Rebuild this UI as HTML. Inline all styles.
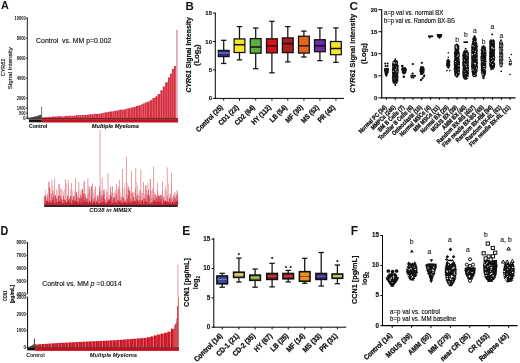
<!DOCTYPE html>
<html><head><meta charset="utf-8"><style>
html,body{margin:0;padding:0;background:#fff;overflow:hidden;}
svg{display:block;font-family:"Liberation Sans", sans-serif;will-change:transform;}
</style></head><body>
<svg width="520" height="363" viewBox="0 0 520 363">
<rect width="520" height="363" fill="#fff"/>
<text x="1" y="9.3" font-size="10.8" font-weight="bold" fill="#111" >A</text>
<text x="185.6" y="9.6" font-size="11.5" font-weight="bold" fill="#111" >B</text>
<text x="349.6" y="9.8" font-size="11.8" font-weight="bold" fill="#111" >C</text>
<text x="0.45" y="235" font-size="12" font-weight="bold" fill="#111"  textLength="7.8" lengthAdjust="spacingAndGlyphs">D</text>
<text x="182.37" y="235" font-size="12" font-weight="bold" fill="#111" >E</text>
<text x="350.77" y="235" font-size="12" font-weight="bold" fill="#111" >F</text>
<line x1="27.3" y1="17.5" x2="27.3" y2="118.7" stroke="#000" stroke-width="0.9" />
<line x1="25.8" y1="18.2" x2="27.3" y2="18.2" stroke="#000" stroke-width="0.7" />
<text x="25.6" y="19.8" font-size="4.6" font-weight="bold" text-anchor="end" fill="#111"  textLength="11.1" lengthAdjust="spacingAndGlyphs">10000</text>
<line x1="25.8" y1="38.2" x2="27.3" y2="38.2" stroke="#000" stroke-width="0.7" />
<text x="25.6" y="39.8" font-size="4.6" font-weight="bold" text-anchor="end" fill="#111"  textLength="8.88" lengthAdjust="spacingAndGlyphs">8000</text>
<line x1="25.8" y1="58.2" x2="27.3" y2="58.2" stroke="#000" stroke-width="0.7" />
<text x="25.6" y="59.8" font-size="4.6" font-weight="bold" text-anchor="end" fill="#111"  textLength="8.88" lengthAdjust="spacingAndGlyphs">6000</text>
<line x1="25.8" y1="78.2" x2="27.3" y2="78.2" stroke="#000" stroke-width="0.7" />
<text x="25.6" y="79.8" font-size="4.6" font-weight="bold" text-anchor="end" fill="#111"  textLength="8.88" lengthAdjust="spacingAndGlyphs">4000</text>
<line x1="25.8" y1="98.2" x2="27.3" y2="98.2" stroke="#000" stroke-width="0.7" />
<text x="25.6" y="99.8" font-size="4.6" font-weight="bold" text-anchor="end" fill="#111"  textLength="8.88" lengthAdjust="spacingAndGlyphs">2000</text>
<line x1="25.8" y1="108.2" x2="27.3" y2="108.2" stroke="#000" stroke-width="0.7" />
<text x="25.6" y="109.8" font-size="4.6" font-weight="bold" text-anchor="end" fill="#111"  textLength="8.88" lengthAdjust="spacingAndGlyphs">1000</text>
<line x1="25.8" y1="113.2" x2="27.3" y2="113.2" stroke="#000" stroke-width="0.7" />
<text x="25.6" y="114.8" font-size="4.6" font-weight="bold" text-anchor="end" fill="#111"  textLength="6.66" lengthAdjust="spacingAndGlyphs">500</text>
<line x1="25.8" y1="118.2" x2="27.3" y2="118.2" stroke="#000" stroke-width="0.7" />
<text x="25.6" y="119.8" font-size="4.6" font-weight="bold" text-anchor="end" fill="#111" >0</text>
<text x="0" y="0" font-size="5.6" font-style="italic" text-anchor="middle" fill="#111" transform="translate(5,67.5) rotate(-90)"  stroke="#111" stroke-width="0.15" textLength="17.4" lengthAdjust="spacingAndGlyphs">CYR61</text>
<text x="0" y="0" font-size="5.2" text-anchor="middle" fill="#111" transform="translate(11.7,68.2) rotate(-90)"  stroke="#111" stroke-width="0.15" textLength="42" lengthAdjust="spacingAndGlyphs">Signal Intensity</text>
<text x="36.1" y="43" font-size="7.6" fill="#111"  stroke="#111" stroke-width="0.15" textLength="75.2" lengthAdjust="spacingAndGlyphs">Control&#160; vs. MM p=0.002</text>
<rect x="28" y="117.7" width="0.97" height="0.5" fill="#1a1a1a" />
<rect x="28.97" y="117.65" width="0.97" height="0.55" fill="#1a1a1a" />
<rect x="29.94" y="117.54" width="0.97" height="0.66" fill="#1a1a1a" />
<rect x="30.91" y="117.39" width="0.97" height="0.81" fill="#1a1a1a" />
<rect x="31.88" y="117.21" width="0.97" height="0.99" fill="#1a1a1a" />
<rect x="32.85" y="117.01" width="0.97" height="1.19" fill="#1a1a1a" />
<rect x="33.82" y="116.77" width="0.97" height="1.43" fill="#1a1a1a" />
<rect x="34.79" y="116.51" width="0.97" height="1.69" fill="#1a1a1a" />
<rect x="35.76" y="116.23" width="0.97" height="1.97" fill="#1a1a1a" />
<rect x="36.73" y="115.92" width="0.97" height="2.28" fill="#1a1a1a" />
<rect x="37.7" y="115.6" width="0.97" height="2.6" fill="#1a1a1a" />
<rect x="38.67" y="115.25" width="0.97" height="2.95" fill="#1a1a1a" />
<rect x="39.64" y="114.88" width="0.97" height="3.32" fill="#1a1a1a" />
<rect x="40.61" y="114.5" width="0.97" height="3.7" fill="#1a1a1a" />
<rect x="41.2" y="106.6" width="0.9" height="11.6" fill="#666" />
<rect x="42" y="117.42" width="2.4" height="0.78" fill="#d42e3e" />
<rect x="43.9" y="118.02" width="0.5" height="0.18" fill="#ea7c88" />
<rect x="44.4" y="117.14" width="2.8" height="1.06" fill="#d42e3e" />
<rect x="46.7" y="117.74" width="0.5" height="0.46" fill="#ea7c88" />
<rect x="47.2" y="117.15" width="1.6" height="1.05" fill="#d42e3e" />
<rect x="48.3" y="117.75" width="0.5" height="0.45" fill="#ea7c88" />
<rect x="48.8" y="116.82" width="1.6" height="1.38" fill="#d42e3e" />
<rect x="49.9" y="117.42" width="0.5" height="0.78" fill="#ea7c88" />
<rect x="50.4" y="117.08" width="1.6" height="1.12" fill="#d42e3e" />
<rect x="51.5" y="117.68" width="0.5" height="0.52" fill="#ea7c88" />
<rect x="52" y="116.48" width="2" height="1.72" fill="#d42e3e" />
<rect x="53.5" y="117.08" width="0.5" height="1.12" fill="#ea7c88" />
<rect x="54" y="116.61" width="2.8" height="1.59" fill="#d42e3e" />
<rect x="56.3" y="117.21" width="0.5" height="0.99" fill="#ea7c88" />
<rect x="56.8" y="116.32" width="2" height="1.88" fill="#d42e3e" />
<rect x="58.3" y="116.92" width="0.5" height="1.28" fill="#ea7c88" />
<rect x="58.8" y="116.21" width="2.8" height="1.99" fill="#d42e3e" />
<rect x="61.1" y="116.81" width="0.5" height="1.39" fill="#ea7c88" />
<rect x="61.6" y="116.65" width="1.6" height="1.55" fill="#d42e3e" />
<rect x="62.7" y="117.25" width="0.5" height="0.95" fill="#ea7c88" />
<rect x="63.2" y="116.37" width="1.6" height="1.83" fill="#d42e3e" />
<rect x="64.3" y="116.97" width="0.5" height="1.23" fill="#ea7c88" />
<rect x="64.8" y="115.92" width="2.8" height="2.28" fill="#d42e3e" />
<rect x="67.1" y="116.52" width="0.5" height="1.68" fill="#ea7c88" />
<rect x="67.6" y="115.75" width="2" height="2.45" fill="#d42e3e" />
<rect x="69.1" y="116.35" width="0.5" height="1.85" fill="#ea7c88" />
<rect x="69.6" y="115.76" width="2" height="2.44" fill="#d42e3e" />
<rect x="71.1" y="116.36" width="0.5" height="1.84" fill="#ea7c88" />
<rect x="71.6" y="115.78" width="2" height="2.42" fill="#d42e3e" />
<rect x="73.1" y="116.38" width="0.5" height="1.82" fill="#ea7c88" />
<rect x="73.6" y="115.64" width="2.4" height="2.56" fill="#d42e3e" />
<rect x="75.5" y="116.24" width="0.5" height="1.96" fill="#ea7c88" />
<rect x="76" y="115.22" width="2" height="2.98" fill="#d42e3e" />
<rect x="77.5" y="115.82" width="0.5" height="2.38" fill="#ea7c88" />
<rect x="78" y="115.24" width="2" height="2.96" fill="#d42e3e" />
<rect x="79.5" y="115.84" width="0.5" height="2.36" fill="#ea7c88" />
<rect x="80" y="115.24" width="1.6" height="2.96" fill="#d42e3e" />
<rect x="81.1" y="115.84" width="0.5" height="2.36" fill="#ea7c88" />
<rect x="81.6" y="115.06" width="2" height="3.14" fill="#d42e3e" />
<rect x="83.1" y="115.66" width="0.5" height="2.54" fill="#ea7c88" />
<rect x="83.6" y="115.03" width="2.8" height="3.17" fill="#d42e3e" />
<rect x="85.9" y="115.63" width="0.5" height="2.57" fill="#ea7c88" />
<rect x="86.4" y="114.7" width="2.8" height="3.5" fill="#d42e3e" />
<rect x="88.7" y="115.3" width="0.5" height="2.9" fill="#ea7c88" />
<rect x="89.2" y="114.34" width="2.8" height="3.86" fill="#d42e3e" />
<rect x="91.5" y="114.94" width="0.5" height="3.26" fill="#ea7c88" />
<rect x="92" y="114.41" width="2" height="3.79" fill="#d42e3e" />
<rect x="93.5" y="115.01" width="0.5" height="3.19" fill="#ea7c88" />
<rect x="94" y="113.82" width="2" height="4.38" fill="#d42e3e" />
<rect x="95.5" y="114.42" width="0.5" height="3.78" fill="#ea7c88" />
<rect x="96" y="113.92" width="2.4" height="4.28" fill="#d42e3e" />
<rect x="97.9" y="114.52" width="0.5" height="3.68" fill="#ea7c88" />
<rect x="98.4" y="113.69" width="2.4" height="4.51" fill="#d42e3e" />
<rect x="100.3" y="114.29" width="0.5" height="3.91" fill="#ea7c88" />
<rect x="100.8" y="113.26" width="2.4" height="4.94" fill="#d42e3e" />
<rect x="102.7" y="113.86" width="0.5" height="4.34" fill="#ea7c88" />
<rect x="103.2" y="112.68" width="1.6" height="5.52" fill="#d42e3e" />
<rect x="104.3" y="113.28" width="0.5" height="4.92" fill="#ea7c88" />
<rect x="104.8" y="112.34" width="2.8" height="5.86" fill="#d42e3e" />
<rect x="107.1" y="112.94" width="0.5" height="5.26" fill="#ea7c88" />
<rect x="107.6" y="111.82" width="2.4" height="6.38" fill="#d42e3e" />
<rect x="109.5" y="112.42" width="0.5" height="5.78" fill="#ea7c88" />
<rect x="110" y="111.47" width="2.8" height="6.73" fill="#d42e3e" />
<rect x="112.3" y="112.07" width="0.5" height="6.13" fill="#ea7c88" />
<rect x="112.8" y="111.24" width="1.6" height="6.96" fill="#d42e3e" />
<rect x="113.9" y="111.84" width="0.5" height="6.36" fill="#ea7c88" />
<rect x="114.4" y="110.66" width="2.4" height="7.54" fill="#d42e3e" />
<rect x="116.3" y="111.26" width="0.5" height="6.94" fill="#ea7c88" />
<rect x="116.8" y="110.42" width="2.4" height="7.78" fill="#d42e3e" />
<rect x="118.7" y="111.02" width="0.5" height="7.18" fill="#ea7c88" />
<rect x="119.2" y="109.68" width="2.8" height="8.52" fill="#d42e3e" />
<rect x="121.5" y="110.28" width="0.5" height="7.92" fill="#ea7c88" />
<rect x="122" y="109.85" width="1.6" height="8.35" fill="#d42e3e" />
<rect x="123.1" y="110.45" width="0.5" height="7.75" fill="#ea7c88" />
<rect x="123.6" y="109.26" width="2.8" height="8.94" fill="#d42e3e" />
<rect x="125.9" y="109.86" width="0.5" height="8.34" fill="#ea7c88" />
<rect x="126.4" y="108.42" width="1.6" height="9.78" fill="#d42e3e" />
<rect x="127.5" y="109.02" width="0.5" height="9.18" fill="#ea7c88" />
<rect x="128" y="108.36" width="2.4" height="9.84" fill="#d42e3e" />
<rect x="129.9" y="108.96" width="0.5" height="9.24" fill="#ea7c88" />
<rect x="130.4" y="107.48" width="2.8" height="10.72" fill="#d42e3e" />
<rect x="132.7" y="108.08" width="0.5" height="10.12" fill="#ea7c88" />
<rect x="133.2" y="107.09" width="2.8" height="11.11" fill="#d42e3e" />
<rect x="135.5" y="107.69" width="0.5" height="10.51" fill="#ea7c88" />
<rect x="136" y="105.87" width="2.4" height="12.33" fill="#d42e3e" />
<rect x="137.9" y="106.47" width="0.5" height="11.73" fill="#ea7c88" />
<rect x="138.4" y="105.37" width="2.8" height="12.83" fill="#d42e3e" />
<rect x="140.7" y="105.97" width="0.5" height="12.23" fill="#ea7c88" />
<rect x="141.2" y="104.28" width="1.6" height="13.92" fill="#d42e3e" />
<rect x="142.3" y="104.88" width="0.5" height="13.32" fill="#ea7c88" />
<rect x="142.8" y="103.43" width="2" height="14.77" fill="#d42e3e" />
<rect x="144.3" y="104.03" width="0.5" height="14.17" fill="#ea7c88" />
<rect x="144.8" y="102.54" width="2" height="15.66" fill="#d42e3e" />
<rect x="146.3" y="103.14" width="0.5" height="15.06" fill="#ea7c88" />
<rect x="146.8" y="101.7" width="2.8" height="16.5" fill="#d42e3e" />
<rect x="149.1" y="102.3" width="0.5" height="15.9" fill="#ea7c88" />
<rect x="149.6" y="100.25" width="2.8" height="17.95" fill="#d42e3e" />
<rect x="151.9" y="100.85" width="0.5" height="17.35" fill="#ea7c88" />
<rect x="152.4" y="98.1" width="2.8" height="20.1" fill="#d42e3e" />
<rect x="154.7" y="98.7" width="0.5" height="19.5" fill="#ea7c88" />
<rect x="155.2" y="96.4" width="2.4" height="21.8" fill="#d42e3e" />
<rect x="157.1" y="97" width="0.5" height="21.2" fill="#ea7c88" />
<rect x="157.6" y="94.03" width="2.8" height="24.17" fill="#d42e3e" />
<rect x="159.9" y="94.63" width="0.5" height="23.57" fill="#ea7c88" />
<rect x="160.4" y="90.35" width="2.4" height="27.85" fill="#d42e3e" />
<rect x="162.3" y="90.95" width="0.5" height="27.25" fill="#ea7c88" />
<rect x="162.8" y="86.5" width="2.4" height="31.7" fill="#d42e3e" />
<rect x="164.7" y="87.1" width="0.5" height="31.1" fill="#ea7c88" />
<rect x="165.2" y="82.29" width="2.8" height="35.91" fill="#d42e3e" />
<rect x="167.5" y="82.89" width="0.5" height="35.31" fill="#ea7c88" />
<rect x="168" y="77.46" width="2" height="40.74" fill="#d42e3e" />
<rect x="169.5" y="78.06" width="0.5" height="40.14" fill="#ea7c88" />
<rect x="170" y="73.59" width="2" height="44.61" fill="#d42e3e" />
<rect x="171.5" y="74.19" width="0.5" height="44.01" fill="#ea7c88" />
<rect x="172" y="68.98" width="2" height="49.22" fill="#d42e3e" />
<rect x="173.5" y="69.58" width="0.5" height="48.62" fill="#ea7c88" />
<rect x="174" y="66.06" width="2" height="52.14" fill="#d42e3e" />
<rect x="175.5" y="66.66" width="0.5" height="51.54" fill="#ea7c88" />
<rect x="176" y="29.8" width="1.8" height="88.4" fill="#e2abb0" />
<line x1="27" y1="118.7" x2="178" y2="118.7" stroke="#3a0a0a" stroke-width="1" />
<rect x="29" y="119.4" width="12.8" height="2.9" fill="#111" />
<rect x="42" y="119.1" width="136" height="3.4" fill="#c8101c" />
<text x="29" y="127.9" font-size="5.3" font-weight="bold" fill="#111"  stroke="#111" stroke-width="0.1" textLength="18.2" lengthAdjust="spacingAndGlyphs">Control</text>
<text x="91.8" y="127.9" font-size="5.8" font-weight="bold" font-style="italic" fill="#111"  stroke="#111" stroke-width="0.1" textLength="47" lengthAdjust="spacingAndGlyphs">Multiple Myeloma</text>
<rect x="44.2" y="195.17" width="0.6" height="10.43" fill="#e68890" />
<rect x="44.9" y="189.51" width="0.6" height="16.09" fill="#e68890" />
<rect x="45.6" y="194.51" width="0.6" height="11.09" fill="#e68890" />
<rect x="46.3" y="198.38" width="0.6" height="7.22" fill="#e68890" />
<rect x="47" y="193.04" width="0.6" height="12.56" fill="#e68890" />
<rect x="47.7" y="199.47" width="0.6" height="6.13" fill="#e68890" />
<rect x="48.4" y="199.51" width="0.6" height="6.09" fill="#e68890" />
<rect x="49.1" y="181.74" width="0.6" height="23.86" fill="#e68890" />
<rect x="49.8" y="189.02" width="0.6" height="16.58" fill="#e68890" />
<rect x="50.5" y="193.21" width="0.6" height="12.39" fill="#e68890" />
<rect x="51.2" y="200.42" width="0.6" height="5.18" fill="#e68890" />
<rect x="51.9" y="199.89" width="0.6" height="5.71" fill="#e68890" />
<rect x="52.6" y="185.89" width="0.6" height="19.71" fill="#e68890" />
<rect x="53.3" y="195.31" width="0.6" height="10.29" fill="#e68890" />
<rect x="54" y="194.37" width="0.6" height="11.23" fill="#e68890" />
<rect x="54.7" y="194.6" width="0.6" height="11" fill="#e68890" />
<rect x="55.4" y="195.11" width="0.6" height="10.49" fill="#e68890" />
<rect x="56.1" y="188.63" width="0.6" height="16.97" fill="#e68890" />
<rect x="56.8" y="190.52" width="0.6" height="15.08" fill="#e68890" />
<rect x="57.5" y="196.82" width="0.6" height="8.78" fill="#e68890" />
<rect x="58.2" y="183.47" width="0.6" height="22.13" fill="#e68890" />
<rect x="58.9" y="195.8" width="0.6" height="9.8" fill="#e68890" />
<rect x="59.6" y="195.96" width="0.6" height="9.64" fill="#e68890" />
<rect x="60.3" y="187.92" width="0.6" height="17.68" fill="#e68890" />
<rect x="61" y="189.68" width="0.6" height="15.92" fill="#e68890" />
<rect x="61.7" y="188.84" width="0.6" height="16.76" fill="#e68890" />
<rect x="62.4" y="199.72" width="0.6" height="5.88" fill="#e68890" />
<rect x="63.1" y="191.26" width="0.6" height="14.34" fill="#e68890" />
<rect x="63.8" y="199.55" width="0.6" height="6.05" fill="#e68890" />
<rect x="64.5" y="189.03" width="0.6" height="16.57" fill="#e68890" />
<rect x="65.2" y="199.18" width="0.6" height="6.42" fill="#e68890" />
<rect x="65.9" y="183.22" width="0.6" height="22.38" fill="#e68890" />
<rect x="66.6" y="198.47" width="0.6" height="7.13" fill="#e68890" />
<rect x="67.3" y="195.23" width="0.6" height="10.37" fill="#e68890" />
<rect x="68" y="184.45" width="0.6" height="21.15" fill="#e68890" />
<rect x="68.7" y="199.2" width="0.6" height="6.4" fill="#e68890" />
<rect x="69.4" y="198.05" width="0.6" height="7.55" fill="#e68890" />
<rect x="70.1" y="188.95" width="0.6" height="16.65" fill="#e68890" />
<rect x="70.8" y="196.95" width="0.6" height="8.65" fill="#e68890" />
<rect x="71.5" y="198.07" width="0.6" height="7.53" fill="#e68890" />
<rect x="72.2" y="190.35" width="0.6" height="15.25" fill="#e68890" />
<rect x="72.9" y="199.4" width="0.6" height="6.2" fill="#e68890" />
<rect x="73.6" y="198.04" width="0.6" height="7.56" fill="#e68890" />
<rect x="74.3" y="191.33" width="0.6" height="14.27" fill="#e68890" />
<rect x="75" y="188.88" width="0.6" height="16.72" fill="#e68890" />
<rect x="75.7" y="193.61" width="0.6" height="11.99" fill="#e68890" />
<rect x="76.4" y="193.38" width="0.6" height="12.22" fill="#e68890" />
<rect x="77.1" y="195.16" width="0.6" height="10.44" fill="#e68890" />
<rect x="77.8" y="194.8" width="0.6" height="10.8" fill="#e68890" />
<rect x="78.5" y="190.2" width="0.6" height="15.4" fill="#e68890" />
<rect x="79.2" y="198.75" width="0.6" height="6.85" fill="#e68890" />
<rect x="79.9" y="190.79" width="0.6" height="14.81" fill="#e68890" />
<rect x="80.6" y="198.32" width="0.6" height="7.28" fill="#e68890" />
<rect x="81.3" y="189.32" width="0.6" height="16.28" fill="#e68890" />
<rect x="82" y="189.2" width="0.6" height="16.4" fill="#e68890" />
<rect x="82.7" y="193.36" width="0.6" height="12.24" fill="#e68890" />
<rect x="83.4" y="181.9" width="0.6" height="23.7" fill="#e68890" />
<rect x="84.1" y="197.74" width="0.6" height="7.86" fill="#e68890" />
<rect x="84.8" y="197.52" width="0.6" height="8.08" fill="#e68890" />
<rect x="85.5" y="193.44" width="0.6" height="12.16" fill="#e68890" />
<rect x="86.2" y="198.49" width="0.6" height="7.11" fill="#e68890" />
<rect x="86.9" y="199.77" width="0.6" height="5.83" fill="#e68890" />
<rect x="87.6" y="193.89" width="0.6" height="11.71" fill="#e68890" />
<rect x="88.3" y="193.23" width="0.6" height="12.37" fill="#e68890" />
<rect x="89" y="189.59" width="0.6" height="16.01" fill="#e68890" />
<rect x="89.7" y="200.4" width="0.6" height="5.2" fill="#e68890" />
<rect x="90.4" y="188.19" width="0.6" height="17.41" fill="#e68890" />
<rect x="91.1" y="196.17" width="0.6" height="9.43" fill="#e68890" />
<rect x="91.8" y="199.02" width="0.6" height="6.58" fill="#e68890" />
<rect x="92.5" y="189.91" width="0.6" height="15.69" fill="#e68890" />
<rect x="93.2" y="192.72" width="0.6" height="12.88" fill="#e68890" />
<rect x="93.9" y="189.32" width="0.6" height="16.28" fill="#e68890" />
<rect x="94.6" y="200.39" width="0.6" height="5.21" fill="#e68890" />
<rect x="95.3" y="192.19" width="0.6" height="13.41" fill="#e68890" />
<rect x="96" y="200.34" width="0.6" height="5.26" fill="#e68890" />
<rect x="96.7" y="194.81" width="0.6" height="10.79" fill="#e68890" />
<rect x="97.4" y="196.77" width="0.6" height="8.83" fill="#e68890" />
<rect x="98.1" y="199.7" width="0.6" height="5.9" fill="#e68890" />
<rect x="98.8" y="191.76" width="0.6" height="13.84" fill="#e68890" />
<rect x="99.5" y="191.75" width="0.6" height="13.85" fill="#e68890" />
<rect x="100.2" y="191.08" width="0.6" height="14.52" fill="#e68890" />
<rect x="100.9" y="196.38" width="0.6" height="9.22" fill="#e68890" />
<rect x="101.6" y="189.79" width="0.6" height="15.81" fill="#e68890" />
<rect x="102.3" y="195.59" width="0.6" height="10.01" fill="#e68890" />
<rect x="103" y="190.24" width="0.6" height="15.36" fill="#e68890" />
<rect x="103.7" y="193.1" width="0.6" height="12.5" fill="#e68890" />
<rect x="104.4" y="193.61" width="0.6" height="11.99" fill="#e68890" />
<rect x="105.1" y="199.64" width="0.6" height="5.96" fill="#e68890" />
<rect x="105.8" y="188.68" width="0.6" height="16.92" fill="#e68890" />
<rect x="106.5" y="191.86" width="0.6" height="13.74" fill="#e68890" />
<rect x="107.2" y="191.78" width="0.6" height="13.82" fill="#e68890" />
<rect x="107.9" y="195.31" width="0.6" height="10.29" fill="#e68890" />
<rect x="108.6" y="199.59" width="0.6" height="6.01" fill="#e68890" />
<rect x="109.3" y="200.24" width="0.6" height="5.36" fill="#e68890" />
<rect x="110" y="194.83" width="0.6" height="10.77" fill="#e68890" />
<rect x="110.7" y="192.22" width="0.6" height="13.38" fill="#e68890" />
<rect x="111.4" y="193.23" width="0.6" height="12.37" fill="#e68890" />
<rect x="112.1" y="187.19" width="0.6" height="18.41" fill="#e68890" />
<rect x="112.8" y="192.46" width="0.6" height="13.14" fill="#e68890" />
<rect x="113.5" y="198.56" width="0.6" height="7.04" fill="#e68890" />
<rect x="114.2" y="192.68" width="0.6" height="12.92" fill="#e68890" />
<rect x="114.9" y="189.9" width="0.6" height="15.7" fill="#e68890" />
<rect x="115.6" y="192.61" width="0.6" height="12.99" fill="#e68890" />
<rect x="116.3" y="195.43" width="0.6" height="10.17" fill="#e68890" />
<rect x="117" y="189.63" width="0.6" height="15.97" fill="#e68890" />
<rect x="117.7" y="195.99" width="0.6" height="9.61" fill="#e68890" />
<rect x="118.4" y="185.63" width="0.6" height="19.97" fill="#e68890" />
<rect x="119.1" y="190.55" width="0.6" height="15.05" fill="#e68890" />
<rect x="119.8" y="192.07" width="0.6" height="13.53" fill="#e68890" />
<rect x="120.5" y="197.28" width="0.6" height="8.32" fill="#e68890" />
<rect x="121.2" y="195.19" width="0.6" height="10.41" fill="#e68890" />
<rect x="121.9" y="198.03" width="0.6" height="7.57" fill="#e68890" />
<rect x="122.6" y="193.09" width="0.6" height="12.51" fill="#e68890" />
<rect x="123.3" y="196.82" width="0.6" height="8.78" fill="#e68890" />
<rect x="124" y="188.82" width="0.6" height="16.78" fill="#e68890" />
<rect x="124.7" y="182.62" width="0.6" height="22.98" fill="#e68890" />
<rect x="125.4" y="200.1" width="0.6" height="5.5" fill="#e68890" />
<rect x="126.1" y="193.75" width="0.6" height="11.85" fill="#e68890" />
<rect x="126.8" y="188.51" width="0.6" height="17.09" fill="#e68890" />
<rect x="127.5" y="182.96" width="0.6" height="22.64" fill="#e68890" />
<rect x="128.2" y="189.22" width="0.6" height="16.38" fill="#e68890" />
<rect x="128.9" y="193.05" width="0.6" height="12.55" fill="#e68890" />
<rect x="129.6" y="193.04" width="0.6" height="12.56" fill="#e68890" />
<rect x="130.3" y="190.91" width="0.6" height="14.69" fill="#e68890" />
<rect x="131" y="192.39" width="0.6" height="13.21" fill="#e68890" />
<rect x="131.7" y="194.9" width="0.6" height="10.7" fill="#e68890" />
<rect x="132.4" y="200.47" width="0.6" height="5.13" fill="#e68890" />
<rect x="133.1" y="192.03" width="0.6" height="13.57" fill="#e68890" />
<rect x="133.8" y="197.33" width="0.6" height="8.27" fill="#e68890" />
<rect x="134.5" y="192.23" width="0.6" height="13.37" fill="#e68890" />
<rect x="135.2" y="193.23" width="0.6" height="12.37" fill="#e68890" />
<rect x="135.9" y="195.88" width="0.6" height="9.72" fill="#e68890" />
<rect x="136.6" y="182.14" width="0.6" height="23.46" fill="#e68890" />
<rect x="137.3" y="185.97" width="0.6" height="19.63" fill="#e68890" />
<rect x="138" y="193.09" width="0.6" height="12.51" fill="#e68890" />
<rect x="138.7" y="196.08" width="0.6" height="9.52" fill="#e68890" />
<rect x="139.4" y="190.05" width="0.6" height="15.55" fill="#e68890" />
<rect x="140.1" y="189.27" width="0.6" height="16.33" fill="#e68890" />
<rect x="140.8" y="192.78" width="0.6" height="12.82" fill="#e68890" />
<rect x="141.5" y="191.94" width="0.6" height="13.66" fill="#e68890" />
<rect x="142.2" y="192.9" width="0.6" height="12.7" fill="#e68890" />
<rect x="142.9" y="198.04" width="0.6" height="7.56" fill="#e68890" />
<rect x="143.6" y="188.83" width="0.6" height="16.77" fill="#e68890" />
<rect x="144.3" y="194.16" width="0.6" height="11.44" fill="#e68890" />
<rect x="145" y="196.76" width="0.6" height="8.84" fill="#e68890" />
<rect x="145.7" y="190.33" width="0.6" height="15.27" fill="#e68890" />
<rect x="146.4" y="199.61" width="0.6" height="5.99" fill="#e68890" />
<rect x="147.1" y="194" width="0.6" height="11.6" fill="#e68890" />
<rect x="147.8" y="183.13" width="0.6" height="22.47" fill="#e68890" />
<rect x="148.5" y="199.83" width="0.6" height="5.77" fill="#e68890" />
<rect x="149.2" y="198.53" width="0.6" height="7.07" fill="#e68890" />
<rect x="149.9" y="188.41" width="0.6" height="17.19" fill="#e68890" />
<rect x="150.6" y="194.4" width="0.6" height="11.2" fill="#e68890" />
<rect x="151.3" y="190.52" width="0.6" height="15.08" fill="#e68890" />
<rect x="152" y="189.25" width="0.6" height="16.35" fill="#e68890" />
<rect x="152.7" y="187.83" width="0.6" height="17.77" fill="#e68890" />
<rect x="153.4" y="194.28" width="0.6" height="11.32" fill="#e68890" />
<rect x="154.1" y="191.85" width="0.6" height="13.75" fill="#e68890" />
<rect x="154.8" y="194.33" width="0.6" height="11.27" fill="#e68890" />
<rect x="155.5" y="193.88" width="0.6" height="11.72" fill="#e68890" />
<rect x="156.2" y="196.03" width="0.6" height="9.57" fill="#e68890" />
<rect x="156.9" y="189.79" width="0.6" height="15.81" fill="#e68890" />
<rect x="157.6" y="190.39" width="0.6" height="15.21" fill="#e68890" />
<rect x="158.3" y="194.31" width="0.6" height="11.29" fill="#e68890" />
<rect x="159" y="198.19" width="0.6" height="7.41" fill="#e68890" />
<rect x="159.7" y="194.56" width="0.6" height="11.04" fill="#e68890" />
<rect x="160.4" y="200.27" width="0.6" height="5.33" fill="#e68890" />
<rect x="161.1" y="194.41" width="0.6" height="11.19" fill="#e68890" />
<rect x="161.8" y="190.99" width="0.6" height="14.61" fill="#e68890" />
<rect x="162.5" y="194.71" width="0.6" height="10.89" fill="#e68890" />
<rect x="163.2" y="199.81" width="0.6" height="5.79" fill="#e68890" />
<rect x="163.9" y="195.63" width="0.6" height="9.97" fill="#e68890" />
<rect x="164.6" y="189.52" width="0.6" height="16.08" fill="#e68890" />
<rect x="165.3" y="186.13" width="0.6" height="19.47" fill="#e68890" />
<rect x="166" y="190.81" width="0.6" height="14.79" fill="#e68890" />
<rect x="166.7" y="194.88" width="0.6" height="10.72" fill="#e68890" />
<rect x="167.4" y="198.3" width="0.6" height="7.3" fill="#e68890" />
<rect x="168.1" y="183.37" width="0.6" height="22.23" fill="#e68890" />
<rect x="168.8" y="200.33" width="0.6" height="5.27" fill="#e68890" />
<rect x="169.5" y="197.87" width="0.6" height="7.73" fill="#e68890" />
<rect x="170.2" y="196.74" width="0.6" height="8.86" fill="#e68890" />
<rect x="170.9" y="183.75" width="0.6" height="21.85" fill="#e68890" />
<rect x="171.6" y="199.13" width="0.6" height="6.47" fill="#e68890" />
<rect x="172.3" y="197.59" width="0.6" height="8.01" fill="#e68890" />
<rect x="173" y="194.24" width="0.6" height="11.36" fill="#e68890" />
<rect x="173.7" y="196.09" width="0.6" height="9.51" fill="#e68890" />
<rect x="174.4" y="194.25" width="0.6" height="11.35" fill="#e68890" />
<rect x="175.1" y="198.15" width="0.6" height="7.45" fill="#e68890" />
<rect x="175.8" y="192.94" width="0.6" height="12.66" fill="#e68890" />
<rect x="176.5" y="190.38" width="0.6" height="15.22" fill="#e68890" />
<rect x="177.2" y="190.32" width="0.6" height="15.28" fill="#e68890" />
<rect x="44.5" y="196.93" width="0.6" height="8.67" fill="#c81a2a" />
<rect x="45.25" y="195.48" width="0.6" height="10.12" fill="#c81a2a" />
<rect x="46" y="200.77" width="0.6" height="4.83" fill="#c81a2a" />
<rect x="46.75" y="201.64" width="0.6" height="3.96" fill="#c81a2a" />
<rect x="47.5" y="195.61" width="0.6" height="9.99" fill="#c81a2a" />
<rect x="48.25" y="201.45" width="0.6" height="4.15" fill="#c81a2a" />
<rect x="49" y="187.28" width="0.6" height="18.32" fill="#c81a2a" />
<rect x="49.75" y="199.81" width="0.6" height="5.79" fill="#c81a2a" />
<rect x="50.5" y="202.47" width="0.6" height="3.13" fill="#c81a2a" />
<rect x="51.25" y="193.59" width="0.6" height="12.01" fill="#c81a2a" />
<rect x="52" y="197.46" width="0.6" height="8.14" fill="#c81a2a" />
<rect x="52.75" y="190.54" width="0.6" height="15.06" fill="#c81a2a" />
<rect x="53.5" y="196.78" width="0.6" height="8.82" fill="#c81a2a" />
<rect x="54.25" y="197.43" width="0.6" height="8.17" fill="#c81a2a" />
<rect x="55" y="195.23" width="0.6" height="10.37" fill="#c81a2a" />
<rect x="55.75" y="198.63" width="0.6" height="6.97" fill="#c81a2a" />
<rect x="56.5" y="198.48" width="0.6" height="7.12" fill="#c81a2a" />
<rect x="57.25" y="201.94" width="0.6" height="3.66" fill="#c81a2a" />
<rect x="58" y="196.04" width="0.6" height="9.56" fill="#c81a2a" />
<rect x="58.75" y="194.98" width="0.6" height="10.62" fill="#c81a2a" />
<rect x="59.5" y="195.04" width="0.6" height="10.56" fill="#c81a2a" />
<rect x="60.25" y="196.72" width="0.6" height="8.88" fill="#c81a2a" />
<rect x="61" y="199.4" width="0.6" height="6.2" fill="#c81a2a" />
<rect x="61.75" y="199.73" width="0.6" height="5.87" fill="#c81a2a" />
<rect x="62.5" y="203.48" width="0.6" height="2.12" fill="#c81a2a" />
<rect x="63.25" y="196" width="0.6" height="9.6" fill="#c81a2a" />
<rect x="64" y="199.51" width="0.6" height="6.09" fill="#c81a2a" />
<rect x="64.75" y="199.95" width="0.6" height="5.65" fill="#c81a2a" />
<rect x="65.5" y="202.11" width="0.6" height="3.49" fill="#c81a2a" />
<rect x="66.25" y="203.46" width="0.6" height="2.14" fill="#c81a2a" />
<rect x="67" y="196.38" width="0.6" height="9.22" fill="#c81a2a" />
<rect x="67.75" y="195.85" width="0.6" height="9.75" fill="#c81a2a" />
<rect x="68.5" y="199.96" width="0.6" height="5.64" fill="#c81a2a" />
<rect x="69.25" y="199.06" width="0.6" height="6.54" fill="#c81a2a" />
<rect x="70" y="196.36" width="0.6" height="9.24" fill="#c81a2a" />
<rect x="70.75" y="195.4" width="0.6" height="10.2" fill="#c81a2a" />
<rect x="71.5" y="196.6" width="0.6" height="9" fill="#c81a2a" />
<rect x="72.25" y="199.95" width="0.6" height="5.65" fill="#c81a2a" />
<rect x="73" y="195.68" width="0.6" height="9.92" fill="#c81a2a" />
<rect x="73.75" y="196.69" width="0.6" height="8.91" fill="#c81a2a" />
<rect x="74.5" y="199.95" width="0.6" height="5.65" fill="#c81a2a" />
<rect x="75.25" y="202.97" width="0.6" height="2.63" fill="#c81a2a" />
<rect x="76" y="192.04" width="0.6" height="13.56" fill="#c81a2a" />
<rect x="76.75" y="197.85" width="0.6" height="7.75" fill="#c81a2a" />
<rect x="77.5" y="201.51" width="0.6" height="4.09" fill="#c81a2a" />
<rect x="78.25" y="197.61" width="0.6" height="7.99" fill="#c81a2a" />
<rect x="79" y="197.66" width="0.6" height="7.94" fill="#c81a2a" />
<rect x="79.75" y="198.8" width="0.6" height="6.8" fill="#c81a2a" />
<rect x="80.5" y="194.6" width="0.6" height="11" fill="#c81a2a" />
<rect x="81.25" y="197.29" width="0.6" height="8.31" fill="#c81a2a" />
<rect x="82" y="189.45" width="0.6" height="16.15" fill="#c81a2a" />
<rect x="82.75" y="196.95" width="0.6" height="8.65" fill="#c81a2a" />
<rect x="83.5" y="193.65" width="0.6" height="11.95" fill="#c81a2a" />
<rect x="84.25" y="193.09" width="0.6" height="12.51" fill="#c81a2a" />
<rect x="85" y="195.45" width="0.6" height="10.15" fill="#c81a2a" />
<rect x="85.75" y="199.03" width="0.6" height="6.57" fill="#c81a2a" />
<rect x="86.5" y="198.49" width="0.6" height="7.11" fill="#c81a2a" />
<rect x="87.25" y="197.86" width="0.6" height="7.74" fill="#c81a2a" />
<rect x="88" y="202.91" width="0.6" height="2.69" fill="#c81a2a" />
<rect x="88.75" y="186.3" width="0.6" height="19.3" fill="#c81a2a" />
<rect x="89.5" y="202.16" width="0.6" height="3.44" fill="#c81a2a" />
<rect x="90.25" y="202.08" width="0.6" height="3.52" fill="#c81a2a" />
<rect x="91" y="186.15" width="0.6" height="19.45" fill="#c81a2a" />
<rect x="91.75" y="199.81" width="0.6" height="5.79" fill="#c81a2a" />
<rect x="92.5" y="198.22" width="0.6" height="7.38" fill="#c81a2a" />
<rect x="93.25" y="201.03" width="0.6" height="4.57" fill="#c81a2a" />
<rect x="94" y="198.55" width="0.6" height="7.05" fill="#c81a2a" />
<rect x="94.75" y="197.15" width="0.6" height="8.45" fill="#c81a2a" />
<rect x="95.5" y="203.47" width="0.6" height="2.13" fill="#c81a2a" />
<rect x="96.25" y="203.22" width="0.6" height="2.38" fill="#c81a2a" />
<rect x="97" y="196.81" width="0.6" height="8.79" fill="#c81a2a" />
<rect x="97.75" y="195.52" width="0.6" height="10.08" fill="#c81a2a" />
<rect x="98.5" y="203.15" width="0.6" height="2.45" fill="#c81a2a" />
<rect x="99.25" y="186.54" width="0.6" height="19.06" fill="#c81a2a" />
<rect x="100" y="199.73" width="0.6" height="5.87" fill="#c81a2a" />
<rect x="100.75" y="194.84" width="0.6" height="10.76" fill="#c81a2a" />
<rect x="101.5" y="198.89" width="0.6" height="6.71" fill="#c81a2a" />
<rect x="102.25" y="197.1" width="0.6" height="8.5" fill="#c81a2a" />
<rect x="103" y="194.79" width="0.6" height="10.81" fill="#c81a2a" />
<rect x="103.75" y="189.36" width="0.6" height="16.24" fill="#c81a2a" />
<rect x="104.5" y="199.5" width="0.6" height="6.1" fill="#c81a2a" />
<rect x="105.25" y="203.13" width="0.6" height="2.47" fill="#c81a2a" />
<rect x="106" y="202.48" width="0.6" height="3.12" fill="#c81a2a" />
<rect x="106.75" y="197.59" width="0.6" height="8.01" fill="#c81a2a" />
<rect x="107.5" y="201.24" width="0.6" height="4.36" fill="#c81a2a" />
<rect x="108.25" y="199.82" width="0.6" height="5.78" fill="#c81a2a" />
<rect x="109" y="198.82" width="0.6" height="6.78" fill="#c81a2a" />
<rect x="109.75" y="195.03" width="0.6" height="10.57" fill="#c81a2a" />
<rect x="110.5" y="186.67" width="0.6" height="18.93" fill="#c81a2a" />
<rect x="111.25" y="196.54" width="0.6" height="9.06" fill="#c81a2a" />
<rect x="112" y="200.37" width="0.6" height="5.23" fill="#c81a2a" />
<rect x="112.75" y="197.43" width="0.6" height="8.17" fill="#c81a2a" />
<rect x="113.5" y="198.27" width="0.6" height="7.33" fill="#c81a2a" />
<rect x="114.25" y="196.82" width="0.6" height="8.78" fill="#c81a2a" />
<rect x="115" y="201.36" width="0.6" height="4.24" fill="#c81a2a" />
<rect x="115.75" y="195.36" width="0.6" height="10.24" fill="#c81a2a" />
<rect x="116.5" y="192.89" width="0.6" height="12.71" fill="#c81a2a" />
<rect x="117.25" y="199.77" width="0.6" height="5.83" fill="#c81a2a" />
<rect x="118" y="202.68" width="0.6" height="2.92" fill="#c81a2a" />
<rect x="118.75" y="188.84" width="0.6" height="16.76" fill="#c81a2a" />
<rect x="119.5" y="198.64" width="0.6" height="6.96" fill="#c81a2a" />
<rect x="120.25" y="200.24" width="0.6" height="5.36" fill="#c81a2a" />
<rect x="121" y="201.7" width="0.6" height="3.9" fill="#c81a2a" />
<rect x="121.75" y="196.9" width="0.6" height="8.7" fill="#c81a2a" />
<rect x="122.5" y="187.51" width="0.6" height="18.09" fill="#c81a2a" />
<rect x="123.25" y="197.99" width="0.6" height="7.61" fill="#c81a2a" />
<rect x="124" y="201.68" width="0.6" height="3.92" fill="#c81a2a" />
<rect x="124.75" y="201.28" width="0.6" height="4.32" fill="#c81a2a" />
<rect x="125.5" y="200.28" width="0.6" height="5.32" fill="#c81a2a" />
<rect x="126.25" y="194.7" width="0.6" height="10.9" fill="#c81a2a" />
<rect x="127" y="198.66" width="0.6" height="6.94" fill="#c81a2a" />
<rect x="127.75" y="195.31" width="0.6" height="10.29" fill="#c81a2a" />
<rect x="128.5" y="186.85" width="0.6" height="18.75" fill="#c81a2a" />
<rect x="129.25" y="189.96" width="0.6" height="15.64" fill="#c81a2a" />
<rect x="130" y="199.24" width="0.6" height="6.36" fill="#c81a2a" />
<rect x="130.75" y="200.91" width="0.6" height="4.69" fill="#c81a2a" />
<rect x="131.5" y="202.92" width="0.6" height="2.68" fill="#c81a2a" />
<rect x="132.25" y="192.56" width="0.6" height="13.04" fill="#c81a2a" />
<rect x="133" y="197.08" width="0.6" height="8.52" fill="#c81a2a" />
<rect x="133.75" y="201.05" width="0.6" height="4.55" fill="#c81a2a" />
<rect x="134.5" y="200.38" width="0.6" height="5.22" fill="#c81a2a" />
<rect x="135.25" y="188.51" width="0.6" height="17.09" fill="#c81a2a" />
<rect x="136" y="198.48" width="0.6" height="7.12" fill="#c81a2a" />
<rect x="136.75" y="195.14" width="0.6" height="10.46" fill="#c81a2a" />
<rect x="137.5" y="199.66" width="0.6" height="5.94" fill="#c81a2a" />
<rect x="138.25" y="200.86" width="0.6" height="4.74" fill="#c81a2a" />
<rect x="139" y="200" width="0.6" height="5.6" fill="#c81a2a" />
<rect x="139.75" y="195.55" width="0.6" height="10.05" fill="#c81a2a" />
<rect x="140.5" y="200.34" width="0.6" height="5.26" fill="#c81a2a" />
<rect x="141.25" y="200.33" width="0.6" height="5.27" fill="#c81a2a" />
<rect x="142" y="200.11" width="0.6" height="5.49" fill="#c81a2a" />
<rect x="142.75" y="198.53" width="0.6" height="7.07" fill="#c81a2a" />
<rect x="143.5" y="198.73" width="0.6" height="6.87" fill="#c81a2a" />
<rect x="144.25" y="198.53" width="0.6" height="7.07" fill="#c81a2a" />
<rect x="145" y="196.77" width="0.6" height="8.83" fill="#c81a2a" />
<rect x="145.75" y="190.44" width="0.6" height="15.16" fill="#c81a2a" />
<rect x="146.5" y="198.7" width="0.6" height="6.9" fill="#c81a2a" />
<rect x="147.25" y="194.9" width="0.6" height="10.7" fill="#c81a2a" />
<rect x="148" y="190.13" width="0.6" height="15.47" fill="#c81a2a" />
<rect x="148.75" y="194.78" width="0.6" height="10.82" fill="#c81a2a" />
<rect x="149.5" y="196.97" width="0.6" height="8.63" fill="#c81a2a" />
<rect x="150.25" y="202.84" width="0.6" height="2.76" fill="#c81a2a" />
<rect x="151" y="202.31" width="0.6" height="3.29" fill="#c81a2a" />
<rect x="151.75" y="197.76" width="0.6" height="7.84" fill="#c81a2a" />
<rect x="152.5" y="201.62" width="0.6" height="3.98" fill="#c81a2a" />
<rect x="153.25" y="198.91" width="0.6" height="6.69" fill="#c81a2a" />
<rect x="154" y="200.05" width="0.6" height="5.55" fill="#c81a2a" />
<rect x="154.75" y="194.89" width="0.6" height="10.71" fill="#c81a2a" />
<rect x="155.5" y="199.16" width="0.6" height="6.44" fill="#c81a2a" />
<rect x="156.25" y="197.11" width="0.6" height="8.49" fill="#c81a2a" />
<rect x="157" y="195.37" width="0.6" height="10.23" fill="#c81a2a" />
<rect x="157.75" y="196.16" width="0.6" height="9.44" fill="#c81a2a" />
<rect x="158.5" y="195.92" width="0.6" height="9.68" fill="#c81a2a" />
<rect x="159.25" y="196.1" width="0.6" height="9.5" fill="#c81a2a" />
<rect x="160" y="194.98" width="0.6" height="10.62" fill="#c81a2a" />
<rect x="160.75" y="198.89" width="0.6" height="6.71" fill="#c81a2a" />
<rect x="161.5" y="196.38" width="0.6" height="9.22" fill="#c81a2a" />
<rect x="162.25" y="199.82" width="0.6" height="5.78" fill="#c81a2a" />
<rect x="163" y="196.93" width="0.6" height="8.67" fill="#c81a2a" />
<rect x="163.75" y="200.22" width="0.6" height="5.38" fill="#c81a2a" />
<rect x="164.5" y="201.76" width="0.6" height="3.84" fill="#c81a2a" />
<rect x="165.25" y="200.97" width="0.6" height="4.63" fill="#c81a2a" />
<rect x="166" y="203.07" width="0.6" height="2.53" fill="#c81a2a" />
<rect x="166.75" y="202.57" width="0.6" height="3.03" fill="#c81a2a" />
<rect x="167.5" y="196.62" width="0.6" height="8.98" fill="#c81a2a" />
<rect x="168.25" y="203.04" width="0.6" height="2.56" fill="#c81a2a" />
<rect x="169" y="198.34" width="0.6" height="7.26" fill="#c81a2a" />
<rect x="169.75" y="193.75" width="0.6" height="11.85" fill="#c81a2a" />
<rect x="170.5" y="201.64" width="0.6" height="3.96" fill="#c81a2a" />
<rect x="171.25" y="197.14" width="0.6" height="8.46" fill="#c81a2a" />
<rect x="172" y="201.58" width="0.6" height="4.02" fill="#c81a2a" />
<rect x="172.75" y="201.07" width="0.6" height="4.53" fill="#c81a2a" />
<rect x="173.5" y="196.78" width="0.6" height="8.82" fill="#c81a2a" />
<rect x="174.25" y="198.67" width="0.6" height="6.93" fill="#c81a2a" />
<rect x="175" y="199.28" width="0.6" height="6.32" fill="#c81a2a" />
<rect x="175.75" y="195.61" width="0.6" height="9.99" fill="#c81a2a" />
<rect x="176.5" y="200.52" width="0.6" height="5.08" fill="#c81a2a" />
<rect x="177.25" y="194.99" width="0.6" height="10.61" fill="#c81a2a" />
<rect x="48" y="181.7" width="0.75" height="23.9" fill="#de7f89" />
<rect x="51.6" y="180" width="0.75" height="25.6" fill="#de7f89" />
<rect x="54.3" y="178.2" width="0.75" height="27.4" fill="#de7f89" />
<rect x="65" y="179" width="0.75" height="26.6" fill="#de7f89" />
<rect x="67.8" y="180" width="0.75" height="25.6" fill="#de7f89" />
<rect x="75" y="178" width="0.75" height="27.6" fill="#de7f89" />
<rect x="78.5" y="181.7" width="0.75" height="23.9" fill="#de7f89" />
<rect x="84" y="180.8" width="0.75" height="24.8" fill="#de7f89" />
<rect x="87.5" y="178.2" width="0.75" height="27.4" fill="#de7f89" />
<rect x="92" y="183.5" width="0.75" height="22.1" fill="#de7f89" />
<rect x="99.7" y="130" width="0.75" height="75.6" fill="#de7f89" />
<rect x="101.8" y="178" width="0.75" height="27.6" fill="#de7f89" />
<rect x="107.7" y="172.8" width="0.75" height="32.8" fill="#de7f89" />
<rect x="112" y="186" width="0.75" height="19.6" fill="#de7f89" />
<rect x="119.3" y="180" width="0.75" height="25.6" fill="#de7f89" />
<rect x="122" y="169" width="0.75" height="36.6" fill="#de7f89" />
<rect x="126.1" y="156.6" width="0.75" height="49" fill="#de7f89" />
<rect x="131" y="171" width="0.75" height="34.6" fill="#de7f89" />
<rect x="135.4" y="168.3" width="0.75" height="37.3" fill="#de7f89" />
<rect x="140.5" y="170" width="0.75" height="35.6" fill="#de7f89" />
<rect x="145.3" y="185.3" width="0.75" height="20.3" fill="#de7f89" />
<rect x="149.8" y="179" width="0.75" height="26.6" fill="#de7f89" />
<rect x="153.3" y="166.5" width="0.75" height="39.1" fill="#de7f89" />
<rect x="157" y="182.6" width="0.75" height="23" fill="#de7f89" />
<rect x="162" y="181.7" width="0.75" height="23.9" fill="#de7f89" />
<rect x="166.8" y="167.4" width="0.75" height="38.2" fill="#de7f89" />
<rect x="171" y="172.9" width="0.75" height="32.7" fill="#de7f89" />
<rect x="174.5" y="191.8" width="0.75" height="13.8" fill="#de7f89" />
<rect x="146.5" y="185" width="0.75" height="20.6" fill="#de7f89" />
<rect x="150.3" y="179" width="0.75" height="26.6" fill="#de7f89" />
<rect x="59" y="184" width="0.75" height="21.6" fill="#de7f89" />
<rect x="71" y="183" width="0.75" height="22.6" fill="#de7f89" />
<rect x="95" y="186" width="0.75" height="19.6" fill="#de7f89" />
<rect x="116" y="184" width="0.75" height="21.6" fill="#de7f89" />
<rect x="143" y="182" width="0.75" height="23.6" fill="#de7f89" />
<rect x="44.2" y="203.33" width="0.9" height="2.27" fill="#c41a2a" />
<rect x="45.2" y="203.93" width="0.9" height="1.67" fill="#c41a2a" />
<rect x="46.2" y="200.78" width="0.9" height="4.82" fill="#c41a2a" />
<rect x="47.2" y="201.3" width="0.9" height="4.3" fill="#c41a2a" />
<rect x="48.2" y="202.75" width="0.9" height="2.85" fill="#c41a2a" />
<rect x="49.2" y="202.25" width="0.9" height="3.35" fill="#c41a2a" />
<rect x="50.2" y="202.29" width="0.9" height="3.31" fill="#c41a2a" />
<rect x="51.2" y="203.14" width="0.9" height="2.46" fill="#c41a2a" />
<rect x="52.2" y="200.63" width="0.9" height="4.97" fill="#c41a2a" />
<rect x="53.2" y="201.8" width="0.9" height="3.8" fill="#c41a2a" />
<rect x="54.2" y="203.27" width="0.9" height="2.33" fill="#c41a2a" />
<rect x="55.2" y="204.06" width="0.9" height="1.54" fill="#c41a2a" />
<rect x="56.2" y="202.45" width="0.9" height="3.15" fill="#c41a2a" />
<rect x="57.2" y="202.8" width="0.9" height="2.8" fill="#c41a2a" />
<rect x="58.2" y="201.31" width="0.9" height="4.29" fill="#c41a2a" />
<rect x="59.2" y="201.6" width="0.9" height="4" fill="#c41a2a" />
<rect x="60.2" y="201.98" width="0.9" height="3.62" fill="#c41a2a" />
<rect x="61.2" y="203.55" width="0.9" height="2.05" fill="#c41a2a" />
<rect x="62.2" y="203.55" width="0.9" height="2.05" fill="#c41a2a" />
<rect x="63.2" y="202.97" width="0.9" height="2.63" fill="#c41a2a" />
<rect x="64.2" y="203.19" width="0.9" height="2.41" fill="#c41a2a" />
<rect x="65.2" y="201.06" width="0.9" height="4.54" fill="#c41a2a" />
<rect x="66.2" y="202.29" width="0.9" height="3.31" fill="#c41a2a" />
<rect x="67.2" y="201.87" width="0.9" height="3.73" fill="#c41a2a" />
<rect x="68.2" y="200.62" width="0.9" height="4.98" fill="#c41a2a" />
<rect x="69.2" y="203.17" width="0.9" height="2.43" fill="#c41a2a" />
<rect x="70.2" y="202.23" width="0.9" height="3.37" fill="#c41a2a" />
<rect x="71.2" y="203.57" width="0.9" height="2.03" fill="#c41a2a" />
<rect x="72.2" y="201.4" width="0.9" height="4.2" fill="#c41a2a" />
<rect x="73.2" y="204.1" width="0.9" height="1.5" fill="#c41a2a" />
<rect x="74.2" y="201.23" width="0.9" height="4.37" fill="#c41a2a" />
<rect x="75.2" y="201.14" width="0.9" height="4.46" fill="#c41a2a" />
<rect x="76.2" y="201.22" width="0.9" height="4.38" fill="#c41a2a" />
<rect x="77.2" y="203.81" width="0.9" height="1.79" fill="#c41a2a" />
<rect x="78.2" y="203.16" width="0.9" height="2.44" fill="#c41a2a" />
<rect x="79.2" y="201.59" width="0.9" height="4.01" fill="#c41a2a" />
<rect x="80.2" y="203.76" width="0.9" height="1.84" fill="#c41a2a" />
<rect x="81.2" y="202.42" width="0.9" height="3.18" fill="#c41a2a" />
<rect x="82.2" y="202.46" width="0.9" height="3.14" fill="#c41a2a" />
<rect x="83.2" y="200.76" width="0.9" height="4.84" fill="#c41a2a" />
<rect x="84.2" y="202.05" width="0.9" height="3.55" fill="#c41a2a" />
<rect x="85.2" y="201.1" width="0.9" height="4.5" fill="#c41a2a" />
<rect x="86.2" y="203.04" width="0.9" height="2.56" fill="#c41a2a" />
<rect x="87.2" y="201.34" width="0.9" height="4.26" fill="#c41a2a" />
<rect x="88.2" y="202.64" width="0.9" height="2.96" fill="#c41a2a" />
<rect x="89.2" y="200.89" width="0.9" height="4.71" fill="#c41a2a" />
<rect x="90.2" y="203.78" width="0.9" height="1.82" fill="#c41a2a" />
<rect x="91.2" y="201.21" width="0.9" height="4.39" fill="#c41a2a" />
<rect x="92.2" y="203.37" width="0.9" height="2.23" fill="#c41a2a" />
<rect x="93.2" y="202.2" width="0.9" height="3.4" fill="#c41a2a" />
<rect x="94.2" y="202.26" width="0.9" height="3.34" fill="#c41a2a" />
<rect x="95.2" y="203.55" width="0.9" height="2.05" fill="#c41a2a" />
<rect x="96.2" y="201.19" width="0.9" height="4.41" fill="#c41a2a" />
<rect x="97.2" y="203.01" width="0.9" height="2.59" fill="#c41a2a" />
<rect x="98.2" y="203.01" width="0.9" height="2.59" fill="#c41a2a" />
<rect x="99.2" y="203.83" width="0.9" height="1.77" fill="#c41a2a" />
<rect x="100.2" y="203.03" width="0.9" height="2.57" fill="#c41a2a" />
<rect x="101.2" y="202.46" width="0.9" height="3.14" fill="#c41a2a" />
<rect x="102.2" y="201.6" width="0.9" height="4" fill="#c41a2a" />
<rect x="103.2" y="202.84" width="0.9" height="2.76" fill="#c41a2a" />
<rect x="104.2" y="201.7" width="0.9" height="3.9" fill="#c41a2a" />
<rect x="105.2" y="203.73" width="0.9" height="1.87" fill="#c41a2a" />
<rect x="106.2" y="202.72" width="0.9" height="2.88" fill="#c41a2a" />
<rect x="107.2" y="202.48" width="0.9" height="3.12" fill="#c41a2a" />
<rect x="108.2" y="200.72" width="0.9" height="4.88" fill="#c41a2a" />
<rect x="109.2" y="201.2" width="0.9" height="4.4" fill="#c41a2a" />
<rect x="110.2" y="201.81" width="0.9" height="3.79" fill="#c41a2a" />
<rect x="111.2" y="204.06" width="0.9" height="1.54" fill="#c41a2a" />
<rect x="112.2" y="202.78" width="0.9" height="2.82" fill="#c41a2a" />
<rect x="113.2" y="201.61" width="0.9" height="3.99" fill="#c41a2a" />
<rect x="114.2" y="203.27" width="0.9" height="2.33" fill="#c41a2a" />
<rect x="115.2" y="202.13" width="0.9" height="3.47" fill="#c41a2a" />
<rect x="116.2" y="202.5" width="0.9" height="3.1" fill="#c41a2a" />
<rect x="117.2" y="204.06" width="0.9" height="1.54" fill="#c41a2a" />
<rect x="118.2" y="200.63" width="0.9" height="4.97" fill="#c41a2a" />
<rect x="119.2" y="201.3" width="0.9" height="4.3" fill="#c41a2a" />
<rect x="120.2" y="203.38" width="0.9" height="2.22" fill="#c41a2a" />
<rect x="121.2" y="201.94" width="0.9" height="3.66" fill="#c41a2a" />
<rect x="122.2" y="203.08" width="0.9" height="2.52" fill="#c41a2a" />
<rect x="123.2" y="202.78" width="0.9" height="2.82" fill="#c41a2a" />
<rect x="124.2" y="202.21" width="0.9" height="3.39" fill="#c41a2a" />
<rect x="125.2" y="203.06" width="0.9" height="2.54" fill="#c41a2a" />
<rect x="126.2" y="202.92" width="0.9" height="2.68" fill="#c41a2a" />
<rect x="127.2" y="202.73" width="0.9" height="2.87" fill="#c41a2a" />
<rect x="128.2" y="201.77" width="0.9" height="3.83" fill="#c41a2a" />
<rect x="129.2" y="203.2" width="0.9" height="2.4" fill="#c41a2a" />
<rect x="130.2" y="203.4" width="0.9" height="2.2" fill="#c41a2a" />
<rect x="131.2" y="201.54" width="0.9" height="4.06" fill="#c41a2a" />
<rect x="132.2" y="202.95" width="0.9" height="2.65" fill="#c41a2a" />
<rect x="133.2" y="200.79" width="0.9" height="4.81" fill="#c41a2a" />
<rect x="134.2" y="202.13" width="0.9" height="3.47" fill="#c41a2a" />
<rect x="135.2" y="201.57" width="0.9" height="4.03" fill="#c41a2a" />
<rect x="136.2" y="202.94" width="0.9" height="2.66" fill="#c41a2a" />
<rect x="137.2" y="201.21" width="0.9" height="4.39" fill="#c41a2a" />
<rect x="138.2" y="203.78" width="0.9" height="1.82" fill="#c41a2a" />
<rect x="139.2" y="203.61" width="0.9" height="1.99" fill="#c41a2a" />
<rect x="140.2" y="203.77" width="0.9" height="1.83" fill="#c41a2a" />
<rect x="141.2" y="201.73" width="0.9" height="3.87" fill="#c41a2a" />
<rect x="142.2" y="201.62" width="0.9" height="3.98" fill="#c41a2a" />
<rect x="143.2" y="203.47" width="0.9" height="2.13" fill="#c41a2a" />
<rect x="144.2" y="202.69" width="0.9" height="2.91" fill="#c41a2a" />
<rect x="145.2" y="201.17" width="0.9" height="4.43" fill="#c41a2a" />
<rect x="146.2" y="202.03" width="0.9" height="3.57" fill="#c41a2a" />
<rect x="147.2" y="203.78" width="0.9" height="1.82" fill="#c41a2a" />
<rect x="148.2" y="203.31" width="0.9" height="2.29" fill="#c41a2a" />
<rect x="149.2" y="203.55" width="0.9" height="2.05" fill="#c41a2a" />
<rect x="150.2" y="203.67" width="0.9" height="1.93" fill="#c41a2a" />
<rect x="151.2" y="202.68" width="0.9" height="2.92" fill="#c41a2a" />
<rect x="152.2" y="203.85" width="0.9" height="1.75" fill="#c41a2a" />
<rect x="153.2" y="200.88" width="0.9" height="4.72" fill="#c41a2a" />
<rect x="154.2" y="202.61" width="0.9" height="2.99" fill="#c41a2a" />
<rect x="155.2" y="202.31" width="0.9" height="3.29" fill="#c41a2a" />
<rect x="156.2" y="201.83" width="0.9" height="3.77" fill="#c41a2a" />
<rect x="157.2" y="201.42" width="0.9" height="4.18" fill="#c41a2a" />
<rect x="158.2" y="201.23" width="0.9" height="4.37" fill="#c41a2a" />
<rect x="159.2" y="202.75" width="0.9" height="2.85" fill="#c41a2a" />
<rect x="160.2" y="202.94" width="0.9" height="2.66" fill="#c41a2a" />
<rect x="161.2" y="202.66" width="0.9" height="2.94" fill="#c41a2a" />
<rect x="162.2" y="204.05" width="0.9" height="1.55" fill="#c41a2a" />
<rect x="163.2" y="202.7" width="0.9" height="2.9" fill="#c41a2a" />
<rect x="164.2" y="201.65" width="0.9" height="3.95" fill="#c41a2a" />
<rect x="165.2" y="200.66" width="0.9" height="4.94" fill="#c41a2a" />
<rect x="166.2" y="201.34" width="0.9" height="4.26" fill="#c41a2a" />
<rect x="167.2" y="201.79" width="0.9" height="3.81" fill="#c41a2a" />
<rect x="168.2" y="201.97" width="0.9" height="3.63" fill="#c41a2a" />
<rect x="169.2" y="204.04" width="0.9" height="1.56" fill="#c41a2a" />
<rect x="170.2" y="202.94" width="0.9" height="2.66" fill="#c41a2a" />
<rect x="171.2" y="202.9" width="0.9" height="2.7" fill="#c41a2a" />
<rect x="172.2" y="201.82" width="0.9" height="3.78" fill="#c41a2a" />
<rect x="173.2" y="203.73" width="0.9" height="1.87" fill="#c41a2a" />
<rect x="174.2" y="202.78" width="0.9" height="2.82" fill="#c41a2a" />
<rect x="175.2" y="202.32" width="0.9" height="3.28" fill="#c41a2a" />
<rect x="176.2" y="201.34" width="0.9" height="4.26" fill="#c41a2a" />
<rect x="177.2" y="201.21" width="0.9" height="4.39" fill="#c41a2a" />
<rect x="44.2" y="205.3" width="133.4" height="1.6" fill="#111" />
<text x="89.2" y="211.9" font-size="5.8" font-weight="bold" font-style="italic" fill="#111"  textLength="42.4" lengthAdjust="spacingAndGlyphs">CD38 in MMBX</text>
<line x1="215.3" y1="12.6" x2="215.3" y2="98.9" stroke="#000" stroke-width="1" />
<line x1="214.8" y1="98.4" x2="344" y2="98.4" stroke="#000" stroke-width="1" />
<line x1="213.1" y1="13.05" x2="215.3" y2="13.05" stroke="#000" stroke-width="1" />
<text x="212" y="15.05" font-size="6" font-weight="bold" text-anchor="end" fill="#111"  stroke="#111" stroke-width="0.15">15</text>
<line x1="213.1" y1="41.5" x2="215.3" y2="41.5" stroke="#000" stroke-width="1" />
<text x="212" y="43.5" font-size="6" font-weight="bold" text-anchor="end" fill="#111"  stroke="#111" stroke-width="0.15">10</text>
<line x1="213.1" y1="69.95" x2="215.3" y2="69.95" stroke="#000" stroke-width="1" />
<text x="212" y="71.95" font-size="6" font-weight="bold" text-anchor="end" fill="#111"  stroke="#111" stroke-width="0.15">5</text>
<line x1="213.1" y1="98.4" x2="215.3" y2="98.4" stroke="#000" stroke-width="1" />
<text x="212" y="100.4" font-size="6" font-weight="bold" text-anchor="end" fill="#111"  stroke="#111" stroke-width="0.15">0</text>
<line x1="223.7" y1="98.4" x2="223.7" y2="100.6" stroke="#000" stroke-width="1" />
<line x1="223.7" y1="40.3" x2="223.7" y2="50.4" stroke="#111" stroke-width="1.25" />
<line x1="223.7" y1="56.6" x2="223.7" y2="63.5" stroke="#111" stroke-width="1.25" />
<line x1="221" y1="40.3" x2="226.4" y2="40.3" stroke="#111" stroke-width="1.25" />
<line x1="221" y1="63.5" x2="226.4" y2="63.5" stroke="#111" stroke-width="1.25" />
<rect x="218.3" y="50.4" width="10.8" height="6.2" fill="#2a2a84" stroke="#111" stroke-width="1.25" />
<line x1="218.3" y1="53" x2="229.1" y2="53" stroke="#6e6ec0" stroke-width="1.5" />
<line x1="239.5" y1="98.4" x2="239.5" y2="100.6" stroke="#000" stroke-width="1" />
<line x1="239.5" y1="26.6" x2="239.5" y2="38.9" stroke="#111" stroke-width="1.25" />
<line x1="239.5" y1="52.5" x2="239.5" y2="59.9" stroke="#111" stroke-width="1.25" />
<line x1="236.8" y1="26.6" x2="242.2" y2="26.6" stroke="#111" stroke-width="1.25" />
<line x1="236.8" y1="59.9" x2="242.2" y2="59.9" stroke="#111" stroke-width="1.25" />
<rect x="234.1" y="38.9" width="10.8" height="13.6" fill="#f2e62e" stroke="#111" stroke-width="1.25" />
<line x1="234.1" y1="44.7" x2="244.9" y2="44.7" stroke="#111" stroke-width="1.5" />
<line x1="255.7" y1="98.4" x2="255.7" y2="100.6" stroke="#000" stroke-width="1" />
<line x1="255.7" y1="28" x2="255.7" y2="38.6" stroke="#111" stroke-width="1.25" />
<line x1="255.7" y1="53.2" x2="255.7" y2="68.7" stroke="#111" stroke-width="1.25" />
<line x1="253" y1="28" x2="258.4" y2="28" stroke="#111" stroke-width="1.25" />
<line x1="253" y1="68.7" x2="258.4" y2="68.7" stroke="#111" stroke-width="1.25" />
<rect x="250.3" y="38.6" width="10.8" height="14.6" fill="#5fae3e" stroke="#111" stroke-width="1.25" />
<line x1="250.3" y1="47" x2="261.1" y2="47" stroke="#111" stroke-width="1.5" />
<line x1="271.9" y1="98.4" x2="271.9" y2="100.6" stroke="#000" stroke-width="1" />
<line x1="271.9" y1="21.3" x2="271.9" y2="38.8" stroke="#111" stroke-width="1.25" />
<line x1="271.9" y1="52.9" x2="271.9" y2="72.8" stroke="#111" stroke-width="1.25" />
<line x1="269.2" y1="21.3" x2="274.6" y2="21.3" stroke="#111" stroke-width="1.25" />
<line x1="269.2" y1="72.8" x2="274.6" y2="72.8" stroke="#111" stroke-width="1.25" />
<rect x="266.5" y="38.8" width="10.8" height="14.1" fill="#d4121c" stroke="#111" stroke-width="1.25" />
<line x1="266.5" y1="45.8" x2="277.3" y2="45.8" stroke="#3a0a0a" stroke-width="1.5" />
<line x1="287.8" y1="98.4" x2="287.8" y2="100.6" stroke="#000" stroke-width="1" />
<line x1="287.8" y1="26.6" x2="287.8" y2="37.9" stroke="#111" stroke-width="1.25" />
<line x1="287.8" y1="52.6" x2="287.8" y2="61.9" stroke="#111" stroke-width="1.25" />
<line x1="285.1" y1="26.6" x2="290.5" y2="26.6" stroke="#111" stroke-width="1.25" />
<line x1="285.1" y1="61.9" x2="290.5" y2="61.9" stroke="#111" stroke-width="1.25" />
<rect x="282.4" y="37.9" width="10.8" height="14.7" fill="#a81e1e" stroke="#111" stroke-width="1.25" />
<line x1="282.4" y1="43.6" x2="293.2" y2="43.6" stroke="#3a0a0a" stroke-width="1.5" />
<line x1="303.9" y1="98.4" x2="303.9" y2="100.6" stroke="#000" stroke-width="1" />
<line x1="303.9" y1="31.1" x2="303.9" y2="36.2" stroke="#111" stroke-width="1.25" />
<line x1="303.9" y1="53.1" x2="303.9" y2="57" stroke="#111" stroke-width="1.25" />
<line x1="301.2" y1="31.1" x2="306.6" y2="31.1" stroke="#111" stroke-width="1.25" />
<line x1="301.2" y1="57" x2="306.6" y2="57" stroke="#111" stroke-width="1.25" />
<rect x="298.5" y="36.2" width="10.8" height="16.9" fill="#e2661e" stroke="#111" stroke-width="1.25" />
<line x1="298.5" y1="45.8" x2="309.3" y2="45.8" stroke="#3a1a0a" stroke-width="1.5" />
<line x1="319.9" y1="98.4" x2="319.9" y2="100.6" stroke="#000" stroke-width="1" />
<line x1="319.9" y1="27.9" x2="319.9" y2="39.7" stroke="#111" stroke-width="1.25" />
<line x1="319.9" y1="51.7" x2="319.9" y2="60.6" stroke="#111" stroke-width="1.25" />
<line x1="317.2" y1="27.9" x2="322.6" y2="27.9" stroke="#111" stroke-width="1.25" />
<line x1="317.2" y1="60.6" x2="322.6" y2="60.6" stroke="#111" stroke-width="1.25" />
<rect x="314.5" y="39.7" width="10.8" height="12" fill="#6a2c9c" stroke="#111" stroke-width="1.25" />
<line x1="314.5" y1="45.8" x2="325.3" y2="45.8" stroke="#1a0a2a" stroke-width="1.5" />
<line x1="335.9" y1="98.4" x2="335.9" y2="100.6" stroke="#000" stroke-width="1" />
<line x1="335.9" y1="27.9" x2="335.9" y2="41.5" stroke="#111" stroke-width="1.25" />
<line x1="335.9" y1="54.7" x2="335.9" y2="62.4" stroke="#111" stroke-width="1.25" />
<line x1="333.2" y1="27.9" x2="338.6" y2="27.9" stroke="#111" stroke-width="1.25" />
<line x1="333.2" y1="62.4" x2="338.6" y2="62.4" stroke="#111" stroke-width="1.25" />
<rect x="330.5" y="41.5" width="10.8" height="13.2" fill="#f2e62e" stroke="#111" stroke-width="1.25" />
<line x1="330.5" y1="48.5" x2="341.3" y2="48.5" stroke="#111" stroke-width="1.5" />
<text x="0" y="0" font-size="7.2" font-weight="bold" text-anchor="end" fill="#111" transform="translate(223.3,107.92) rotate(-45)"  stroke="#111" stroke-width="0.3" textLength="34.74" lengthAdjust="spacingAndGlyphs">Control (25)</text>
<text x="0" y="0" font-size="7.2" font-weight="bold" text-anchor="end" fill="#111" transform="translate(239.1,107.92) rotate(-45)"  stroke="#111" stroke-width="0.3" textLength="25.12" lengthAdjust="spacingAndGlyphs">CD1 (22)</text>
<text x="0" y="0" font-size="7.2" font-weight="bold" text-anchor="end" fill="#111" transform="translate(255.3,107.92) rotate(-45)"  stroke="#111" stroke-width="0.3" textLength="25.12" lengthAdjust="spacingAndGlyphs">CD2 (64)</text>
<text x="0" y="0" font-size="7.2" font-weight="bold" text-anchor="end" fill="#111" transform="translate(271.5,107.92) rotate(-45)"  stroke="#111" stroke-width="0.3" textLength="24.32" lengthAdjust="spacingAndGlyphs">HY (112)</text>
<text x="0" y="0" font-size="7.2" font-weight="bold" text-anchor="end" fill="#111" transform="translate(287.4,107.92) rotate(-45)"  stroke="#111" stroke-width="0.3" textLength="20.98" lengthAdjust="spacingAndGlyphs">LB (54)</text>
<text x="0" y="0" font-size="7.2" font-weight="bold" text-anchor="end" fill="#111" transform="translate(303.5,107.92) rotate(-45)"  stroke="#111" stroke-width="0.3" textLength="21.67" lengthAdjust="spacingAndGlyphs">MF (30)</text>
<text x="0" y="0" font-size="7.2" font-weight="bold" text-anchor="end" fill="#111" transform="translate(319.5,107.92) rotate(-45)"  stroke="#111" stroke-width="0.3" textLength="22.02" lengthAdjust="spacingAndGlyphs">MS (52)</text>
<text x="0" y="0" font-size="7.2" font-weight="bold" text-anchor="end" fill="#111" transform="translate(335.5,107.92) rotate(-45)"  stroke="#111" stroke-width="0.3" textLength="21.33" lengthAdjust="spacingAndGlyphs">PR (42)</text>
<text x="0" y="0" font-size="7.4" font-weight="bold" text-anchor="middle" fill="#111" transform="translate(190.5,54.85) rotate(-90)"  stroke="#111" stroke-width="0.2" textLength="75.3" lengthAdjust="spacingAndGlyphs"><tspan font-style="italic">CYR61</tspan> Signal Intensity</text>
<text x="0" y="0" font-size="7.4" font-weight="bold" text-anchor="middle" fill="#111" transform="translate(199.4,55.1) rotate(-90)"  stroke="#111" stroke-width="0.2">(Log<tspan font-size="4.8" dy="1.2">2</tspan><tspan dy="-1.2">)</tspan></text>
<line x1="381.7" y1="9.2" x2="381.7" y2="98.4" stroke="#000" stroke-width="1.1" />
<line x1="381.2" y1="97.8" x2="515.5" y2="97.8" stroke="#000" stroke-width="1.2" />
<line x1="378.4" y1="9.7" x2="381.7" y2="9.7" stroke="#000" stroke-width="1" />
<text x="377.4" y="11.9" font-size="6" font-weight="bold" text-anchor="end" fill="#111"  stroke="#111" stroke-width="0.15">20</text>
<line x1="378.4" y1="31.72" x2="381.7" y2="31.72" stroke="#000" stroke-width="1" />
<text x="377.4" y="33.92" font-size="6" font-weight="bold" text-anchor="end" fill="#111"  stroke="#111" stroke-width="0.15">15</text>
<line x1="378.4" y1="53.75" x2="381.7" y2="53.75" stroke="#000" stroke-width="1" />
<text x="377.4" y="55.95" font-size="6" font-weight="bold" text-anchor="end" fill="#111"  stroke="#111" stroke-width="0.15">10</text>
<line x1="378.4" y1="75.77" x2="381.7" y2="75.77" stroke="#000" stroke-width="1" />
<text x="377.4" y="77.97" font-size="6" font-weight="bold" text-anchor="end" fill="#111"  stroke="#111" stroke-width="0.15">5</text>
<line x1="378.4" y1="97.8" x2="381.7" y2="97.8" stroke="#000" stroke-width="1" />
<text x="377.4" y="100" font-size="6" font-weight="bold" text-anchor="end" fill="#111"  stroke="#111" stroke-width="0.15">0</text>
<text x="384" y="14.7" font-size="6.4" fill="#111"  stroke="#111" stroke-width="0.15" textLength="59.3" lengthAdjust="spacingAndGlyphs">a=p val vs. normal BX</text>
<text x="384" y="22.8" font-size="6.4" fill="#111"  stroke="#111" stroke-width="0.15" textLength="71" lengthAdjust="spacingAndGlyphs">b=p val vs. Random BX-BS</text>
<line x1="386.4" y1="97.8" x2="386.4" y2="99.8" stroke="#000" stroke-width="1" />
<line x1="395.24" y1="97.8" x2="395.24" y2="99.8" stroke="#000" stroke-width="1" />
<line x1="404.08" y1="97.8" x2="404.08" y2="99.8" stroke="#000" stroke-width="1" />
<line x1="412.92" y1="97.8" x2="412.92" y2="99.8" stroke="#000" stroke-width="1" />
<line x1="421.76" y1="97.8" x2="421.76" y2="99.8" stroke="#000" stroke-width="1" />
<line x1="430.6" y1="97.8" x2="430.6" y2="99.8" stroke="#000" stroke-width="1" />
<line x1="439.44" y1="97.8" x2="439.44" y2="99.8" stroke="#000" stroke-width="1" />
<line x1="448.28" y1="97.8" x2="448.28" y2="99.8" stroke="#000" stroke-width="1" />
<line x1="457.12" y1="97.8" x2="457.12" y2="99.8" stroke="#000" stroke-width="1" />
<line x1="465.96" y1="97.8" x2="465.96" y2="99.8" stroke="#000" stroke-width="1" />
<line x1="474.8" y1="97.8" x2="474.8" y2="99.8" stroke="#000" stroke-width="1" />
<line x1="483.64" y1="97.8" x2="483.64" y2="99.8" stroke="#000" stroke-width="1" />
<line x1="492.48" y1="97.8" x2="492.48" y2="99.8" stroke="#000" stroke-width="1" />
<line x1="501.32" y1="97.8" x2="501.32" y2="99.8" stroke="#000" stroke-width="1" />
<line x1="510.16" y1="97.8" x2="510.16" y2="99.8" stroke="#000" stroke-width="1" />
<text x="0" y="0" font-size="6.2" font-weight="bold" text-anchor="end" fill="#111" transform="translate(387,107.69) rotate(-45)"  stroke="#111" stroke-width="0.3" textLength="36.89" lengthAdjust="spacingAndGlyphs">Normal PC (34)</text>
<text x="0" y="0" font-size="6.2" font-weight="bold" text-anchor="end" fill="#111" transform="translate(395.84,107.69) rotate(-45)"  stroke="#111" stroke-width="0.3" textLength="32.03" lengthAdjust="spacingAndGlyphs">MMPCs (246)</text>
<text x="0" y="0" font-size="6.2" font-weight="bold" text-anchor="end" fill="#111" transform="translate(404.68,107.69) rotate(-45)"  stroke="#111" stroke-width="0.3" textLength="34.6" lengthAdjust="spacingAndGlyphs">BM B Cells (7)</text>
<text x="0" y="0" font-size="6.2" font-weight="bold" text-anchor="end" fill="#111" transform="translate(413.52,107.69) rotate(-45)"  stroke="#111" stroke-width="0.3" textLength="46.23" lengthAdjust="spacingAndGlyphs">Tonsilar B Cells (6)</text>
<text x="0" y="0" font-size="6.2" font-weight="bold" text-anchor="end" fill="#111" transform="translate(422.36,107.69) rotate(-45)"  stroke="#111" stroke-width="0.3" textLength="39.75" lengthAdjust="spacingAndGlyphs">Osteoclasts (15)</text>
<text x="0" y="0" font-size="6.2" font-weight="bold" text-anchor="end" fill="#111" transform="translate(431.2,107.69) rotate(-45)"  stroke="#111" stroke-width="0.3" textLength="41.17" lengthAdjust="spacingAndGlyphs">Normal MSCs (4)</text>
<text x="0" y="0" font-size="6.2" font-weight="bold" text-anchor="end" fill="#111" transform="translate(440.04,107.69) rotate(-45)"  stroke="#111" stroke-width="0.3" textLength="34.6" lengthAdjust="spacingAndGlyphs">MM MSCs (11)</text>
<text x="0" y="0" font-size="6.2" font-weight="bold" text-anchor="end" fill="#111" transform="translate(448.88,107.69) rotate(-45)"  stroke="#111" stroke-width="0.3" textLength="36.89" lengthAdjust="spacingAndGlyphs">Normal BX (25)</text>
<text x="0" y="0" font-size="6.2" font-weight="bold" text-anchor="end" fill="#111" transform="translate(457.72,107.69) rotate(-45)"  stroke="#111" stroke-width="0.3" textLength="34.6" lengthAdjust="spacingAndGlyphs">MGUS BX (39)</text>
<text x="0" y="0" font-size="6.2" font-weight="bold" text-anchor="end" fill="#111" transform="translate(466.56,107.69) rotate(-45)"  stroke="#111" stroke-width="0.3" textLength="31.45" lengthAdjust="spacingAndGlyphs">AMM BX (46)</text>
<text x="0" y="0" font-size="6.2" font-weight="bold" text-anchor="end" fill="#111" transform="translate(475.4,107.69) rotate(-45)"  stroke="#111" stroke-width="0.3" textLength="51.47" lengthAdjust="spacingAndGlyphs">Random BX-BS (407)</text>
<text x="0" y="0" font-size="6.2" font-weight="bold" text-anchor="end" fill="#111" transform="translate(484.24,107.69) rotate(-45)"  stroke="#111" stroke-width="0.3" textLength="56.33" lengthAdjust="spacingAndGlyphs">Fine needle BX-BS (65)</text>
<text x="0" y="0" font-size="6.2" font-weight="bold" text-anchor="end" fill="#111" transform="translate(493.08,107.69) rotate(-45)"  stroke="#111" stroke-width="0.3" textLength="49.46" lengthAdjust="spacingAndGlyphs">Random BX-RM (94)</text>
<text x="0" y="0" font-size="6.2" font-weight="bold" text-anchor="end" fill="#111" transform="translate(501.92,107.69) rotate(-45)"  stroke="#111" stroke-width="0.3" textLength="48.22" lengthAdjust="spacingAndGlyphs">Random BX-RL (61)</text>
<text x="0" y="0" font-size="6.2" font-weight="bold" text-anchor="end" fill="#111" transform="translate(510.76,107.69) rotate(-45)"  stroke="#111" stroke-width="0.3" textLength="55.66" lengthAdjust="spacingAndGlyphs">Fine needle BX-RL (11)</text>
<text x="0" y="0" font-size="7.4" font-weight="bold" text-anchor="middle" fill="#111" transform="translate(355.1,53.4) rotate(-90)"  stroke="#111" stroke-width="0.2" textLength="78.6" lengthAdjust="spacingAndGlyphs"><tspan font-style="italic">CYR61</tspan> Signal Intensity</text>
<text x="0" y="0" font-size="7.4" font-weight="bold" text-anchor="middle" fill="#111" transform="translate(365.6,53.5) rotate(-90)"  stroke="#111" stroke-width="0.2">(Log<tspan font-size="4.8" dy="1.2">2</tspan><tspan dy="-1.2">)</tspan></text>
<circle cx="385.3" cy="63.5" r="1" fill="#000"/>
<circle cx="387.7" cy="63.5" r="1" fill="#000"/>
<circle cx="385.5" cy="66" r="1" fill="#000"/>
<circle cx="387.5" cy="66" r="1" fill="#000"/>
<circle cx="384.82" cy="68.97" r="1.05" fill="#111"/>
<circle cx="386.53" cy="68.68" r="1.05" fill="#111"/>
<circle cx="387.8" cy="68.77" r="1.05" fill="#111"/>
<circle cx="385.02" cy="70.09" r="1.05" fill="#111"/>
<circle cx="386.2" cy="69.71" r="1.05" fill="#111"/>
<circle cx="388.02" cy="69.92" r="1.05" fill="#111"/>
<circle cx="385.06" cy="70.85" r="1.05" fill="#111"/>
<circle cx="386.37" cy="71.21" r="1.05" fill="#111"/>
<circle cx="387.73" cy="71.32" r="1.05" fill="#111"/>
<circle cx="385.48" cy="72.02" r="1.05" fill="#111"/>
<circle cx="386.16" cy="72.27" r="1.05" fill="#111"/>
<circle cx="387.74" cy="72.19" r="1.05" fill="#111"/>
<circle cx="385.48" cy="73.36" r="1.05" fill="#111"/>
<circle cx="386.94" cy="73.26" r="1.05" fill="#111"/>
<circle cx="385.94" cy="74.55" r="1.05" fill="#111"/>
<circle cx="386.7" cy="74.42" r="1.05" fill="#111"/>
<circle cx="386.26" cy="75.68" r="1.05" fill="#111"/>
<circle cx="394.27" cy="61.22" r="1.05" fill="#111"/>
<circle cx="395.02" cy="60.79" r="1.05" fill="#111"/>
<circle cx="396.61" cy="61.12" r="1.05" fill="#111"/>
<circle cx="393.43" cy="62.05" r="1.05" fill="#111"/>
<circle cx="394.66" cy="62.2" r="1.05" fill="#111"/>
<circle cx="395.91" cy="61.98" r="1.05" fill="#111"/>
<circle cx="397.1" cy="62.1" r="1.05" fill="#111"/>
<circle cx="393.23" cy="63.55" r="1.05" fill="#111"/>
<circle cx="394.76" cy="63.32" r="1.05" fill="#111"/>
<circle cx="395.92" cy="63.18" r="1.05" fill="#111"/>
<circle cx="397.12" cy="63.06" r="1.05" fill="#111"/>
<circle cx="393.08" cy="64.36" r="1.05" fill="#111"/>
<circle cx="394.47" cy="64.65" r="1.05" fill="#111"/>
<circle cx="395.97" cy="64.48" r="1.05" fill="#111"/>
<circle cx="397.25" cy="64.21" r="1.05" fill="#111"/>
<circle cx="392.99" cy="65.42" r="1.05" fill="#111"/>
<circle cx="394.52" cy="65.85" r="1.05" fill="#111"/>
<circle cx="396.05" cy="65.44" r="1.05" fill="#111"/>
<circle cx="397.6" cy="65.75" r="1.05" fill="#111"/>
<circle cx="393.17" cy="66.95" r="1.05" fill="#111"/>
<circle cx="394.64" cy="66.89" r="1.05" fill="#111"/>
<circle cx="395.9" cy="66.99" r="1.05" fill="#111"/>
<circle cx="397.66" cy="66.58" r="1.05" fill="#111"/>
<circle cx="393.15" cy="68.01" r="1.05" fill="#111"/>
<circle cx="394.48" cy="67.92" r="1.05" fill="#111"/>
<circle cx="395.97" cy="68.11" r="1.05" fill="#111"/>
<circle cx="397.45" cy="68.07" r="1.05" fill="#111"/>
<circle cx="392.93" cy="69.24" r="1.05" fill="#111"/>
<circle cx="394.69" cy="69.03" r="1.05" fill="#111"/>
<circle cx="396.02" cy="69.26" r="1.05" fill="#111"/>
<circle cx="397.59" cy="69.04" r="1.05" fill="#111"/>
<circle cx="392.84" cy="70.11" r="1.05" fill="#111"/>
<circle cx="394.59" cy="70.03" r="1.05" fill="#111"/>
<circle cx="396.2" cy="70.08" r="1.05" fill="#111"/>
<circle cx="397.71" cy="70.1" r="1.05" fill="#111"/>
<circle cx="393.18" cy="71.45" r="1.05" fill="#111"/>
<circle cx="394.48" cy="71.36" r="1.05" fill="#111"/>
<circle cx="396.08" cy="71.39" r="1.05" fill="#111"/>
<circle cx="397.43" cy="71.2" r="1.05" fill="#111"/>
<circle cx="392.96" cy="72.72" r="1.05" fill="#111"/>
<circle cx="394.54" cy="72.29" r="1.05" fill="#111"/>
<circle cx="396.16" cy="72.61" r="1.05" fill="#111"/>
<circle cx="397.73" cy="72.35" r="1.05" fill="#111"/>
<circle cx="393.1" cy="73.43" r="1.05" fill="#111"/>
<circle cx="394.56" cy="73.54" r="1.05" fill="#111"/>
<circle cx="395.86" cy="73.84" r="1.05" fill="#111"/>
<circle cx="397.31" cy="73.66" r="1.05" fill="#111"/>
<circle cx="393.18" cy="74.67" r="1.05" fill="#111"/>
<circle cx="394.35" cy="74.99" r="1.05" fill="#111"/>
<circle cx="395.95" cy="74.91" r="1.05" fill="#111"/>
<circle cx="397.24" cy="74.73" r="1.05" fill="#111"/>
<circle cx="392.86" cy="76.04" r="1.05" fill="#111"/>
<circle cx="394.29" cy="76.18" r="1.05" fill="#111"/>
<circle cx="395.74" cy="76.06" r="1.05" fill="#111"/>
<circle cx="397.21" cy="75.83" r="1.05" fill="#111"/>
<circle cx="393.21" cy="76.93" r="1.05" fill="#111"/>
<circle cx="394.35" cy="77.2" r="1.05" fill="#111"/>
<circle cx="395.91" cy="76.87" r="1.05" fill="#111"/>
<circle cx="397.67" cy="76.93" r="1.05" fill="#111"/>
<circle cx="392.85" cy="78.17" r="1.05" fill="#111"/>
<circle cx="394.58" cy="78.37" r="1.05" fill="#111"/>
<circle cx="395.77" cy="78.17" r="1.05" fill="#111"/>
<circle cx="397.17" cy="78.22" r="1.05" fill="#111"/>
<circle cx="393.24" cy="79.52" r="1.05" fill="#111"/>
<circle cx="394.73" cy="79.53" r="1.05" fill="#111"/>
<circle cx="396.13" cy="79.5" r="1.05" fill="#111"/>
<circle cx="397.36" cy="79.26" r="1.05" fill="#111"/>
<circle cx="393.21" cy="80.46" r="1.05" fill="#111"/>
<circle cx="394.34" cy="80.52" r="1.05" fill="#111"/>
<circle cx="396.13" cy="80.36" r="1.05" fill="#111"/>
<circle cx="397.39" cy="80.5" r="1.05" fill="#111"/>
<circle cx="393.43" cy="81.52" r="1.05" fill="#111"/>
<circle cx="394.87" cy="81.58" r="1.05" fill="#111"/>
<circle cx="395.9" cy="81.66" r="1.05" fill="#111"/>
<circle cx="396.81" cy="81.73" r="1.05" fill="#111"/>
<circle cx="393.72" cy="82.63" r="1.05" fill="#111"/>
<circle cx="395.01" cy="82.68" r="1.05" fill="#111"/>
<circle cx="396.38" cy="82.92" r="1.05" fill="#111"/>
<circle cx="395.24" cy="59.1" r="0.95" fill="#000"/>
<circle cx="395.24" cy="85" r="0.95" fill="#000"/>
<circle cx="402.3" cy="65.9" r="1.25" fill="#000"/>
<circle cx="402.87" cy="68.22" r="1.2" fill="#111"/>
<circle cx="404.93" cy="68.25" r="1.2" fill="#111"/>
<circle cx="402.36" cy="69.28" r="1.2" fill="#111"/>
<circle cx="403.76" cy="69.67" r="1.2" fill="#111"/>
<circle cx="405.58" cy="69.37" r="1.2" fill="#111"/>
<circle cx="402.74" cy="70.79" r="1.2" fill="#111"/>
<circle cx="404.17" cy="70.79" r="1.2" fill="#111"/>
<circle cx="405.57" cy="70.63" r="1.2" fill="#111"/>
<circle cx="403.06" cy="72.28" r="1.2" fill="#111"/>
<circle cx="405.02" cy="72.22" r="1.2" fill="#111"/>
<circle cx="404.09" cy="73.18" r="1.2" fill="#111"/>
<circle cx="403.8" cy="76.8" r="1.2" fill="#000"/>
<circle cx="412.8" cy="64.1" r="1.1" fill="#000"/>
<circle cx="412.6" cy="73.6" r="1.2" fill="#111"/>
<rect x="410.2" y="75" width="5.8" height="1.7" fill="#111" />
<circle cx="411.8" cy="77.5" r="1.1" fill="#111"/>
<circle cx="413.5" cy="77.6" r="1.1" fill="#111"/>
<circle cx="421.8" cy="62.8" r="1.1" fill="#000"/>
<circle cx="421.46" cy="67.32" r="1.2" fill="#111"/>
<circle cx="422.75" cy="67.42" r="1.2" fill="#111"/>
<circle cx="420.94" cy="68.71" r="1.2" fill="#111"/>
<circle cx="421.76" cy="68.48" r="1.2" fill="#111"/>
<circle cx="423.4" cy="68.57" r="1.2" fill="#111"/>
<circle cx="420.85" cy="69.61" r="1.2" fill="#111"/>
<circle cx="421.98" cy="69.67" r="1.2" fill="#111"/>
<circle cx="423.37" cy="69.84" r="1.2" fill="#111"/>
<circle cx="420.5" cy="70.96" r="1.2" fill="#111"/>
<circle cx="421.89" cy="71.31" r="1.2" fill="#111"/>
<circle cx="423.39" cy="70.93" r="1.2" fill="#111"/>
<circle cx="421.11" cy="72.22" r="1.2" fill="#111"/>
<circle cx="423.1" cy="72.21" r="1.2" fill="#111"/>
<circle cx="421.23" cy="73.89" r="1.2" fill="#111"/>
<circle cx="422.37" cy="73.56" r="1.2" fill="#111"/>
<circle cx="423.9" cy="76.4" r="1.1" fill="#111"/>
<circle cx="422.6" cy="78.3" r="1.1" fill="#111"/>
<circle cx="421" cy="80" r="1.15" fill="#111"/>
<circle cx="424.4" cy="75.2" r="0.9" fill="#111"/>
<rect x="428" y="35.4" width="5.2" height="1.8" fill="#111" />
<polygon points="428.8,36.8 431,36.8 429.9,38.9" fill="#111"/>
<polygon points="436.6,34.1 442.2,34.1 442,36.4 439.6,39 437,36.6" fill="#111"/>
<circle cx="448.28" cy="52.7" r="0.8" fill="#000"/>
<circle cx="448.28" cy="57.3" r="0.8" fill="#000"/>
<circle cx="448.14" cy="59.83" r="1.05" fill="#111"/>
<circle cx="447.41" cy="60.85" r="1.05" fill="#111"/>
<circle cx="448.76" cy="60.62" r="1.05" fill="#111"/>
<circle cx="447.46" cy="61.75" r="1.05" fill="#111"/>
<circle cx="448.35" cy="61.88" r="1.05" fill="#111"/>
<circle cx="449.32" cy="61.9" r="1.05" fill="#111"/>
<circle cx="447.03" cy="63.22" r="1.05" fill="#111"/>
<circle cx="448.07" cy="62.92" r="1.05" fill="#111"/>
<circle cx="449.14" cy="62.93" r="1.05" fill="#111"/>
<circle cx="447.13" cy="64.4" r="1.05" fill="#111"/>
<circle cx="448.22" cy="64.01" r="1.05" fill="#111"/>
<circle cx="449.26" cy="64.45" r="1.05" fill="#111"/>
<circle cx="447.07" cy="65.41" r="1.05" fill="#111"/>
<circle cx="449.21" cy="65.43" r="1.05" fill="#111"/>
<circle cx="447.58" cy="66.6" r="1.05" fill="#111"/>
<circle cx="448.9" cy="66.57" r="1.05" fill="#111"/>
<circle cx="448.48" cy="67.69" r="1.05" fill="#111"/>
<circle cx="447" cy="70.6" r="0.8" fill="#000"/>
<circle cx="449.8" cy="70.6" r="0.8" fill="#000"/>
<circle cx="456.4" cy="44.64" r="1.05" fill="#111"/>
<circle cx="457.24" cy="44.88" r="1.05" fill="#111"/>
<circle cx="455.38" cy="45.85" r="1.05" fill="#111"/>
<circle cx="457.12" cy="45.64" r="1.05" fill="#111"/>
<circle cx="458.24" cy="45.91" r="1.05" fill="#111"/>
<circle cx="455.29" cy="46.94" r="1.05" fill="#111"/>
<circle cx="457.02" cy="46.98" r="1.05" fill="#111"/>
<circle cx="458.43" cy="46.83" r="1.05" fill="#111"/>
<circle cx="455.39" cy="47.96" r="1.05" fill="#111"/>
<circle cx="456.92" cy="48.36" r="1.05" fill="#111"/>
<circle cx="458.37" cy="48.29" r="1.05" fill="#111"/>
<circle cx="455.46" cy="49.42" r="1.05" fill="#111"/>
<circle cx="456.72" cy="49.2" r="1.05" fill="#111"/>
<circle cx="458.41" cy="49.41" r="1.05" fill="#111"/>
<circle cx="455.71" cy="50.24" r="1.05" fill="#111"/>
<circle cx="456.8" cy="50.3" r="1.05" fill="#111"/>
<circle cx="457.99" cy="50.6" r="1.05" fill="#111"/>
<circle cx="455.33" cy="51.79" r="1.05" fill="#111"/>
<circle cx="457.11" cy="51.38" r="1.05" fill="#111"/>
<circle cx="458.3" cy="51.6" r="1.05" fill="#111"/>
<circle cx="454.88" cy="52.71" r="1.05" fill="#111"/>
<circle cx="456.52" cy="52.56" r="1.05" fill="#111"/>
<circle cx="457.57" cy="52.56" r="1.05" fill="#111"/>
<circle cx="458.76" cy="52.95" r="1.05" fill="#111"/>
<circle cx="454.97" cy="53.65" r="1.05" fill="#111"/>
<circle cx="456.11" cy="53.92" r="1.05" fill="#111"/>
<circle cx="457.28" cy="53.69" r="1.05" fill="#111"/>
<circle cx="458.72" cy="54.11" r="1.05" fill="#111"/>
<circle cx="455.08" cy="55" r="1.05" fill="#111"/>
<circle cx="456.39" cy="54.85" r="1.05" fill="#111"/>
<circle cx="457.56" cy="54.89" r="1.05" fill="#111"/>
<circle cx="458.77" cy="55.28" r="1.05" fill="#111"/>
<circle cx="454.9" cy="56.23" r="1.05" fill="#111"/>
<circle cx="456.37" cy="56.02" r="1.05" fill="#111"/>
<circle cx="457.4" cy="56.45" r="1.05" fill="#111"/>
<circle cx="458.97" cy="56.01" r="1.05" fill="#111"/>
<circle cx="455.4" cy="57.58" r="1.05" fill="#111"/>
<circle cx="456.79" cy="57.41" r="1.05" fill="#111"/>
<circle cx="458.32" cy="57.28" r="1.05" fill="#111"/>
<circle cx="455.53" cy="58.55" r="1.05" fill="#111"/>
<circle cx="457.06" cy="58.29" r="1.05" fill="#111"/>
<circle cx="458.32" cy="58.68" r="1.05" fill="#111"/>
<circle cx="455.08" cy="59.63" r="1.05" fill="#111"/>
<circle cx="456.25" cy="59.89" r="1.05" fill="#111"/>
<circle cx="457.58" cy="59.41" r="1.05" fill="#111"/>
<circle cx="458.95" cy="59.56" r="1.05" fill="#111"/>
<circle cx="454.89" cy="60.66" r="1.05" fill="#111"/>
<circle cx="456.23" cy="60.71" r="1.05" fill="#111"/>
<circle cx="457.38" cy="60.86" r="1.05" fill="#111"/>
<circle cx="458.72" cy="60.94" r="1.05" fill="#111"/>
<circle cx="454.68" cy="62.09" r="1.05" fill="#111"/>
<circle cx="456.41" cy="61.95" r="1.05" fill="#111"/>
<circle cx="457.69" cy="61.82" r="1.05" fill="#111"/>
<circle cx="459.04" cy="61.91" r="1.05" fill="#111"/>
<circle cx="454.79" cy="63.33" r="1.05" fill="#111"/>
<circle cx="456.2" cy="63.04" r="1.05" fill="#111"/>
<circle cx="457.77" cy="63.03" r="1.05" fill="#111"/>
<circle cx="459" cy="62.94" r="1.05" fill="#111"/>
<circle cx="455.09" cy="64.13" r="1.05" fill="#111"/>
<circle cx="456.03" cy="64.49" r="1.05" fill="#111"/>
<circle cx="457.42" cy="64.47" r="1.05" fill="#111"/>
<circle cx="459.16" cy="64.3" r="1.05" fill="#111"/>
<circle cx="454.68" cy="65.18" r="1.05" fill="#111"/>
<circle cx="456.11" cy="65.34" r="1.05" fill="#111"/>
<circle cx="457.64" cy="65.63" r="1.05" fill="#111"/>
<circle cx="458.85" cy="65.22" r="1.05" fill="#111"/>
<circle cx="454.95" cy="66.37" r="1.05" fill="#111"/>
<circle cx="456.05" cy="66.58" r="1.05" fill="#111"/>
<circle cx="457.68" cy="66.33" r="1.05" fill="#111"/>
<circle cx="458.9" cy="66.65" r="1.05" fill="#111"/>
<circle cx="455.05" cy="67.64" r="1.05" fill="#111"/>
<circle cx="456.45" cy="67.53" r="1.05" fill="#111"/>
<circle cx="457.69" cy="67.84" r="1.05" fill="#111"/>
<circle cx="459.11" cy="67.7" r="1.05" fill="#111"/>
<circle cx="454.72" cy="68.62" r="1.05" fill="#111"/>
<circle cx="456.27" cy="68.69" r="1.05" fill="#111"/>
<circle cx="457.65" cy="68.64" r="1.05" fill="#111"/>
<circle cx="459.06" cy="68.71" r="1.05" fill="#111"/>
<circle cx="454.68" cy="69.84" r="1.05" fill="#111"/>
<circle cx="456.23" cy="70.03" r="1.05" fill="#111"/>
<circle cx="457.53" cy="69.84" r="1.05" fill="#111"/>
<circle cx="458.91" cy="70.22" r="1.05" fill="#111"/>
<circle cx="454.94" cy="71.37" r="1.05" fill="#111"/>
<circle cx="456.02" cy="71.4" r="1.05" fill="#111"/>
<circle cx="457.78" cy="71.17" r="1.05" fill="#111"/>
<circle cx="458.93" cy="71.17" r="1.05" fill="#111"/>
<circle cx="455.17" cy="72.08" r="1.05" fill="#111"/>
<circle cx="456.34" cy="72.32" r="1.05" fill="#111"/>
<circle cx="457.47" cy="72.41" r="1.05" fill="#111"/>
<circle cx="458.98" cy="72.1" r="1.05" fill="#111"/>
<circle cx="455.26" cy="73.43" r="1.05" fill="#111"/>
<circle cx="456.33" cy="73.52" r="1.05" fill="#111"/>
<circle cx="457.28" cy="73.5" r="1.05" fill="#111"/>
<circle cx="458.61" cy="73.64" r="1.05" fill="#111"/>
<circle cx="455.22" cy="74.76" r="1.05" fill="#111"/>
<circle cx="457.03" cy="74.66" r="1.05" fill="#111"/>
<circle cx="458.67" cy="74.37" r="1.05" fill="#111"/>
<circle cx="455.93" cy="75.81" r="1.05" fill="#111"/>
<circle cx="457.01" cy="75.7" r="1.05" fill="#111"/>
<circle cx="457.74" cy="75.59" r="1.05" fill="#111"/>
<circle cx="456.97" cy="76.74" r="1.05" fill="#111"/>
<rect x="463.4" y="41.3" width="4.6" height="1.7" fill="#111" />
<circle cx="465.6" cy="48.8" r="0.95" fill="#000"/>
<circle cx="464.7" cy="50.96" r="1.05" fill="#111"/>
<circle cx="466.7" cy="50.85" r="1.05" fill="#111"/>
<circle cx="463.9" cy="52.31" r="1.05" fill="#111"/>
<circle cx="465.1" cy="51.98" r="1.05" fill="#111"/>
<circle cx="466.31" cy="52.06" r="1.05" fill="#111"/>
<circle cx="467.45" cy="52.38" r="1.05" fill="#111"/>
<circle cx="463.71" cy="53.07" r="1.05" fill="#111"/>
<circle cx="465.11" cy="53.35" r="1.05" fill="#111"/>
<circle cx="466.33" cy="53.19" r="1.05" fill="#111"/>
<circle cx="467.95" cy="53.28" r="1.05" fill="#111"/>
<circle cx="463.55" cy="54.53" r="1.05" fill="#111"/>
<circle cx="464.74" cy="54.58" r="1.05" fill="#111"/>
<circle cx="466.63" cy="54.68" r="1.05" fill="#111"/>
<circle cx="467.92" cy="54.22" r="1.05" fill="#111"/>
<circle cx="463.21" cy="55.42" r="1.05" fill="#111"/>
<circle cx="465.15" cy="55.5" r="1.05" fill="#111"/>
<circle cx="466.33" cy="55.8" r="1.05" fill="#111"/>
<circle cx="467.77" cy="55.62" r="1.05" fill="#111"/>
<circle cx="463.43" cy="56.53" r="1.05" fill="#111"/>
<circle cx="464.97" cy="56.92" r="1.05" fill="#111"/>
<circle cx="466.22" cy="56.61" r="1.05" fill="#111"/>
<circle cx="467.82" cy="56.52" r="1.05" fill="#111"/>
<circle cx="463.46" cy="58.06" r="1.05" fill="#111"/>
<circle cx="465.01" cy="57.92" r="1.05" fill="#111"/>
<circle cx="466.57" cy="57.72" r="1.05" fill="#111"/>
<circle cx="467.89" cy="57.84" r="1.05" fill="#111"/>
<circle cx="463.51" cy="58.86" r="1.05" fill="#111"/>
<circle cx="465.06" cy="58.85" r="1.05" fill="#111"/>
<circle cx="466.23" cy="59.2" r="1.05" fill="#111"/>
<circle cx="468.08" cy="59.02" r="1.05" fill="#111"/>
<circle cx="463.42" cy="60.07" r="1.05" fill="#111"/>
<circle cx="464.81" cy="60.26" r="1.05" fill="#111"/>
<circle cx="466.23" cy="60.01" r="1.05" fill="#111"/>
<circle cx="467.84" cy="60.03" r="1.05" fill="#111"/>
<circle cx="463.53" cy="61.51" r="1.05" fill="#111"/>
<circle cx="465.07" cy="61.34" r="1.05" fill="#111"/>
<circle cx="466.32" cy="61.32" r="1.05" fill="#111"/>
<circle cx="467.61" cy="61.46" r="1.05" fill="#111"/>
<circle cx="463.38" cy="62.41" r="1.05" fill="#111"/>
<circle cx="464.72" cy="62.47" r="1.05" fill="#111"/>
<circle cx="466.43" cy="62.45" r="1.05" fill="#111"/>
<circle cx="468.04" cy="62.59" r="1.05" fill="#111"/>
<circle cx="463.33" cy="63.66" r="1.05" fill="#111"/>
<circle cx="465.13" cy="63.66" r="1.05" fill="#111"/>
<circle cx="466.44" cy="63.43" r="1.05" fill="#111"/>
<circle cx="467.85" cy="63.63" r="1.05" fill="#111"/>
<circle cx="463.41" cy="64.76" r="1.05" fill="#111"/>
<circle cx="464.97" cy="64.82" r="1.05" fill="#111"/>
<circle cx="466.39" cy="64.63" r="1.05" fill="#111"/>
<circle cx="467.83" cy="65.03" r="1.05" fill="#111"/>
<circle cx="463.42" cy="65.72" r="1.05" fill="#111"/>
<circle cx="464.68" cy="65.97" r="1.05" fill="#111"/>
<circle cx="466.17" cy="65.75" r="1.05" fill="#111"/>
<circle cx="467.66" cy="65.93" r="1.05" fill="#111"/>
<circle cx="463.71" cy="67.09" r="1.05" fill="#111"/>
<circle cx="464.91" cy="67.07" r="1.05" fill="#111"/>
<circle cx="466.39" cy="67.07" r="1.05" fill="#111"/>
<circle cx="467.97" cy="67.3" r="1.05" fill="#111"/>
<circle cx="463.56" cy="68.21" r="1.05" fill="#111"/>
<circle cx="465" cy="68.45" r="1.05" fill="#111"/>
<circle cx="466.22" cy="68.12" r="1.05" fill="#111"/>
<circle cx="467.92" cy="68.34" r="1.05" fill="#111"/>
<circle cx="463.53" cy="69.44" r="1.05" fill="#111"/>
<circle cx="465.09" cy="69.39" r="1.05" fill="#111"/>
<circle cx="466.55" cy="69.63" r="1.05" fill="#111"/>
<circle cx="467.83" cy="69.58" r="1.05" fill="#111"/>
<circle cx="463.57" cy="70.74" r="1.05" fill="#111"/>
<circle cx="464.7" cy="70.76" r="1.05" fill="#111"/>
<circle cx="466.53" cy="70.78" r="1.05" fill="#111"/>
<circle cx="468.1" cy="70.44" r="1.05" fill="#111"/>
<circle cx="463.55" cy="71.52" r="1.05" fill="#111"/>
<circle cx="464.97" cy="71.91" r="1.05" fill="#111"/>
<circle cx="466.24" cy="71.62" r="1.05" fill="#111"/>
<circle cx="467.65" cy="71.55" r="1.05" fill="#111"/>
<circle cx="463.31" cy="72.65" r="1.05" fill="#111"/>
<circle cx="465.18" cy="73.04" r="1.05" fill="#111"/>
<circle cx="466.38" cy="72.97" r="1.05" fill="#111"/>
<circle cx="467.96" cy="72.86" r="1.05" fill="#111"/>
<circle cx="463.42" cy="74.08" r="1.05" fill="#111"/>
<circle cx="464.95" cy="73.88" r="1.05" fill="#111"/>
<circle cx="466.33" cy="74.06" r="1.05" fill="#111"/>
<circle cx="467.92" cy="73.85" r="1.05" fill="#111"/>
<circle cx="463.55" cy="75.34" r="1.05" fill="#111"/>
<circle cx="465.12" cy="75.23" r="1.05" fill="#111"/>
<circle cx="466.17" cy="75.11" r="1.05" fill="#111"/>
<circle cx="467.62" cy="74.93" r="1.05" fill="#111"/>
<circle cx="463.64" cy="76.28" r="1.05" fill="#111"/>
<circle cx="465.16" cy="76.36" r="1.05" fill="#111"/>
<circle cx="466.18" cy="76.4" r="1.05" fill="#111"/>
<circle cx="467.56" cy="76.3" r="1.05" fill="#111"/>
<circle cx="463.91" cy="77.42" r="1.05" fill="#111"/>
<circle cx="465.58" cy="77.56" r="1.05" fill="#111"/>
<circle cx="467.28" cy="77.42" r="1.05" fill="#111"/>
<circle cx="464.61" cy="78.59" r="1.05" fill="#111"/>
<circle cx="465.75" cy="78.71" r="1.05" fill="#111"/>
<circle cx="466.85" cy="78.55" r="1.05" fill="#111"/>
<circle cx="474.48" cy="36.23" r="1.05" fill="#111"/>
<circle cx="474.24" cy="37.33" r="1.05" fill="#111"/>
<circle cx="474.98" cy="37.39" r="1.05" fill="#111"/>
<circle cx="473.47" cy="38.51" r="1.05" fill="#111"/>
<circle cx="475.44" cy="38.65" r="1.05" fill="#111"/>
<circle cx="473.25" cy="39.55" r="1.05" fill="#111"/>
<circle cx="474.3" cy="39.8" r="1.05" fill="#111"/>
<circle cx="475.64" cy="39.42" r="1.05" fill="#111"/>
<circle cx="473.52" cy="41.03" r="1.05" fill="#111"/>
<circle cx="474.58" cy="40.86" r="1.05" fill="#111"/>
<circle cx="475.55" cy="40.56" r="1.05" fill="#111"/>
<circle cx="473.12" cy="41.73" r="1.05" fill="#111"/>
<circle cx="474.35" cy="41.82" r="1.05" fill="#111"/>
<circle cx="475.66" cy="41.93" r="1.05" fill="#111"/>
<circle cx="472.78" cy="43.27" r="1.05" fill="#111"/>
<circle cx="473.95" cy="43.17" r="1.05" fill="#111"/>
<circle cx="475.06" cy="43.18" r="1.05" fill="#111"/>
<circle cx="476.17" cy="42.99" r="1.05" fill="#111"/>
<circle cx="472.75" cy="44.5" r="1.05" fill="#111"/>
<circle cx="474" cy="44.35" r="1.05" fill="#111"/>
<circle cx="475.07" cy="44.11" r="1.05" fill="#111"/>
<circle cx="476.39" cy="44.04" r="1.05" fill="#111"/>
<circle cx="472.43" cy="45.35" r="1.05" fill="#111"/>
<circle cx="473.94" cy="45.34" r="1.05" fill="#111"/>
<circle cx="475.46" cy="45.57" r="1.05" fill="#111"/>
<circle cx="476.45" cy="45.25" r="1.05" fill="#111"/>
<circle cx="472.49" cy="46.53" r="1.05" fill="#111"/>
<circle cx="474" cy="46.5" r="1.05" fill="#111"/>
<circle cx="475.03" cy="46.61" r="1.05" fill="#111"/>
<circle cx="476.85" cy="46.43" r="1.05" fill="#111"/>
<circle cx="472.07" cy="47.62" r="1.05" fill="#111"/>
<circle cx="473.99" cy="47.83" r="1.05" fill="#111"/>
<circle cx="475.05" cy="47.57" r="1.05" fill="#111"/>
<circle cx="476.53" cy="47.48" r="1.05" fill="#111"/>
<circle cx="472.41" cy="48.69" r="1.05" fill="#111"/>
<circle cx="473.78" cy="48.82" r="1.05" fill="#111"/>
<circle cx="475.09" cy="48.97" r="1.05" fill="#111"/>
<circle cx="476.55" cy="48.92" r="1.05" fill="#111"/>
<circle cx="472.06" cy="49.96" r="1.05" fill="#111"/>
<circle cx="473.61" cy="49.88" r="1.05" fill="#111"/>
<circle cx="475.49" cy="50.15" r="1.05" fill="#111"/>
<circle cx="476.65" cy="50.19" r="1.05" fill="#111"/>
<circle cx="472.09" cy="51.1" r="1.05" fill="#111"/>
<circle cx="473.92" cy="51.22" r="1.05" fill="#111"/>
<circle cx="475.05" cy="51.39" r="1.05" fill="#111"/>
<circle cx="476.62" cy="51.03" r="1.05" fill="#111"/>
<circle cx="472.36" cy="52.21" r="1.05" fill="#111"/>
<circle cx="473.64" cy="52.09" r="1.05" fill="#111"/>
<circle cx="475.05" cy="52.34" r="1.05" fill="#111"/>
<circle cx="476.64" cy="52.35" r="1.05" fill="#111"/>
<circle cx="472.15" cy="53.43" r="1.05" fill="#111"/>
<circle cx="473.97" cy="53.44" r="1.05" fill="#111"/>
<circle cx="475.3" cy="53.63" r="1.05" fill="#111"/>
<circle cx="476.63" cy="53.28" r="1.05" fill="#111"/>
<circle cx="472.41" cy="54.76" r="1.05" fill="#111"/>
<circle cx="473.61" cy="54.44" r="1.05" fill="#111"/>
<circle cx="475.39" cy="54.82" r="1.05" fill="#111"/>
<circle cx="476.64" cy="54.83" r="1.05" fill="#111"/>
<circle cx="472.38" cy="55.8" r="1.05" fill="#111"/>
<circle cx="473.69" cy="55.55" r="1.05" fill="#111"/>
<circle cx="475.04" cy="55.98" r="1.05" fill="#111"/>
<circle cx="476.68" cy="55.85" r="1.05" fill="#111"/>
<circle cx="472.06" cy="57.06" r="1.05" fill="#111"/>
<circle cx="473.78" cy="56.8" r="1.05" fill="#111"/>
<circle cx="475.11" cy="57.01" r="1.05" fill="#111"/>
<circle cx="476.6" cy="56.76" r="1.05" fill="#111"/>
<circle cx="472.2" cy="58.23" r="1.05" fill="#111"/>
<circle cx="473.78" cy="57.94" r="1.05" fill="#111"/>
<circle cx="475.49" cy="57.9" r="1.05" fill="#111"/>
<circle cx="476.59" cy="57.93" r="1.05" fill="#111"/>
<circle cx="472.13" cy="58.98" r="1.05" fill="#111"/>
<circle cx="473.56" cy="59.13" r="1.05" fill="#111"/>
<circle cx="475.32" cy="59.02" r="1.05" fill="#111"/>
<circle cx="476.77" cy="59.4" r="1.05" fill="#111"/>
<circle cx="472.39" cy="60.43" r="1.05" fill="#111"/>
<circle cx="473.81" cy="60.39" r="1.05" fill="#111"/>
<circle cx="475.1" cy="60.12" r="1.05" fill="#111"/>
<circle cx="476.61" cy="60.56" r="1.05" fill="#111"/>
<circle cx="472.24" cy="61.73" r="1.05" fill="#111"/>
<circle cx="473.08" cy="61.57" r="1.05" fill="#111"/>
<circle cx="474.49" cy="61.62" r="1.05" fill="#111"/>
<circle cx="475.59" cy="61.75" r="1.05" fill="#111"/>
<circle cx="476.65" cy="61.52" r="1.05" fill="#111"/>
<circle cx="472.24" cy="62.85" r="1.05" fill="#111"/>
<circle cx="473.43" cy="62.75" r="1.05" fill="#111"/>
<circle cx="474.65" cy="62.86" r="1.05" fill="#111"/>
<circle cx="475.61" cy="62.74" r="1.05" fill="#111"/>
<circle cx="477.08" cy="62.84" r="1.05" fill="#111"/>
<circle cx="472.07" cy="63.95" r="1.05" fill="#111"/>
<circle cx="473.49" cy="63.84" r="1.05" fill="#111"/>
<circle cx="474.56" cy="63.74" r="1.05" fill="#111"/>
<circle cx="475.74" cy="63.85" r="1.05" fill="#111"/>
<circle cx="476.68" cy="63.87" r="1.05" fill="#111"/>
<circle cx="472.35" cy="65.14" r="1.05" fill="#111"/>
<circle cx="473.41" cy="64.89" r="1.05" fill="#111"/>
<circle cx="474.62" cy="64.99" r="1.05" fill="#111"/>
<circle cx="475.67" cy="65.12" r="1.05" fill="#111"/>
<circle cx="476.69" cy="65.08" r="1.05" fill="#111"/>
<circle cx="471.93" cy="66.15" r="1.05" fill="#111"/>
<circle cx="473.71" cy="65.97" r="1.05" fill="#111"/>
<circle cx="475.38" cy="66.1" r="1.05" fill="#111"/>
<circle cx="476.89" cy="66.31" r="1.05" fill="#111"/>
<circle cx="472.11" cy="67.01" r="1.05" fill="#111"/>
<circle cx="473.64" cy="67.34" r="1.05" fill="#111"/>
<circle cx="475.11" cy="67.08" r="1.05" fill="#111"/>
<circle cx="476.97" cy="67.33" r="1.05" fill="#111"/>
<circle cx="472.27" cy="68.6" r="1.05" fill="#111"/>
<circle cx="473.68" cy="68.48" r="1.05" fill="#111"/>
<circle cx="475.08" cy="68.37" r="1.05" fill="#111"/>
<circle cx="476.86" cy="68.61" r="1.05" fill="#111"/>
<circle cx="472.55" cy="69.49" r="1.05" fill="#111"/>
<circle cx="473.83" cy="69.46" r="1.05" fill="#111"/>
<circle cx="475.03" cy="69.55" r="1.05" fill="#111"/>
<circle cx="476.81" cy="69.72" r="1.05" fill="#111"/>
<circle cx="472.53" cy="70.93" r="1.05" fill="#111"/>
<circle cx="473.7" cy="70.53" r="1.05" fill="#111"/>
<circle cx="475.17" cy="70.59" r="1.05" fill="#111"/>
<circle cx="476.43" cy="70.66" r="1.05" fill="#111"/>
<circle cx="472.55" cy="71.85" r="1.05" fill="#111"/>
<circle cx="473.74" cy="72.02" r="1.05" fill="#111"/>
<circle cx="475.41" cy="71.83" r="1.05" fill="#111"/>
<circle cx="476.3" cy="71.62" r="1.05" fill="#111"/>
<circle cx="472.89" cy="72.77" r="1.05" fill="#111"/>
<circle cx="474" cy="73.04" r="1.05" fill="#111"/>
<circle cx="475" cy="73.15" r="1.05" fill="#111"/>
<circle cx="476.06" cy="72.82" r="1.05" fill="#111"/>
<circle cx="472.91" cy="73.91" r="1.05" fill="#111"/>
<circle cx="474.66" cy="74.02" r="1.05" fill="#111"/>
<circle cx="475.89" cy="73.92" r="1.05" fill="#111"/>
<circle cx="473.22" cy="75.27" r="1.05" fill="#111"/>
<circle cx="474.56" cy="75.38" r="1.05" fill="#111"/>
<circle cx="475.99" cy="75.53" r="1.05" fill="#111"/>
<circle cx="473.8" cy="76.3" r="1.05" fill="#111"/>
<circle cx="475.28" cy="76.29" r="1.05" fill="#111"/>
<circle cx="483.53" cy="46.08" r="1.05" fill="#111"/>
<circle cx="482.35" cy="46.97" r="1.05" fill="#111"/>
<circle cx="483.3" cy="47.09" r="1.05" fill="#111"/>
<circle cx="484.7" cy="47.31" r="1.05" fill="#111"/>
<circle cx="482" cy="48.35" r="1.05" fill="#111"/>
<circle cx="483.57" cy="48.38" r="1.05" fill="#111"/>
<circle cx="485" cy="48.27" r="1.05" fill="#111"/>
<circle cx="481.68" cy="49.65" r="1.05" fill="#111"/>
<circle cx="483.32" cy="49.61" r="1.05" fill="#111"/>
<circle cx="485.01" cy="49.54" r="1.05" fill="#111"/>
<circle cx="481.72" cy="50.55" r="1.05" fill="#111"/>
<circle cx="483.13" cy="50.36" r="1.05" fill="#111"/>
<circle cx="483.9" cy="50.81" r="1.05" fill="#111"/>
<circle cx="485.28" cy="50.4" r="1.05" fill="#111"/>
<circle cx="481.99" cy="51.97" r="1.05" fill="#111"/>
<circle cx="482.75" cy="51.71" r="1.05" fill="#111"/>
<circle cx="483.95" cy="51.66" r="1.05" fill="#111"/>
<circle cx="485.39" cy="51.58" r="1.05" fill="#111"/>
<circle cx="481.84" cy="52.68" r="1.05" fill="#111"/>
<circle cx="482.78" cy="53.06" r="1.05" fill="#111"/>
<circle cx="484.09" cy="52.86" r="1.05" fill="#111"/>
<circle cx="485.39" cy="52.89" r="1.05" fill="#111"/>
<circle cx="481.68" cy="53.82" r="1.05" fill="#111"/>
<circle cx="483.05" cy="54.28" r="1.05" fill="#111"/>
<circle cx="484.38" cy="54.13" r="1.05" fill="#111"/>
<circle cx="485.27" cy="53.98" r="1.05" fill="#111"/>
<circle cx="481.84" cy="55.29" r="1.05" fill="#111"/>
<circle cx="482.75" cy="55.07" r="1.05" fill="#111"/>
<circle cx="484.07" cy="55.21" r="1.05" fill="#111"/>
<circle cx="485.5" cy="55.2" r="1.05" fill="#111"/>
<circle cx="481.5" cy="56.51" r="1.05" fill="#111"/>
<circle cx="482.91" cy="56.36" r="1.05" fill="#111"/>
<circle cx="484" cy="56.31" r="1.05" fill="#111"/>
<circle cx="485.28" cy="56.49" r="1.05" fill="#111"/>
<circle cx="481.54" cy="57.52" r="1.05" fill="#111"/>
<circle cx="482.78" cy="57.6" r="1.05" fill="#111"/>
<circle cx="483.91" cy="57.39" r="1.05" fill="#111"/>
<circle cx="485.26" cy="57.57" r="1.05" fill="#111"/>
<circle cx="481.52" cy="58.63" r="1.05" fill="#111"/>
<circle cx="482.79" cy="58.54" r="1.05" fill="#111"/>
<circle cx="484.13" cy="58.88" r="1.05" fill="#111"/>
<circle cx="485.33" cy="58.88" r="1.05" fill="#111"/>
<circle cx="481.57" cy="60.01" r="1.05" fill="#111"/>
<circle cx="482.87" cy="59.64" r="1.05" fill="#111"/>
<circle cx="484.26" cy="60.01" r="1.05" fill="#111"/>
<circle cx="485.09" cy="59.68" r="1.05" fill="#111"/>
<circle cx="481.88" cy="60.87" r="1.05" fill="#111"/>
<circle cx="482.81" cy="60.7" r="1.05" fill="#111"/>
<circle cx="483.91" cy="61.01" r="1.05" fill="#111"/>
<circle cx="485.58" cy="61.2" r="1.05" fill="#111"/>
<circle cx="481.74" cy="61.86" r="1.05" fill="#111"/>
<circle cx="482.85" cy="62.24" r="1.05" fill="#111"/>
<circle cx="484.31" cy="62.17" r="1.05" fill="#111"/>
<circle cx="485.2" cy="62.11" r="1.05" fill="#111"/>
<circle cx="481.73" cy="63.31" r="1.05" fill="#111"/>
<circle cx="482.82" cy="63.47" r="1.05" fill="#111"/>
<circle cx="484.34" cy="63.08" r="1.05" fill="#111"/>
<circle cx="485.24" cy="63.44" r="1.05" fill="#111"/>
<circle cx="481.63" cy="64.62" r="1.05" fill="#111"/>
<circle cx="482.95" cy="64.5" r="1.05" fill="#111"/>
<circle cx="484.24" cy="64.26" r="1.05" fill="#111"/>
<circle cx="485.23" cy="64.28" r="1.05" fill="#111"/>
<circle cx="481.83" cy="65.65" r="1.05" fill="#111"/>
<circle cx="482.76" cy="65.74" r="1.05" fill="#111"/>
<circle cx="484.1" cy="65.42" r="1.05" fill="#111"/>
<circle cx="485.31" cy="65.79" r="1.05" fill="#111"/>
<circle cx="481.77" cy="66.76" r="1.05" fill="#111"/>
<circle cx="483.15" cy="66.93" r="1.05" fill="#111"/>
<circle cx="484.27" cy="66.66" r="1.05" fill="#111"/>
<circle cx="485.38" cy="66.9" r="1.05" fill="#111"/>
<circle cx="481.88" cy="67.89" r="1.05" fill="#111"/>
<circle cx="482.86" cy="67.78" r="1.05" fill="#111"/>
<circle cx="484.26" cy="67.88" r="1.05" fill="#111"/>
<circle cx="485.1" cy="67.96" r="1.05" fill="#111"/>
<circle cx="481.94" cy="69.15" r="1.05" fill="#111"/>
<circle cx="483.14" cy="69.21" r="1.05" fill="#111"/>
<circle cx="484.16" cy="69.14" r="1.05" fill="#111"/>
<circle cx="485.28" cy="68.8" r="1.05" fill="#111"/>
<circle cx="481.69" cy="70.06" r="1.05" fill="#111"/>
<circle cx="483.17" cy="70.24" r="1.05" fill="#111"/>
<circle cx="484.15" cy="70.21" r="1.05" fill="#111"/>
<circle cx="485.13" cy="70.17" r="1.05" fill="#111"/>
<circle cx="482.05" cy="71.25" r="1.05" fill="#111"/>
<circle cx="483.41" cy="71.25" r="1.05" fill="#111"/>
<circle cx="485.04" cy="71.39" r="1.05" fill="#111"/>
<circle cx="481.95" cy="72.25" r="1.05" fill="#111"/>
<circle cx="483.45" cy="72.55" r="1.05" fill="#111"/>
<circle cx="485.08" cy="72.53" r="1.05" fill="#111"/>
<circle cx="482.53" cy="73.53" r="1.05" fill="#111"/>
<circle cx="483.3" cy="73.59" r="1.05" fill="#111"/>
<circle cx="484.74" cy="73.44" r="1.05" fill="#111"/>
<circle cx="482.58" cy="74.67" r="1.05" fill="#111"/>
<circle cx="483.41" cy="74.66" r="1.05" fill="#111"/>
<circle cx="484.8" cy="74.5" r="1.05" fill="#111"/>
<circle cx="482.78" cy="75.79" r="1.05" fill="#111"/>
<circle cx="484.08" cy="75.87" r="1.05" fill="#111"/>
<circle cx="483.4" cy="77.26" r="1.05" fill="#111"/>
<circle cx="483.54" cy="78.3" r="1.05" fill="#111"/>
<circle cx="492.2" cy="34.4" r="0.95" fill="#000"/>
<circle cx="491.06" cy="40.29" r="1.05" fill="#111"/>
<circle cx="493.27" cy="40.37" r="1.05" fill="#111"/>
<circle cx="490.23" cy="41.22" r="1.05" fill="#111"/>
<circle cx="491.4" cy="41.21" r="1.05" fill="#111"/>
<circle cx="492.9" cy="41.17" r="1.05" fill="#111"/>
<circle cx="493.99" cy="41.21" r="1.05" fill="#111"/>
<circle cx="490.18" cy="42.47" r="1.05" fill="#111"/>
<circle cx="491.72" cy="42.55" r="1.05" fill="#111"/>
<circle cx="492.57" cy="42.39" r="1.05" fill="#111"/>
<circle cx="493.9" cy="42.69" r="1.05" fill="#111"/>
<circle cx="490.43" cy="43.8" r="1.05" fill="#111"/>
<circle cx="491.71" cy="43.77" r="1.05" fill="#111"/>
<circle cx="493.04" cy="43.8" r="1.05" fill="#111"/>
<circle cx="493.96" cy="43.82" r="1.05" fill="#111"/>
<circle cx="490.27" cy="44.93" r="1.05" fill="#111"/>
<circle cx="491.58" cy="44.76" r="1.05" fill="#111"/>
<circle cx="492.75" cy="44.76" r="1.05" fill="#111"/>
<circle cx="493.99" cy="44.61" r="1.05" fill="#111"/>
<circle cx="490.44" cy="46.1" r="1.05" fill="#111"/>
<circle cx="491.79" cy="46.05" r="1.05" fill="#111"/>
<circle cx="492.84" cy="46.07" r="1.05" fill="#111"/>
<circle cx="493.9" cy="46.04" r="1.05" fill="#111"/>
<circle cx="490.25" cy="46.94" r="1.05" fill="#111"/>
<circle cx="491.4" cy="47.11" r="1.05" fill="#111"/>
<circle cx="492.69" cy="47.08" r="1.05" fill="#111"/>
<circle cx="494.13" cy="47.05" r="1.05" fill="#111"/>
<circle cx="490.1" cy="48.25" r="1.05" fill="#111"/>
<circle cx="491.41" cy="48.12" r="1.05" fill="#111"/>
<circle cx="492.66" cy="48.18" r="1.05" fill="#111"/>
<circle cx="493.87" cy="48.33" r="1.05" fill="#111"/>
<circle cx="490.51" cy="49.34" r="1.05" fill="#111"/>
<circle cx="491.66" cy="49.62" r="1.05" fill="#111"/>
<circle cx="492.58" cy="49.22" r="1.05" fill="#111"/>
<circle cx="494.23" cy="49.57" r="1.05" fill="#111"/>
<circle cx="490.35" cy="50.38" r="1.05" fill="#111"/>
<circle cx="491.5" cy="50.73" r="1.05" fill="#111"/>
<circle cx="493.01" cy="50.7" r="1.05" fill="#111"/>
<circle cx="493.93" cy="50.73" r="1.05" fill="#111"/>
<circle cx="490.22" cy="51.81" r="1.05" fill="#111"/>
<circle cx="491.37" cy="51.94" r="1.05" fill="#111"/>
<circle cx="492.87" cy="51.81" r="1.05" fill="#111"/>
<circle cx="493.94" cy="51.76" r="1.05" fill="#111"/>
<circle cx="490.32" cy="52.9" r="1.05" fill="#111"/>
<circle cx="491.48" cy="52.96" r="1.05" fill="#111"/>
<circle cx="492.73" cy="52.75" r="1.05" fill="#111"/>
<circle cx="493.91" cy="52.94" r="1.05" fill="#111"/>
<circle cx="490.09" cy="53.86" r="1.05" fill="#111"/>
<circle cx="491.33" cy="54.07" r="1.05" fill="#111"/>
<circle cx="492.84" cy="54.02" r="1.05" fill="#111"/>
<circle cx="493.85" cy="53.97" r="1.05" fill="#111"/>
<circle cx="490.2" cy="54.95" r="1.05" fill="#111"/>
<circle cx="491.3" cy="55.4" r="1.05" fill="#111"/>
<circle cx="492.62" cy="55.05" r="1.05" fill="#111"/>
<circle cx="493.96" cy="55.2" r="1.05" fill="#111"/>
<circle cx="490.07" cy="56.28" r="1.05" fill="#111"/>
<circle cx="491.48" cy="56.47" r="1.05" fill="#111"/>
<circle cx="492.57" cy="56.22" r="1.05" fill="#111"/>
<circle cx="494.08" cy="56.53" r="1.05" fill="#111"/>
<circle cx="490.29" cy="57.44" r="1.05" fill="#111"/>
<circle cx="491.63" cy="57.35" r="1.05" fill="#111"/>
<circle cx="492.58" cy="57.45" r="1.05" fill="#111"/>
<circle cx="494.29" cy="57.57" r="1.05" fill="#111"/>
<circle cx="490.16" cy="58.69" r="1.05" fill="#111"/>
<circle cx="491.72" cy="58.48" r="1.05" fill="#111"/>
<circle cx="492.86" cy="58.53" r="1.05" fill="#111"/>
<circle cx="493.95" cy="58.49" r="1.05" fill="#111"/>
<circle cx="490.13" cy="59.68" r="1.05" fill="#111"/>
<circle cx="491.32" cy="59.7" r="1.05" fill="#111"/>
<circle cx="492.61" cy="59.88" r="1.05" fill="#111"/>
<circle cx="494.13" cy="59.5" r="1.05" fill="#111"/>
<circle cx="490.42" cy="60.75" r="1.05" fill="#111"/>
<circle cx="491.54" cy="60.93" r="1.05" fill="#111"/>
<circle cx="492.73" cy="60.79" r="1.05" fill="#111"/>
<circle cx="494.05" cy="60.72" r="1.05" fill="#111"/>
<circle cx="490.46" cy="61.86" r="1.05" fill="#111"/>
<circle cx="491.71" cy="61.91" r="1.05" fill="#111"/>
<circle cx="492.72" cy="61.99" r="1.05" fill="#111"/>
<circle cx="493.85" cy="61.86" r="1.05" fill="#111"/>
<circle cx="490.21" cy="63.17" r="1.05" fill="#111"/>
<circle cx="491.73" cy="63.44" r="1.05" fill="#111"/>
<circle cx="492.59" cy="63.22" r="1.05" fill="#111"/>
<circle cx="493.89" cy="63.35" r="1.05" fill="#111"/>
<circle cx="490.19" cy="64.55" r="1.05" fill="#111"/>
<circle cx="491.57" cy="64.16" r="1.05" fill="#111"/>
<circle cx="492.57" cy="64.22" r="1.05" fill="#111"/>
<circle cx="494.26" cy="64.17" r="1.05" fill="#111"/>
<circle cx="490.27" cy="65.44" r="1.05" fill="#111"/>
<circle cx="491.47" cy="65.65" r="1.05" fill="#111"/>
<circle cx="492.67" cy="65.61" r="1.05" fill="#111"/>
<circle cx="494.16" cy="65.72" r="1.05" fill="#111"/>
<circle cx="490.52" cy="66.86" r="1.05" fill="#111"/>
<circle cx="492.15" cy="66.69" r="1.05" fill="#111"/>
<circle cx="493.91" cy="66.82" r="1.05" fill="#111"/>
<circle cx="491.12" cy="67.61" r="1.05" fill="#111"/>
<circle cx="492" cy="67.82" r="1.05" fill="#111"/>
<circle cx="493.6" cy="67.82" r="1.05" fill="#111"/>
<circle cx="491.23" cy="69.18" r="1.05" fill="#111"/>
<circle cx="492.93" cy="68.74" r="1.05" fill="#111"/>
<circle cx="501" cy="40.2" r="0.95" fill="#000"/>
<circle cx="499.97" cy="41.9" r="0.85" fill="#222"/>
<circle cx="502.15" cy="42.02" r="0.85" fill="#222"/>
<circle cx="499.79" cy="43.13" r="0.85" fill="#222"/>
<circle cx="501.24" cy="43.33" r="0.85" fill="#222"/>
<circle cx="502.24" cy="43.34" r="0.85" fill="#222"/>
<circle cx="499.72" cy="44.84" r="0.85" fill="#222"/>
<circle cx="500.93" cy="44.56" r="0.85" fill="#222"/>
<circle cx="502.67" cy="44.63" r="0.85" fill="#222"/>
<circle cx="499.65" cy="46.3" r="0.85" fill="#222"/>
<circle cx="501.19" cy="45.97" r="0.85" fill="#222"/>
<circle cx="502.5" cy="46.23" r="0.85" fill="#222"/>
<circle cx="499.6" cy="47.68" r="0.85" fill="#222"/>
<circle cx="500.93" cy="47.52" r="0.85" fill="#222"/>
<circle cx="502.26" cy="47.45" r="0.85" fill="#222"/>
<circle cx="500.01" cy="49" r="0.85" fill="#222"/>
<circle cx="501.37" cy="49.02" r="0.85" fill="#222"/>
<circle cx="502.52" cy="49.24" r="0.85" fill="#222"/>
<circle cx="499.86" cy="50.31" r="0.85" fill="#222"/>
<circle cx="501.16" cy="50.57" r="0.85" fill="#222"/>
<circle cx="502.31" cy="50.3" r="0.85" fill="#222"/>
<circle cx="499.96" cy="51.96" r="0.85" fill="#222"/>
<circle cx="500.97" cy="51.93" r="0.85" fill="#222"/>
<circle cx="502.33" cy="52.1" r="0.85" fill="#222"/>
<circle cx="499.77" cy="53.2" r="0.85" fill="#222"/>
<circle cx="501.28" cy="53.19" r="0.85" fill="#222"/>
<circle cx="502.36" cy="53.16" r="0.85" fill="#222"/>
<circle cx="499.89" cy="54.66" r="0.85" fill="#222"/>
<circle cx="501.13" cy="54.65" r="0.85" fill="#222"/>
<circle cx="502.46" cy="54.94" r="0.85" fill="#222"/>
<circle cx="499.79" cy="56.28" r="0.85" fill="#222"/>
<circle cx="501.11" cy="56.27" r="0.85" fill="#222"/>
<circle cx="502.52" cy="56.1" r="0.85" fill="#222"/>
<circle cx="499.76" cy="57.62" r="0.85" fill="#222"/>
<circle cx="501.3" cy="57.97" r="0.85" fill="#222"/>
<circle cx="502.25" cy="57.57" r="0.85" fill="#222"/>
<circle cx="499.87" cy="59.24" r="0.85" fill="#222"/>
<circle cx="500.88" cy="59.3" r="0.85" fill="#222"/>
<circle cx="502.69" cy="59.16" r="0.85" fill="#222"/>
<circle cx="499.69" cy="60.68" r="0.85" fill="#222"/>
<circle cx="501.34" cy="60.53" r="0.85" fill="#222"/>
<circle cx="502.37" cy="60.49" r="0.85" fill="#222"/>
<circle cx="499.83" cy="62.08" r="0.85" fill="#222"/>
<circle cx="501" cy="62.04" r="0.85" fill="#222"/>
<circle cx="502.24" cy="62.01" r="0.85" fill="#222"/>
<circle cx="500.01" cy="63.59" r="0.85" fill="#222"/>
<circle cx="501.01" cy="63.77" r="0.85" fill="#222"/>
<circle cx="502.4" cy="63.43" r="0.85" fill="#222"/>
<circle cx="499.81" cy="64.82" r="0.85" fill="#222"/>
<circle cx="502.05" cy="64.87" r="0.85" fill="#222"/>
<circle cx="500.62" cy="66.33" r="0.85" fill="#222"/>
<circle cx="501.68" cy="66.5" r="0.85" fill="#222"/>
<circle cx="501.2" cy="71.3" r="0.85" fill="#000"/>
<circle cx="511.4" cy="54.4" r="0.75" fill="#000"/>
<circle cx="509.4" cy="57.7" r="0.75" fill="#000"/>
<circle cx="510.39" cy="59.76" r="0.8" fill="#000"/>
<circle cx="509.56" cy="61.43" r="0.8" fill="#000"/>
<circle cx="511.12" cy="61.36" r="0.8" fill="#000"/>
<circle cx="509.4" cy="63.29" r="0.8" fill="#000"/>
<circle cx="511.29" cy="63.45" r="0.8" fill="#000"/>
<circle cx="509.51" cy="64.72" r="0.8" fill="#000"/>
<circle cx="510.78" cy="64.69" r="0.8" fill="#000"/>
<circle cx="510" cy="74.5" r="0.75" fill="#000"/>
<text x="457.12" y="41.6" font-size="6.8" text-anchor="middle" fill="#111"  stroke="#111" stroke-width="0.1">b</text>
<text x="465.96" y="36.8" font-size="6.8" text-anchor="middle" fill="#111"  stroke="#111" stroke-width="0.1">b</text>
<text x="474.8" y="32.6" font-size="6.8" text-anchor="middle" fill="#111"  stroke="#111" stroke-width="0.1">a</text>
<text x="483.64" y="43.6" font-size="6.8" text-anchor="middle" fill="#111"  stroke="#111" stroke-width="0.1">b</text>
<text x="492.48" y="29.4" font-size="6.8" text-anchor="middle" fill="#111"  stroke="#111" stroke-width="0.1">a</text>
<text x="501.32" y="37.6" font-size="6.8" text-anchor="middle" fill="#111"  stroke="#111" stroke-width="0.1">a</text>
<circle cx="394.61" cy="78.62" r="0.44" fill="#fff"/>
<circle cx="393.3" cy="71.47" r="0.53" fill="#fff"/>
<circle cx="396.03" cy="63.29" r="0.47" fill="#fff"/>
<circle cx="393.9" cy="62.69" r="0.59" fill="#fff"/>
<circle cx="396.14" cy="69.22" r="0.54" fill="#fff"/>
<circle cx="396.52" cy="62.15" r="0.45" fill="#fff"/>
<circle cx="394.38" cy="62.92" r="0.54" fill="#fff"/>
<circle cx="396.86" cy="71.71" r="0.56" fill="#fff"/>
<circle cx="395.42" cy="70.06" r="0.49" fill="#fff"/>
<circle cx="396.62" cy="67.37" r="0.48" fill="#fff"/>
<circle cx="455.7" cy="61.22" r="0.52" fill="#fff"/>
<circle cx="456.78" cy="48.09" r="0.57" fill="#fff"/>
<circle cx="458.15" cy="69.8" r="0.39" fill="#fff"/>
<circle cx="459.02" cy="59.81" r="0.39" fill="#fff"/>
<circle cx="456.34" cy="47.32" r="0.55" fill="#fff"/>
<circle cx="458.82" cy="72.3" r="0.53" fill="#fff"/>
<circle cx="457.23" cy="56.17" r="0.52" fill="#fff"/>
<circle cx="455.27" cy="46.83" r="0.48" fill="#fff"/>
<circle cx="456.47" cy="74.7" r="0.52" fill="#fff"/>
<circle cx="455.38" cy="63.21" r="0.36" fill="#fff"/>
<circle cx="458.87" cy="65.82" r="0.55" fill="#fff"/>
<circle cx="456.58" cy="45.96" r="0.53" fill="#fff"/>
<circle cx="457.82" cy="55.09" r="0.4" fill="#fff"/>
<circle cx="458.48" cy="54.9" r="0.52" fill="#fff"/>
<circle cx="467.75" cy="69.3" r="0.38" fill="#fff"/>
<circle cx="467.6" cy="77.3" r="0.57" fill="#fff"/>
<circle cx="466.78" cy="54.54" r="0.37" fill="#fff"/>
<circle cx="467.22" cy="54.98" r="0.57" fill="#fff"/>
<circle cx="464.68" cy="63.84" r="0.41" fill="#fff"/>
<circle cx="466.72" cy="69.29" r="0.42" fill="#fff"/>
<circle cx="465.89" cy="64.46" r="0.51" fill="#fff"/>
<circle cx="467.83" cy="63.05" r="0.36" fill="#fff"/>
<circle cx="467.89" cy="70.54" r="0.39" fill="#fff"/>
<circle cx="466.72" cy="53.25" r="0.6" fill="#fff"/>
<circle cx="464.84" cy="71.36" r="0.44" fill="#fff"/>
<circle cx="466.45" cy="66.36" r="0.59" fill="#fff"/>
<circle cx="465.84" cy="73.36" r="0.48" fill="#fff"/>
<circle cx="465.26" cy="73.27" r="0.38" fill="#fff"/>
<circle cx="464.48" cy="60.17" r="0.48" fill="#fff"/>
<circle cx="466.32" cy="57.03" r="0.35" fill="#fff"/>
<circle cx="474.63" cy="41.55" r="0.48" fill="#fff"/>
<circle cx="477.13" cy="69.23" r="0.38" fill="#fff"/>
<circle cx="475.41" cy="51.33" r="0.55" fill="#fff"/>
<circle cx="475.37" cy="53.63" r="0.42" fill="#fff"/>
<circle cx="473.05" cy="62.51" r="0.41" fill="#fff"/>
<circle cx="475.65" cy="74.31" r="0.43" fill="#fff"/>
<circle cx="475.62" cy="65.07" r="0.48" fill="#fff"/>
<circle cx="477.23" cy="39.73" r="0.46" fill="#fff"/>
<circle cx="473.07" cy="69.63" r="0.53" fill="#fff"/>
<circle cx="476.1" cy="58.69" r="0.35" fill="#fff"/>
<circle cx="472.66" cy="54.65" r="0.58" fill="#fff"/>
<circle cx="472.91" cy="45.69" r="0.59" fill="#fff"/>
<circle cx="474.58" cy="63.55" r="0.52" fill="#fff"/>
<circle cx="476.78" cy="68.13" r="0.57" fill="#fff"/>
<circle cx="474.08" cy="75.69" r="0.57" fill="#fff"/>
<circle cx="474.31" cy="46.74" r="0.39" fill="#fff"/>
<circle cx="473.04" cy="50.5" r="0.39" fill="#fff"/>
<circle cx="474.51" cy="53.66" r="0.53" fill="#fff"/>
<circle cx="475.85" cy="42.93" r="0.37" fill="#fff"/>
<circle cx="475.4" cy="63.66" r="0.56" fill="#fff"/>
<circle cx="475.38" cy="70.29" r="0.37" fill="#fff"/>
<circle cx="476.38" cy="73.77" r="0.36" fill="#fff"/>
<circle cx="482.58" cy="74.27" r="0.4" fill="#fff"/>
<circle cx="483.97" cy="49.3" r="0.39" fill="#fff"/>
<circle cx="482.82" cy="72.74" r="0.4" fill="#fff"/>
<circle cx="483.67" cy="74.83" r="0.46" fill="#fff"/>
<circle cx="482" cy="74.99" r="0.47" fill="#fff"/>
<circle cx="481.93" cy="49.17" r="0.36" fill="#fff"/>
<circle cx="483.76" cy="50.93" r="0.46" fill="#fff"/>
<circle cx="483.89" cy="66.53" r="0.56" fill="#fff"/>
<circle cx="482.25" cy="59.35" r="0.45" fill="#fff"/>
<circle cx="482.44" cy="61.8" r="0.45" fill="#fff"/>
<circle cx="485.1" cy="62.44" r="0.4" fill="#fff"/>
<circle cx="485.1" cy="69.01" r="0.49" fill="#fff"/>
<circle cx="485.43" cy="69.74" r="0.43" fill="#fff"/>
<circle cx="485.24" cy="51.4" r="0.39" fill="#fff"/>
<circle cx="484.08" cy="68.43" r="0.52" fill="#fff"/>
<circle cx="485.18" cy="66.75" r="0.46" fill="#fff"/>
<circle cx="494.39" cy="61.28" r="0.52" fill="#fff"/>
<circle cx="492.16" cy="47.98" r="0.56" fill="#fff"/>
<circle cx="492.9" cy="60.74" r="0.36" fill="#fff"/>
<circle cx="492.88" cy="60.23" r="0.44" fill="#fff"/>
<circle cx="492.6" cy="64.5" r="0.5" fill="#fff"/>
<circle cx="493.75" cy="48.33" r="0.55" fill="#fff"/>
<circle cx="490.57" cy="63.59" r="0.41" fill="#fff"/>
<circle cx="491.82" cy="47.05" r="0.55" fill="#fff"/>
<circle cx="494.42" cy="62.73" r="0.39" fill="#fff"/>
<circle cx="492.09" cy="47.81" r="0.5" fill="#fff"/>
<circle cx="491.41" cy="58.59" r="0.4" fill="#fff"/>
<circle cx="493.44" cy="57.25" r="0.54" fill="#fff"/>
<circle cx="492.44" cy="42.19" r="0.42" fill="#fff"/>
<circle cx="491.44" cy="61.51" r="0.49" fill="#fff"/>
<circle cx="500.76" cy="51.65" r="0.45" fill="#fff"/>
<circle cx="500.14" cy="64.69" r="0.54" fill="#fff"/>
<circle cx="502.44" cy="46.19" r="0.42" fill="#fff"/>
<circle cx="500.18" cy="57.48" r="0.46" fill="#fff"/>
<circle cx="501.37" cy="55.52" r="0.35" fill="#fff"/>
<circle cx="500.16" cy="45.62" r="0.43" fill="#fff"/>
<circle cx="502.31" cy="61.08" r="0.36" fill="#fff"/>
<circle cx="500.12" cy="50.45" r="0.48" fill="#fff"/>
<line x1="27.6" y1="242.3" x2="27.6" y2="293.8" stroke="#000" stroke-width="1" />
<line x1="27.6" y1="296.8" x2="27.6" y2="347.9" stroke="#000" stroke-width="1" />
<line x1="26.2" y1="242.7" x2="27.6" y2="242.7" stroke="#000" stroke-width="0.6" />
<text x="26" y="244.3" font-size="4.6" font-weight="bold" text-anchor="end" fill="#111"  textLength="9.6" lengthAdjust="spacingAndGlyphs">8000</text>
<line x1="26.2" y1="255.55" x2="27.6" y2="255.55" stroke="#000" stroke-width="0.6" />
<text x="26" y="257.15" font-size="4.6" font-weight="bold" text-anchor="end" fill="#111"  textLength="9.6" lengthAdjust="spacingAndGlyphs">7000</text>
<line x1="26.2" y1="268.4" x2="27.6" y2="268.4" stroke="#000" stroke-width="0.6" />
<text x="26" y="270" font-size="4.6" font-weight="bold" text-anchor="end" fill="#111"  textLength="9.6" lengthAdjust="spacingAndGlyphs">6000</text>
<line x1="26.2" y1="281.25" x2="27.6" y2="281.25" stroke="#000" stroke-width="0.6" />
<text x="26" y="282.85" font-size="4.6" font-weight="bold" text-anchor="end" fill="#111"  textLength="9.6" lengthAdjust="spacingAndGlyphs">5000</text>
<line x1="26.2" y1="294.1" x2="27.6" y2="294.1" stroke="#000" stroke-width="0.6" />
<text x="26" y="295.7" font-size="4.6" font-weight="bold" text-anchor="end" fill="#111"  textLength="9.6" lengthAdjust="spacingAndGlyphs">4000</text>
<line x1="26.2" y1="297.15" x2="27.6" y2="297.15" stroke="#000" stroke-width="0.6" />
<text x="26" y="298.75" font-size="4.6" font-weight="bold" text-anchor="end" fill="#111"  textLength="9.6" lengthAdjust="spacingAndGlyphs">3000</text>
<line x1="26.2" y1="313.9" x2="27.6" y2="313.9" stroke="#000" stroke-width="0.6" />
<text x="26" y="315.5" font-size="4.6" font-weight="bold" text-anchor="end" fill="#111"  textLength="9.6" lengthAdjust="spacingAndGlyphs">2000</text>
<line x1="26.2" y1="330.65" x2="27.6" y2="330.65" stroke="#000" stroke-width="0.6" />
<text x="26" y="332.25" font-size="4.6" font-weight="bold" text-anchor="end" fill="#111"  textLength="9.6" lengthAdjust="spacingAndGlyphs">1000</text>
<line x1="26.2" y1="347.4" x2="27.6" y2="347.4" stroke="#000" stroke-width="0.6" />
<text x="26" y="349" font-size="4.6" font-weight="bold" text-anchor="end" fill="#111" >0</text>
<text x="0" y="0" font-size="5" font-weight="bold" text-anchor="middle" fill="#111" transform="translate(6.9,295.9) rotate(-90)"  stroke="#111" stroke-width="0.15" textLength="10.3" lengthAdjust="spacingAndGlyphs">CCN1</text>
<text x="0" y="0" font-size="5" font-weight="bold" text-anchor="middle" fill="#111" transform="translate(14.4,294.2) rotate(-90)"  stroke="#111" stroke-width="0.15">[pg/mL]</text>
<text x="42.3" y="285.9" font-size="7.6" fill="#111"  stroke="#111" stroke-width="0.15" textLength="79.2" lengthAdjust="spacingAndGlyphs">Control vs. MM <tspan font-style="italic">p</tspan> =0.0014</text>
<rect x="28" y="346.9" width="0.95" height="0.5" fill="#1a1a1a" />
<rect x="28.95" y="346.7" width="0.95" height="0.7" fill="#1a1a1a" />
<rect x="29.9" y="346.32" width="0.95" height="1.08" fill="#1a1a1a" />
<rect x="30.85" y="345.84" width="0.95" height="1.56" fill="#1a1a1a" />
<rect x="31.8" y="345.27" width="0.95" height="2.13" fill="#1a1a1a" />
<rect x="32.75" y="344.62" width="0.95" height="2.78" fill="#1a1a1a" />
<rect x="33.7" y="343.9" width="0.95" height="3.5" fill="#1a1a1a" />
<rect x="33.9" y="338.5" width="1.1" height="8.9" fill="#4a5a5a" />
<rect x="35" y="344.5" width="3.4" height="2.9" fill="#d81c2b" />
<rect x="35" y="344.5" width="0.6" height="2.9" fill="#a30f1b" />
<rect x="37.8" y="345" width="0.6" height="2.4" fill="#f0a4ac" />
<rect x="38.4" y="344.27" width="3.4" height="3.13" fill="#d81c2b" />
<rect x="38.4" y="344.27" width="0.6" height="3.13" fill="#a30f1b" />
<rect x="41.2" y="344.77" width="0.6" height="2.63" fill="#f0a4ac" />
<rect x="41.8" y="344.04" width="3.4" height="3.36" fill="#d81c2b" />
<rect x="41.8" y="344.04" width="0.6" height="3.36" fill="#a30f1b" />
<rect x="44.6" y="344.54" width="0.6" height="2.86" fill="#f0a4ac" />
<rect x="45.2" y="343.81" width="3.4" height="3.59" fill="#d81c2b" />
<rect x="45.2" y="343.81" width="0.6" height="3.59" fill="#a30f1b" />
<rect x="48" y="344.31" width="0.6" height="3.09" fill="#f0a4ac" />
<rect x="48.6" y="343.58" width="3.4" height="3.82" fill="#d81c2b" />
<rect x="48.6" y="343.58" width="0.6" height="3.82" fill="#a30f1b" />
<rect x="51.4" y="344.08" width="0.6" height="3.32" fill="#f0a4ac" />
<rect x="52" y="343.36" width="3.4" height="4.04" fill="#d81c2b" />
<rect x="52" y="343.36" width="0.6" height="4.04" fill="#a30f1b" />
<rect x="54.8" y="343.86" width="0.6" height="3.54" fill="#f0a4ac" />
<rect x="55.4" y="343.13" width="3.4" height="4.27" fill="#d81c2b" />
<rect x="55.4" y="343.13" width="0.6" height="4.27" fill="#a30f1b" />
<rect x="58.2" y="343.63" width="0.6" height="3.77" fill="#f0a4ac" />
<rect x="58.8" y="342.93" width="3.4" height="4.47" fill="#d81c2b" />
<rect x="58.8" y="342.93" width="0.6" height="4.47" fill="#a30f1b" />
<rect x="61.6" y="343.43" width="0.6" height="3.97" fill="#f0a4ac" />
<rect x="62.2" y="342.76" width="3.4" height="4.64" fill="#d81c2b" />
<rect x="62.2" y="342.76" width="0.6" height="4.64" fill="#a30f1b" />
<rect x="65" y="343.26" width="0.6" height="4.14" fill="#f0a4ac" />
<rect x="65.6" y="342.6" width="3.4" height="4.8" fill="#d81c2b" />
<rect x="65.6" y="342.6" width="0.6" height="4.8" fill="#a30f1b" />
<rect x="68.4" y="343.1" width="0.6" height="4.3" fill="#f0a4ac" />
<rect x="69" y="342.43" width="3.4" height="4.97" fill="#d81c2b" />
<rect x="69" y="342.43" width="0.6" height="4.97" fill="#a30f1b" />
<rect x="71.8" y="342.93" width="0.6" height="4.47" fill="#f0a4ac" />
<rect x="72.4" y="342.27" width="3.4" height="5.13" fill="#d81c2b" />
<rect x="72.4" y="342.27" width="0.6" height="5.13" fill="#a30f1b" />
<rect x="75.2" y="342.77" width="0.6" height="4.63" fill="#f0a4ac" />
<rect x="75.8" y="342.1" width="3.4" height="5.3" fill="#d81c2b" />
<rect x="75.8" y="342.1" width="0.6" height="5.3" fill="#a30f1b" />
<rect x="78.6" y="342.6" width="0.6" height="4.8" fill="#f0a4ac" />
<rect x="79.2" y="341.94" width="3.4" height="5.46" fill="#d81c2b" />
<rect x="79.2" y="341.94" width="0.6" height="5.46" fill="#a30f1b" />
<rect x="82" y="342.44" width="0.6" height="4.96" fill="#f0a4ac" />
<rect x="82.6" y="341.77" width="3.4" height="5.63" fill="#d81c2b" />
<rect x="82.6" y="341.77" width="0.6" height="5.63" fill="#a30f1b" />
<rect x="85.4" y="342.27" width="0.6" height="5.13" fill="#f0a4ac" />
<rect x="86" y="341.6" width="3.4" height="5.8" fill="#d81c2b" />
<rect x="86" y="341.6" width="0.6" height="5.8" fill="#a30f1b" />
<rect x="88.8" y="342.1" width="0.6" height="5.3" fill="#f0a4ac" />
<rect x="89.4" y="341.44" width="3.4" height="5.96" fill="#d81c2b" />
<rect x="89.4" y="341.44" width="0.6" height="5.96" fill="#a30f1b" />
<rect x="92.2" y="341.94" width="0.6" height="5.46" fill="#f0a4ac" />
<rect x="92.8" y="341.28" width="3.4" height="6.12" fill="#d81c2b" />
<rect x="92.8" y="341.28" width="0.6" height="6.12" fill="#a30f1b" />
<rect x="95.6" y="341.78" width="0.6" height="5.62" fill="#f0a4ac" />
<rect x="96.2" y="341.11" width="3.4" height="6.29" fill="#d81c2b" />
<rect x="96.2" y="341.11" width="0.6" height="6.29" fill="#a30f1b" />
<rect x="99" y="341.61" width="0.6" height="5.79" fill="#f0a4ac" />
<rect x="99.6" y="340.95" width="3.4" height="6.45" fill="#d81c2b" />
<rect x="99.6" y="340.95" width="0.6" height="6.45" fill="#a30f1b" />
<rect x="102.4" y="341.45" width="0.6" height="5.95" fill="#f0a4ac" />
<rect x="103" y="340.78" width="3.4" height="6.62" fill="#d81c2b" />
<rect x="103" y="340.78" width="0.6" height="6.62" fill="#a30f1b" />
<rect x="105.8" y="341.28" width="0.6" height="6.12" fill="#f0a4ac" />
<rect x="106.4" y="340.62" width="3.4" height="6.78" fill="#d81c2b" />
<rect x="106.4" y="340.62" width="0.6" height="6.78" fill="#a30f1b" />
<rect x="109.2" y="341.12" width="0.6" height="6.28" fill="#f0a4ac" />
<rect x="109.8" y="340.45" width="3.4" height="6.95" fill="#d81c2b" />
<rect x="109.8" y="340.45" width="0.6" height="6.95" fill="#a30f1b" />
<rect x="112.6" y="340.95" width="0.6" height="6.45" fill="#f0a4ac" />
<rect x="113.2" y="340.29" width="3.4" height="7.11" fill="#d81c2b" />
<rect x="113.2" y="340.29" width="0.6" height="7.11" fill="#a30f1b" />
<rect x="116" y="340.79" width="0.6" height="6.61" fill="#f0a4ac" />
<rect x="116.6" y="340.07" width="3.4" height="7.33" fill="#d81c2b" />
<rect x="116.6" y="340.07" width="0.6" height="7.33" fill="#a30f1b" />
<rect x="119.4" y="340.57" width="0.6" height="6.83" fill="#f0a4ac" />
<rect x="120" y="339.8" width="3.4" height="7.6" fill="#d81c2b" />
<rect x="120" y="339.8" width="0.6" height="7.6" fill="#a30f1b" />
<rect x="122.8" y="340.3" width="0.6" height="7.1" fill="#f0a4ac" />
<rect x="123.4" y="339.53" width="3.4" height="7.87" fill="#d81c2b" />
<rect x="123.4" y="339.53" width="0.6" height="7.87" fill="#a30f1b" />
<rect x="126.2" y="340.03" width="0.6" height="7.37" fill="#f0a4ac" />
<rect x="126.8" y="339.26" width="3.4" height="8.14" fill="#d81c2b" />
<rect x="126.8" y="339.26" width="0.6" height="8.14" fill="#a30f1b" />
<rect x="129.6" y="339.76" width="0.6" height="7.64" fill="#f0a4ac" />
<rect x="130.2" y="338.99" width="3.4" height="8.41" fill="#d81c2b" />
<rect x="130.2" y="338.99" width="0.6" height="8.41" fill="#a30f1b" />
<rect x="133" y="339.49" width="0.6" height="7.91" fill="#f0a4ac" />
<rect x="133.6" y="338.71" width="3.4" height="8.69" fill="#d81c2b" />
<rect x="133.6" y="338.71" width="0.6" height="8.69" fill="#a30f1b" />
<rect x="136.4" y="339.21" width="0.6" height="8.19" fill="#f0a4ac" />
<rect x="137" y="338.44" width="3.4" height="8.96" fill="#d81c2b" />
<rect x="137" y="338.44" width="0.6" height="8.96" fill="#a30f1b" />
<rect x="139.8" y="338.94" width="0.6" height="8.46" fill="#f0a4ac" />
<rect x="140.4" y="338.17" width="3.4" height="9.23" fill="#d81c2b" />
<rect x="140.4" y="338.17" width="0.6" height="9.23" fill="#a30f1b" />
<rect x="143.2" y="338.67" width="0.6" height="8.73" fill="#f0a4ac" />
<rect x="143.8" y="337.9" width="3.4" height="9.5" fill="#d81c2b" />
<rect x="143.8" y="337.9" width="0.6" height="9.5" fill="#a30f1b" />
<rect x="146.6" y="338.4" width="0.6" height="9" fill="#f0a4ac" />
<rect x="147.2" y="337.25" width="3.4" height="10.15" fill="#d81c2b" />
<rect x="147.2" y="337.25" width="0.6" height="10.15" fill="#a30f1b" />
<rect x="150" y="337.75" width="0.6" height="9.65" fill="#f0a4ac" />
<rect x="150.6" y="336.41" width="3.4" height="10.99" fill="#d81c2b" />
<rect x="150.6" y="336.41" width="0.6" height="10.99" fill="#a30f1b" />
<rect x="153.4" y="336.91" width="0.6" height="10.49" fill="#f0a4ac" />
<rect x="154" y="335.46" width="3.4" height="11.94" fill="#d81c2b" />
<rect x="154" y="335.46" width="0.6" height="11.94" fill="#a30f1b" />
<rect x="156.8" y="335.96" width="0.6" height="11.44" fill="#f0a4ac" />
<rect x="157.4" y="334.51" width="3.4" height="12.89" fill="#d81c2b" />
<rect x="157.4" y="334.51" width="0.6" height="12.89" fill="#a30f1b" />
<rect x="160.2" y="335.01" width="0.6" height="12.39" fill="#f0a4ac" />
<rect x="160.8" y="333.65" width="3.4" height="13.75" fill="#d81c2b" />
<rect x="160.8" y="333.65" width="0.6" height="13.75" fill="#a30f1b" />
<rect x="163.6" y="334.15" width="0.6" height="13.25" fill="#f0a4ac" />
<rect x="164.2" y="332.78" width="3.4" height="14.62" fill="#d81c2b" />
<rect x="164.2" y="332.78" width="0.6" height="14.62" fill="#a30f1b" />
<rect x="167" y="333.28" width="0.6" height="14.12" fill="#f0a4ac" />
<rect x="167.6" y="331.69" width="3.4" height="15.71" fill="#d81c2b" />
<rect x="167.6" y="331.69" width="0.6" height="15.71" fill="#a30f1b" />
<rect x="170.4" y="332.19" width="0.6" height="15.21" fill="#f0a4ac" />
<rect x="171" y="328.72" width="3.4" height="18.68" fill="#d81c2b" />
<rect x="171" y="328.72" width="0.6" height="18.68" fill="#a30f1b" />
<rect x="173.8" y="329.22" width="0.6" height="18.18" fill="#f0a4ac" />
<rect x="174.4" y="325.2" width="0.7" height="22.2" fill="#c0141f" />
<rect x="175.1" y="324.08" width="0.7" height="23.32" fill="#c0141f" />
<rect x="175.8" y="323" width="0.7" height="24.4" fill="#c0141f" />
<rect x="176.5" y="318.42" width="0.7" height="28.98" fill="#c0141f" />
<rect x="177.2" y="305.91" width="0.7" height="41.49" fill="#c0141f" />
<rect x="177.9" y="296.6" width="0.7" height="50.8" fill="#c0141f" />
<rect x="177.5" y="264.8" width="0.8" height="31.8" fill="#d88c93" />
<line x1="27" y1="347.6" x2="179" y2="347.6" stroke="#222" stroke-width="0.8" />
<rect x="27.2" y="347.9" width="8" height="2.5" fill="#111" />
<rect x="35.2" y="347.9" width="143.8" height="3" fill="#c8101c" />
<text x="26.2" y="357" font-size="5.3" font-weight="bold" fill="#111"  textLength="18.4" lengthAdjust="spacingAndGlyphs">Control</text>
<text x="89.8" y="357.2" font-size="5.8" font-weight="bold" font-style="italic" fill="#111"  textLength="47" lengthAdjust="spacingAndGlyphs">Multiple Myeloma</text>
<line x1="213.8" y1="237.8" x2="213.8" y2="327.7" stroke="#000" stroke-width="1" />
<line x1="213.3" y1="327.2" x2="346.2" y2="327.2" stroke="#000" stroke-width="1" />
<line x1="211.6" y1="239.15" x2="213.8" y2="239.15" stroke="#000" stroke-width="1" />
<text x="210.2" y="241.05" font-size="6.3" font-weight="bold" text-anchor="end" fill="#111"  stroke="#111" stroke-width="0.15">15</text>
<line x1="211.6" y1="268.5" x2="213.8" y2="268.5" stroke="#000" stroke-width="1" />
<text x="210.2" y="270.4" font-size="6.3" font-weight="bold" text-anchor="end" fill="#111"  stroke="#111" stroke-width="0.15">10</text>
<line x1="211.6" y1="297.85" x2="213.8" y2="297.85" stroke="#000" stroke-width="1" />
<text x="210.2" y="299.75" font-size="6.3" font-weight="bold" text-anchor="end" fill="#111"  stroke="#111" stroke-width="0.15">5</text>
<line x1="211.6" y1="327.2" x2="213.8" y2="327.2" stroke="#000" stroke-width="1" />
<text x="210.2" y="329.1" font-size="6.3" font-weight="bold" text-anchor="end" fill="#111"  stroke="#111" stroke-width="0.15">0</text>
<line x1="222.2" y1="327.2" x2="222.2" y2="329.4" stroke="#000" stroke-width="1" />
<line x1="222.2" y1="273.3" x2="222.2" y2="276" stroke="#111" stroke-width="1.25" />
<line x1="222.2" y1="283.8" x2="222.2" y2="287.2" stroke="#111" stroke-width="1.25" />
<line x1="219.5" y1="273.3" x2="224.9" y2="273.3" stroke="#111" stroke-width="1.25" />
<line x1="219.5" y1="287.2" x2="224.9" y2="287.2" stroke="#111" stroke-width="1.25" />
<rect x="216.9" y="276" width="10.6" height="7.8" fill="#3a46a2" stroke="#111" stroke-width="1.6" />
<line x1="217.6" y1="279.4" x2="226.8" y2="279.4" stroke="#8a92d0" stroke-width="0.8" />
<line x1="238.9" y1="327.2" x2="238.9" y2="329.4" stroke="#000" stroke-width="1" />
<line x1="238.9" y1="258.1" x2="238.9" y2="272.2" stroke="#111" stroke-width="1.25" />
<line x1="238.9" y1="277.4" x2="238.9" y2="282" stroke="#111" stroke-width="1.25" />
<line x1="236.2" y1="258.1" x2="241.6" y2="258.1" stroke="#111" stroke-width="1.25" />
<line x1="236.2" y1="282" x2="241.6" y2="282" stroke="#111" stroke-width="1.25" />
<rect x="233.6" y="272.2" width="10.6" height="5.2" fill="#c4b656" stroke="#111" stroke-width="1.6" />
<line x1="234.3" y1="274.6" x2="243.5" y2="274.6" stroke="#e6dc98" stroke-width="0.8" />
<circle cx="238.9" cy="253.9" r="1" fill="#111"/>
<line x1="255.1" y1="327.2" x2="255.1" y2="329.4" stroke="#000" stroke-width="1" />
<line x1="255.1" y1="269" x2="255.1" y2="275.1" stroke="#111" stroke-width="1.25" />
<line x1="255.1" y1="280.3" x2="255.1" y2="287.2" stroke="#111" stroke-width="1.25" />
<line x1="252.4" y1="269" x2="257.8" y2="269" stroke="#111" stroke-width="1.25" />
<line x1="252.4" y1="287.2" x2="257.8" y2="287.2" stroke="#111" stroke-width="1.25" />
<rect x="249.8" y="275.1" width="10.6" height="5.2" fill="#7c9c36" stroke="#111" stroke-width="1.6" />
<line x1="250.5" y1="277.8" x2="259.7" y2="277.8" stroke="#c0d688" stroke-width="0.8" />
<line x1="272.1" y1="327.2" x2="272.1" y2="329.4" stroke="#000" stroke-width="1" />
<line x1="272.1" y1="263.3" x2="272.1" y2="273.5" stroke="#111" stroke-width="1.25" />
<line x1="272.1" y1="279.4" x2="272.1" y2="286.9" stroke="#111" stroke-width="1.25" />
<line x1="269.4" y1="263.3" x2="274.8" y2="263.3" stroke="#111" stroke-width="1.25" />
<line x1="269.4" y1="286.9" x2="274.8" y2="286.9" stroke="#111" stroke-width="1.25" />
<rect x="266.8" y="273.5" width="10.6" height="5.9" fill="#961c22" stroke="#111" stroke-width="1.6" />
<line x1="267.5" y1="276.1" x2="276.7" y2="276.1" stroke="#d06a6a" stroke-width="0.8" />
<circle cx="272.1" cy="258" r="1" fill="#111"/>
<line x1="288.2" y1="327.2" x2="288.2" y2="329.4" stroke="#000" stroke-width="1" />
<line x1="288.2" y1="270.4" x2="288.2" y2="273.5" stroke="#111" stroke-width="1.25" />
<line x1="288.2" y1="278.8" x2="288.2" y2="281.9" stroke="#111" stroke-width="1.25" />
<line x1="285.5" y1="270.4" x2="290.9" y2="270.4" stroke="#111" stroke-width="1.25" />
<line x1="285.5" y1="281.9" x2="290.9" y2="281.9" stroke="#111" stroke-width="1.25" />
<rect x="282.9" y="273.5" width="10.6" height="5.3" fill="#981c22" stroke="#111" stroke-width="1.6" />
<line x1="283.6" y1="276" x2="292.8" y2="276" stroke="#d06a6a" stroke-width="0.8" />
<circle cx="286" cy="266.9" r="1" fill="#111"/>
<circle cx="290.7" cy="266.9" r="1" fill="#111"/>
<line x1="304.7" y1="327.2" x2="304.7" y2="329.4" stroke="#000" stroke-width="1" />
<line x1="304.7" y1="258.3" x2="304.7" y2="271.7" stroke="#111" stroke-width="1.25" />
<line x1="304.7" y1="281.2" x2="304.7" y2="283.3" stroke="#111" stroke-width="1.25" />
<line x1="302" y1="258.3" x2="307.4" y2="258.3" stroke="#111" stroke-width="1.25" />
<line x1="302" y1="283.3" x2="307.4" y2="283.3" stroke="#111" stroke-width="1.25" />
<rect x="299.4" y="271.7" width="10.6" height="9.5" fill="#f0921e" stroke="#111" stroke-width="1.6" />
<line x1="300.1" y1="276.5" x2="309.3" y2="276.5" stroke="#7a3a0a" stroke-width="0.8" />
<line x1="321.2" y1="327.2" x2="321.2" y2="329.4" stroke="#000" stroke-width="1" />
<line x1="321.2" y1="252.5" x2="321.2" y2="273.5" stroke="#111" stroke-width="1.25" />
<line x1="321.2" y1="279.4" x2="321.2" y2="286" stroke="#111" stroke-width="1.25" />
<line x1="318.5" y1="252.5" x2="323.9" y2="252.5" stroke="#111" stroke-width="1.25" />
<line x1="318.5" y1="286" x2="323.9" y2="286" stroke="#111" stroke-width="1.25" />
<rect x="315.9" y="273.5" width="10.6" height="5.9" fill="#402a88" stroke="#111" stroke-width="1.6" />
<line x1="316.6" y1="276.3" x2="325.8" y2="276.3" stroke="#8070c0" stroke-width="0.8" />
<line x1="337.4" y1="327.2" x2="337.4" y2="329.4" stroke="#000" stroke-width="1" />
<line x1="337.4" y1="265" x2="337.4" y2="274" stroke="#111" stroke-width="1.25" />
<line x1="337.4" y1="278.3" x2="337.4" y2="283.7" stroke="#111" stroke-width="1.25" />
<line x1="334.7" y1="265" x2="340.1" y2="265" stroke="#111" stroke-width="1.25" />
<line x1="334.7" y1="283.7" x2="340.1" y2="283.7" stroke="#111" stroke-width="1.25" />
<rect x="332.1" y="274" width="10.6" height="4.3" fill="#acae4c" stroke="#111" stroke-width="1.6" />
<line x1="332.8" y1="276.1" x2="342" y2="276.1" stroke="#dcdc9c" stroke-width="0.8" />
<circle cx="337.4" cy="261.1" r="1" fill="#111"/>
<text x="0" y="0" font-size="7.4" font-weight="bold" text-anchor="end" fill="#111" transform="translate(222.8,336.42) rotate(-45)"  stroke="#111" stroke-width="0.3" textLength="36.54" lengthAdjust="spacingAndGlyphs">Control (14)</text>
<text x="0" y="0" font-size="7.4" font-weight="bold" text-anchor="end" fill="#111" transform="translate(239.5,336.42) rotate(-45)"  stroke="#111" stroke-width="0.3" textLength="28.58" lengthAdjust="spacingAndGlyphs">CD-1 (21)</text>
<text x="0" y="0" font-size="7.4" font-weight="bold" text-anchor="end" fill="#111" transform="translate(255.7,336.42) rotate(-45)"  stroke="#111" stroke-width="0.3" textLength="28.58" lengthAdjust="spacingAndGlyphs">CD-2 (35)</text>
<text x="0" y="0" font-size="7.4" font-weight="bold" text-anchor="end" fill="#111" transform="translate(272.7,336.42) rotate(-45)"  stroke="#111" stroke-width="0.3" textLength="22.32" lengthAdjust="spacingAndGlyphs">HY (67)</text>
<text x="0" y="0" font-size="7.4" font-weight="bold" text-anchor="end" fill="#111" transform="translate(288.8,336.42) rotate(-45)"  stroke="#111" stroke-width="0.3" textLength="22.07" lengthAdjust="spacingAndGlyphs">LB (25)</text>
<text x="0" y="0" font-size="7.4" font-weight="bold" text-anchor="end" fill="#111" transform="translate(305.3,336.42) rotate(-45)"  stroke="#111" stroke-width="0.3" textLength="22.79" lengthAdjust="spacingAndGlyphs">MF (14)</text>
<text x="0" y="0" font-size="7.4" font-weight="bold" text-anchor="end" fill="#111" transform="translate(321.8,336.42) rotate(-45)"  stroke="#111" stroke-width="0.3" textLength="23.16" lengthAdjust="spacingAndGlyphs">MS (33)</text>
<text x="0" y="0" font-size="7.4" font-weight="bold" text-anchor="end" fill="#111" transform="translate(338,336.42) rotate(-45)"  stroke="#111" stroke-width="0.3" textLength="22.43" lengthAdjust="spacingAndGlyphs">PR (31)</text>
<text x="0" y="0" font-size="7.2" font-weight="bold" text-anchor="middle" fill="#111" transform="translate(189.3,282.5) rotate(-90)"  stroke="#111" stroke-width="0.2" textLength="48.8" lengthAdjust="spacingAndGlyphs">CCN1 [pg/mL]</text>
<text x="0" y="0" font-size="7.2" font-weight="bold" text-anchor="middle" fill="#111" transform="translate(198.3,282.6) rotate(-90)"  stroke="#111" stroke-width="0.15">log<tspan font-size="4.6" dy="1.2">2</tspan></text>
<line x1="382.5" y1="235" x2="382.5" y2="326.1" stroke="#000" stroke-width="1" />
<line x1="382" y1="325.6" x2="517.6" y2="325.6" stroke="#000" stroke-width="1.1" />
<line x1="380.3" y1="235.45" x2="382.5" y2="235.45" stroke="#000" stroke-width="1" />
<text x="379" y="237.35" font-size="6.3" font-weight="bold" text-anchor="end" fill="#111"  stroke="#111" stroke-width="0.15">15</text>
<line x1="380.3" y1="265.5" x2="382.5" y2="265.5" stroke="#000" stroke-width="1" />
<text x="379" y="267.4" font-size="6.3" font-weight="bold" text-anchor="end" fill="#111"  stroke="#111" stroke-width="0.15">10</text>
<line x1="380.3" y1="295.55" x2="382.5" y2="295.55" stroke="#000" stroke-width="1" />
<text x="379" y="297.45" font-size="6.3" font-weight="bold" text-anchor="end" fill="#111"  stroke="#111" stroke-width="0.15">5</text>
<line x1="380.3" y1="325.6" x2="382.5" y2="325.6" stroke="#000" stroke-width="1" />
<text x="379" y="327.5" font-size="6.3" font-weight="bold" text-anchor="end" fill="#111"  stroke="#111" stroke-width="0.15">0</text>
<line x1="392.2" y1="325.6" x2="392.2" y2="327.8" stroke="#000" stroke-width="1" />
<line x1="411.6" y1="325.6" x2="411.6" y2="327.8" stroke="#000" stroke-width="1" />
<line x1="431" y1="325.6" x2="431" y2="327.8" stroke="#000" stroke-width="1" />
<line x1="450.4" y1="325.6" x2="450.4" y2="327.8" stroke="#000" stroke-width="1" />
<line x1="469.8" y1="325.6" x2="469.8" y2="327.8" stroke="#000" stroke-width="1" />
<line x1="489.2" y1="325.6" x2="489.2" y2="327.8" stroke="#000" stroke-width="1" />
<line x1="508.6" y1="325.6" x2="508.6" y2="327.8" stroke="#000" stroke-width="1" />
<text x="0" y="0" font-size="7.2" font-weight="bold" text-anchor="end" fill="#111" transform="translate(392.6,336.12) rotate(-43)"  stroke="#111" stroke-width="0.3" textLength="35.55" lengthAdjust="spacingAndGlyphs">Control (14)</text>
<text x="0" y="0" font-size="7.2" font-weight="bold" text-anchor="end" fill="#111" transform="translate(412,336.12) rotate(-43)"  stroke="#111" stroke-width="0.3" textLength="32.03" lengthAdjust="spacingAndGlyphs">MGUS (39)</text>
<text x="0" y="0" font-size="7.2" font-weight="bold" text-anchor="end" fill="#111" transform="translate(431.4,336.12) rotate(-43)"  stroke="#111" stroke-width="0.3" textLength="28.16" lengthAdjust="spacingAndGlyphs">AMM (50)</text>
<text x="0" y="0" font-size="7.2" font-weight="bold" text-anchor="end" fill="#111" transform="translate(450.8,336.12) rotate(-43)"  stroke="#111" stroke-width="0.3" textLength="27.11" lengthAdjust="spacingAndGlyphs">MM (279)</text>
<text x="0" y="0" font-size="7.2" font-weight="bold" text-anchor="end" fill="#111" transform="translate(470.2,336.12) rotate(-43)"  stroke="#111" stroke-width="0.3" textLength="37.32" lengthAdjust="spacingAndGlyphs">near CR (35)</text>
<text x="0" y="0" font-size="7.2" font-weight="bold" text-anchor="end" fill="#111" transform="translate(489.6,336.12) rotate(-43)"  stroke="#111" stroke-width="0.3" textLength="25.7" lengthAdjust="spacingAndGlyphs">CR (153)</text>
<text x="0" y="0" font-size="7.2" font-weight="bold" text-anchor="end" fill="#111" transform="translate(509,336.12) rotate(-43)"  stroke="#111" stroke-width="0.3" textLength="37.33" lengthAdjust="spacingAndGlyphs">Relapse (43)</text>
<text x="0" y="0" font-size="7.2" font-weight="bold" text-anchor="middle" fill="#111" transform="translate(357,279.8) rotate(-90)"  stroke="#111" stroke-width="0.2" textLength="48.3" lengthAdjust="spacingAndGlyphs">CCN1 [pg/mL]</text>
<text x="0" y="0" font-size="7.2" font-weight="bold" text-anchor="middle" fill="#111" transform="translate(367.3,278.3) rotate(-90)"  stroke="#111" stroke-width="0.15">log<tspan font-size="4.6" dy="1.2">2</tspan></text>
<text x="390" y="313.5" font-size="6.6" fill="#111"  stroke="#111" stroke-width="0.15" textLength="50" lengthAdjust="spacingAndGlyphs">a=p val vs. control</text>
<text x="390" y="321.3" font-size="6.6" fill="#111"  stroke="#111" stroke-width="0.15" textLength="66.2" lengthAdjust="spacingAndGlyphs">b=p val vs. MM baseline</text>
<circle cx="389.83" cy="274.69" r="1.5" fill="#111"/>
<circle cx="391.6" cy="274.59" r="1.5" fill="#111"/>
<circle cx="392.92" cy="274.75" r="1.5" fill="#111"/>
<circle cx="394.75" cy="274.61" r="1.5" fill="#111"/>
<circle cx="388.58" cy="275.97" r="1.5" fill="#111"/>
<circle cx="390.19" cy="276.04" r="1.5" fill="#111"/>
<circle cx="392.34" cy="275.88" r="1.5" fill="#111"/>
<circle cx="394.31" cy="275.97" r="1.5" fill="#111"/>
<circle cx="395.89" cy="275.87" r="1.5" fill="#111"/>
<circle cx="388.48" cy="277.72" r="1.5" fill="#111"/>
<circle cx="390.04" cy="277.66" r="1.5" fill="#111"/>
<circle cx="391.25" cy="277.51" r="1.5" fill="#111"/>
<circle cx="393.11" cy="277.41" r="1.5" fill="#111"/>
<circle cx="394.97" cy="277.53" r="1.5" fill="#111"/>
<circle cx="396.2" cy="277.76" r="1.5" fill="#111"/>
<circle cx="387.77" cy="279.31" r="1.5" fill="#111"/>
<circle cx="389.67" cy="279.13" r="1.5" fill="#111"/>
<circle cx="391.35" cy="279.09" r="1.5" fill="#111"/>
<circle cx="393.01" cy="278.87" r="1.5" fill="#111"/>
<circle cx="395.09" cy="278.97" r="1.5" fill="#111"/>
<circle cx="396.79" cy="278.95" r="1.5" fill="#111"/>
<circle cx="389.01" cy="280.8" r="1.5" fill="#111"/>
<circle cx="390.67" cy="280.73" r="1.5" fill="#111"/>
<circle cx="392.34" cy="280.71" r="1.5" fill="#111"/>
<circle cx="393.87" cy="280.59" r="1.5" fill="#111"/>
<circle cx="395.98" cy="280.45" r="1.5" fill="#111"/>
<circle cx="390.05" cy="282.29" r="1.5" fill="#111"/>
<circle cx="391.43" cy="282.03" r="1.5" fill="#111"/>
<circle cx="393.1" cy="282.04" r="1.5" fill="#111"/>
<circle cx="395.01" cy="282.04" r="1.5" fill="#111"/>
<circle cx="390.72" cy="283.4" r="1.5" fill="#111"/>
<circle cx="392.41" cy="283.85" r="1.5" fill="#111"/>
<circle cx="393.64" cy="283.6" r="1.5" fill="#111"/>
<circle cx="391.89" cy="285.22" r="1.5" fill="#111"/>
<circle cx="392.6" cy="285.15" r="1.5" fill="#111"/>
<circle cx="388.3" cy="271" r="1.85" fill="#111"/>
<circle cx="392.5" cy="271.5" r="1.85" fill="#111"/>
<circle cx="396.6" cy="271" r="1.85" fill="#111"/>
<circle cx="386.6" cy="277.8" r="0.9" fill="#111"/>
<circle cx="398.2" cy="277.8" r="0.9" fill="#111"/>
<polygon points="408.23,265.26 411.83,265.26 410.03,262.2" fill="#111"/>
<polygon points="409.23,265.69 412.83,265.69 411.03,262.63" fill="#111"/>
<polygon points="410.78,265.25 414.38,265.25 412.58,262.19" fill="#111"/>
<polygon points="412.48,265.36 416.08,265.36 414.28,262.3" fill="#111"/>
<polygon points="406.79,266.81 410.39,266.81 408.59,263.75" fill="#111"/>
<polygon points="408.63,266.85 412.23,266.85 410.43,263.79" fill="#111"/>
<polygon points="410.25,267.16 413.85,267.16 412.05,264.1" fill="#111"/>
<polygon points="412.09,267.15 415.69,267.15 413.89,264.09" fill="#111"/>
<polygon points="413.9,266.71 417.5,266.71 415.7,263.65" fill="#111"/>
<polygon points="406.43,268.48 410.03,268.48 408.23,265.42" fill="#111"/>
<polygon points="407.73,268.29 411.33,268.29 409.53,265.23" fill="#111"/>
<polygon points="409.58,268.48 413.18,268.48 411.38,265.42" fill="#111"/>
<polygon points="411.21,268.58 414.81,268.58 413.01,265.52" fill="#111"/>
<polygon points="412.81,268.47 416.41,268.47 414.61,265.41" fill="#111"/>
<polygon points="414.26,268.5 417.86,268.5 416.06,265.44" fill="#111"/>
<polygon points="405.88,270.17 409.48,270.17 407.68,267.11" fill="#111"/>
<polygon points="407.59,270.08 411.19,270.08 409.39,267.02" fill="#111"/>
<polygon points="409.59,270.02 413.19,270.02 411.39,266.96" fill="#111"/>
<polygon points="410.86,270.1 414.46,270.1 412.66,267.04" fill="#111"/>
<polygon points="412.8,269.78 416.4,269.78 414.6,266.72" fill="#111"/>
<polygon points="414.17,269.96 417.77,269.96 415.97,266.9" fill="#111"/>
<polygon points="405.77,271.65 409.37,271.65 407.57,268.59" fill="#111"/>
<polygon points="407.68,271.45 411.28,271.45 409.48,268.39" fill="#111"/>
<polygon points="409.31,271.52 412.91,271.52 411.11,268.46" fill="#111"/>
<polygon points="411.25,271.34 414.85,271.34 413.05,268.28" fill="#111"/>
<polygon points="412.66,271.48 416.26,271.48 414.46,268.42" fill="#111"/>
<polygon points="414.3,271.49 417.9,271.49 416.1,268.43" fill="#111"/>
<polygon points="406.02,272.91 409.62,272.91 407.82,269.85" fill="#111"/>
<polygon points="407.77,272.95 411.37,272.95 409.57,269.89" fill="#111"/>
<polygon points="409.15,273.19 412.75,273.19 410.95,270.13" fill="#111"/>
<polygon points="410.97,272.91 414.57,272.91 412.77,269.85" fill="#111"/>
<polygon points="412.67,273.15 416.27,273.15 414.47,270.09" fill="#111"/>
<polygon points="414.63,272.95 418.23,272.95 416.43,269.89" fill="#111"/>
<polygon points="406.3,274.24 409.9,274.24 408.1,271.18" fill="#111"/>
<polygon points="408.09,274.28 411.69,274.28 409.89,271.22" fill="#111"/>
<polygon points="409.45,274.36 413.05,274.36 411.25,271.3" fill="#111"/>
<polygon points="410.88,274.37 414.48,274.37 412.68,271.31" fill="#111"/>
<polygon points="412.36,274.21 415.96,274.21 414.16,271.15" fill="#111"/>
<polygon points="414.07,274.59 417.67,274.59 415.87,271.53" fill="#111"/>
<polygon points="406.95,275.79 410.55,275.79 408.75,272.73" fill="#111"/>
<polygon points="408.63,275.72 412.23,275.72 410.43,272.66" fill="#111"/>
<polygon points="410.16,276.1 413.76,276.1 411.96,273.04" fill="#111"/>
<polygon points="412.07,275.92 415.67,275.92 413.87,272.86" fill="#111"/>
<polygon points="413.7,275.94 417.3,275.94 415.5,272.88" fill="#111"/>
<polygon points="407.41,277.48 411.01,277.48 409.21,274.42" fill="#111"/>
<polygon points="409.51,277.56 413.11,277.56 411.31,274.5" fill="#111"/>
<polygon points="411.12,277.55 414.72,277.55 412.92,274.49" fill="#111"/>
<polygon points="413.07,277.37 416.67,277.37 414.87,274.31" fill="#111"/>
<polygon points="408.38,279.1 411.98,279.1 410.18,276.04" fill="#111"/>
<polygon points="410.25,279.16 413.85,279.16 412.05,276.1" fill="#111"/>
<polygon points="411.93,278.94 415.53,278.94 413.73,275.88" fill="#111"/>
<polygon points="409.13,280.36 412.73,280.36 410.93,277.3" fill="#111"/>
<polygon points="411.17,280.54 414.77,280.54 412.97,277.48" fill="#111"/>
<polygon points="406.7,264.6 410.7,264.6 408.7,261.2" fill="#111"/>
<polygon points="412.8,264.6 416.8,264.6 414.8,261.2" fill="#111"/>
<polygon points="410,252.44 413.6,252.44 411.8,249.38" fill="#111"/>
<text x="411.6" y="244" font-size="6.8" text-anchor="middle" fill="#111"  stroke="#111" stroke-width="0.1">b</text>
<polygon points="425.41,263.98 429.01,263.98 427.21,267.04" fill="#111"/>
<polygon points="427.08,263.55 430.68,263.55 428.88,266.61" fill="#111"/>
<polygon points="428.61,263.72 432.21,263.72 430.41,266.78" fill="#111"/>
<polygon points="430.26,263.58 433.86,263.58 432.06,266.64" fill="#111"/>
<polygon points="431.77,263.73 435.37,263.73 433.57,266.79" fill="#111"/>
<polygon points="433.46,263.74 437.06,263.74 435.26,266.8" fill="#111"/>
<polygon points="424.96,265.05 428.56,265.05 426.76,268.11" fill="#111"/>
<polygon points="426.99,265.22 430.59,265.22 428.79,268.28" fill="#111"/>
<polygon points="428.57,265.38 432.17,265.38 430.37,268.44" fill="#111"/>
<polygon points="430.17,265.04 433.77,265.04 431.97,268.1" fill="#111"/>
<polygon points="432.06,265.3 435.66,265.3 433.86,268.36" fill="#111"/>
<polygon points="433.68,265.32 437.28,265.32 435.48,268.38" fill="#111"/>
<polygon points="425.5,266.69 429.1,266.69 427.3,269.75" fill="#111"/>
<polygon points="427.05,266.69 430.65,266.69 428.85,269.75" fill="#111"/>
<polygon points="428.61,266.84 432.21,266.84 430.41,269.9" fill="#111"/>
<polygon points="430.14,266.55 433.74,266.55 431.94,269.61" fill="#111"/>
<polygon points="431.87,266.87 435.47,266.87 433.67,269.93" fill="#111"/>
<polygon points="433.59,266.73 437.19,266.73 435.39,269.79" fill="#111"/>
<polygon points="425.78,268.1 429.38,268.1 427.58,271.16" fill="#111"/>
<polygon points="427.39,268.17 430.99,268.17 429.19,271.23" fill="#111"/>
<polygon points="429.56,268.11 433.16,268.11 431.36,271.17" fill="#111"/>
<polygon points="431.05,268.06 434.65,268.06 432.85,271.12" fill="#111"/>
<polygon points="432.86,268.15 436.46,268.15 434.66,271.21" fill="#111"/>
<polygon points="426.2,269.92 429.8,269.92 428,272.98" fill="#111"/>
<polygon points="427.7,269.69 431.3,269.69 429.5,272.75" fill="#111"/>
<polygon points="429.29,269.66 432.89,269.66 431.09,272.72" fill="#111"/>
<polygon points="431.16,269.78 434.76,269.78 432.96,272.84" fill="#111"/>
<polygon points="432.52,269.56 436.12,269.56 434.32,272.62" fill="#111"/>
<polygon points="426.77,271.36 430.37,271.36 428.57,274.42" fill="#111"/>
<polygon points="428.64,271.13 432.24,271.13 430.44,274.19" fill="#111"/>
<polygon points="430.35,271.47 433.95,271.47 432.15,274.53" fill="#111"/>
<polygon points="432.22,271.48 435.82,271.48 434.02,274.54" fill="#111"/>
<polygon points="426.95,273 430.55,273 428.75,276.06" fill="#111"/>
<polygon points="428.42,272.72 432.02,272.72 430.22,275.78" fill="#111"/>
<polygon points="429.92,272.91 433.52,272.91 431.72,275.97" fill="#111"/>
<polygon points="431.78,273 435.38,273 433.58,276.06" fill="#111"/>
<polygon points="427.75,274.48 431.35,274.48 429.55,277.54" fill="#111"/>
<polygon points="429.42,274.5 433.02,274.5 431.22,277.56" fill="#111"/>
<polygon points="431.32,274.18 434.92,274.18 433.12,277.24" fill="#111"/>
<polygon points="428.46,275.7 432.06,275.7 430.26,278.76" fill="#111"/>
<polygon points="430.43,275.55 434.03,275.55 432.23,278.61" fill="#111"/>
<polygon points="428.85,277.11 432.45,277.11 430.65,280.17" fill="#111"/>
<polygon points="430.15,277.49 433.75,277.49 431.95,280.55" fill="#111"/>
<polygon points="429.26,278.56 432.86,278.56 431.06,281.62" fill="#111"/>
<polygon points="429.41,280.09 433.01,280.09 431.21,283.15" fill="#111"/>
<polygon points="429.6,259.16 433.2,259.16 431.4,262.22" fill="#111"/>
<text x="429.5" y="254.2" font-size="6.8" text-anchor="middle" fill="#111"  stroke="#111" stroke-width="0.1">a</text>
<polygon points="449.11,259.17 450.91,260.97 449.11,262.77 447.31,260.97" fill="#111"/>
<polygon points="450.54,259.25 452.34,261.05 450.54,262.85 448.74,261.05" fill="#111"/>
<polygon points="452.25,259.09 454.05,260.89 452.25,262.69 450.45,260.89" fill="#111"/>
<polygon points="447.77,260.63 449.57,262.43 447.77,264.23 445.97,262.43" fill="#111"/>
<polygon points="449.62,260.6 451.42,262.4 449.62,264.2 447.82,262.4" fill="#111"/>
<polygon points="451.72,260.63 453.52,262.43 451.72,264.23 449.92,262.43" fill="#111"/>
<polygon points="453.39,260.68 455.19,262.48 453.39,264.28 451.59,262.48" fill="#111"/>
<polygon points="447.48,261.81 449.28,263.61 447.48,265.41 445.68,263.61" fill="#111"/>
<polygon points="448.98,262.23 450.78,264.03 448.98,265.83 447.18,264.03" fill="#111"/>
<polygon points="450.82,261.97 452.62,263.77 450.82,265.57 449.02,263.77" fill="#111"/>
<polygon points="452.34,262.23 454.14,264.03 452.34,265.83 450.54,264.03" fill="#111"/>
<polygon points="453.96,262.13 455.76,263.93 453.96,265.73 452.16,263.93" fill="#111"/>
<polygon points="446.9,263.33 448.7,265.13 446.9,266.93 445.1,265.13" fill="#111"/>
<polygon points="448.23,263.4 450.03,265.2 448.23,267 446.43,265.2" fill="#111"/>
<polygon points="449.93,263.43 451.73,265.23 449.93,267.03 448.13,265.23" fill="#111"/>
<polygon points="451.69,263.71 453.49,265.51 451.69,267.31 449.89,265.51" fill="#111"/>
<polygon points="452.99,263.7 454.79,265.5 452.99,267.3 451.19,265.5" fill="#111"/>
<polygon points="454.45,263.3 456.25,265.1 454.45,266.9 452.65,265.1" fill="#111"/>
<polygon points="446.54,265.15 448.34,266.95 446.54,268.75 444.74,266.95" fill="#111"/>
<polygon points="448.32,265.25 450.12,267.05 448.32,268.85 446.52,267.05" fill="#111"/>
<polygon points="450.03,264.88 451.83,266.68 450.03,268.48 448.23,266.68" fill="#111"/>
<polygon points="451.67,265.21 453.47,267.01 451.67,268.81 449.87,267.01" fill="#111"/>
<polygon points="453.04,265 454.84,266.8 453.04,268.6 451.24,266.8" fill="#111"/>
<polygon points="454.77,264.82 456.57,266.62 454.77,268.42 452.97,266.62" fill="#111"/>
<polygon points="446.37,266.59 448.17,268.39 446.37,270.19 444.57,268.39" fill="#111"/>
<polygon points="448.35,266.32 450.15,268.12 448.35,269.92 446.55,268.12" fill="#111"/>
<polygon points="449.84,266.75 451.64,268.55 449.84,270.35 448.04,268.55" fill="#111"/>
<polygon points="451.7,266.52 453.5,268.32 451.7,270.12 449.9,268.32" fill="#111"/>
<polygon points="453.16,266.57 454.96,268.37 453.16,270.17 451.36,268.37" fill="#111"/>
<polygon points="454.9,266.57 456.7,268.37 454.9,270.17 453.1,268.37" fill="#111"/>
<polygon points="446.38,267.95 448.18,269.75 446.38,271.55 444.58,269.75" fill="#111"/>
<polygon points="448.21,267.95 450.01,269.75 448.21,271.55 446.41,269.75" fill="#111"/>
<polygon points="449.81,268.17 451.61,269.97 449.81,271.77 448.01,269.97" fill="#111"/>
<polygon points="451.45,267.84 453.25,269.64 451.45,271.44 449.65,269.64" fill="#111"/>
<polygon points="453.37,267.97 455.17,269.77 453.37,271.57 451.57,269.77" fill="#111"/>
<polygon points="455.28,267.87 457.08,269.67 455.28,271.47 453.48,269.67" fill="#111"/>
<polygon points="446.17,269.28 447.97,271.08 446.17,272.88 444.37,271.08" fill="#111"/>
<polygon points="447.7,269.41 449.5,271.21 447.7,273.01 445.9,271.21" fill="#111"/>
<polygon points="449.19,269.63 450.99,271.43 449.19,273.23 447.39,271.43" fill="#111"/>
<polygon points="450.47,269.74 452.27,271.54 450.47,273.34 448.67,271.54" fill="#111"/>
<polygon points="452.29,269.66 454.09,271.46 452.29,273.26 450.49,271.46" fill="#111"/>
<polygon points="453.7,269.54 455.5,271.34 453.7,273.14 451.9,271.34" fill="#111"/>
<polygon points="455.12,269.45 456.92,271.25 455.12,273.05 453.32,271.25" fill="#111"/>
<polygon points="446.14,270.9 447.94,272.7 446.14,274.5 444.34,272.7" fill="#111"/>
<polygon points="447.65,270.92 449.45,272.72 447.65,274.52 445.85,272.72" fill="#111"/>
<polygon points="449.43,271.15 451.23,272.95 449.43,274.75 447.63,272.95" fill="#111"/>
<polygon points="450.77,270.76 452.57,272.56 450.77,274.36 448.97,272.56" fill="#111"/>
<polygon points="452.05,271.02 453.85,272.82 452.05,274.62 450.25,272.82" fill="#111"/>
<polygon points="453.74,270.96 455.54,272.76 453.74,274.56 451.94,272.76" fill="#111"/>
<polygon points="455.19,271.2 456.99,273 455.19,274.8 453.39,273" fill="#111"/>
<polygon points="446.31,272.44 448.11,274.24 446.31,276.04 444.51,274.24" fill="#111"/>
<polygon points="448.27,272.41 450.07,274.21 448.27,276.01 446.47,274.21" fill="#111"/>
<polygon points="449.96,272.45 451.76,274.25 449.96,276.05 448.16,274.25" fill="#111"/>
<polygon points="451.31,272.48 453.11,274.28 451.31,276.08 449.51,274.28" fill="#111"/>
<polygon points="453.05,272.64 454.85,274.44 453.05,276.24 451.25,274.44" fill="#111"/>
<polygon points="455.14,272.51 456.94,274.31 455.14,276.11 453.34,274.31" fill="#111"/>
<polygon points="446.78,273.86 448.58,275.66 446.78,277.46 444.98,275.66" fill="#111"/>
<polygon points="448.2,273.84 450,275.64 448.2,277.44 446.4,275.64" fill="#111"/>
<polygon points="449.65,274.16 451.45,275.96 449.65,277.76 447.85,275.96" fill="#111"/>
<polygon points="451.3,274.22 453.1,276.02 451.3,277.82 449.5,276.02" fill="#111"/>
<polygon points="453.2,274.1 455,275.9 453.2,277.7 451.4,275.9" fill="#111"/>
<polygon points="454.59,274.2 456.39,276 454.59,277.8 452.79,276" fill="#111"/>
<polygon points="446.88,275.3 448.68,277.1 446.88,278.9 445.08,277.1" fill="#111"/>
<polygon points="448.16,275.32 449.96,277.12 448.16,278.92 446.36,277.12" fill="#111"/>
<polygon points="449.91,275.29 451.71,277.09 449.91,278.89 448.11,277.09" fill="#111"/>
<polygon points="451.64,275.5 453.44,277.3 451.64,279.1 449.84,277.3" fill="#111"/>
<polygon points="453.18,275.38 454.98,277.18 453.18,278.98 451.38,277.18" fill="#111"/>
<polygon points="454.75,275.48 456.55,277.28 454.75,279.08 452.95,277.28" fill="#111"/>
<polygon points="446.95,276.96 448.75,278.76 446.95,280.56 445.15,278.76" fill="#111"/>
<polygon points="448.65,277.17 450.45,278.97 448.65,280.77 446.85,278.97" fill="#111"/>
<polygon points="450.1,276.92 451.9,278.72 450.1,280.52 448.3,278.72" fill="#111"/>
<polygon points="451.31,276.83 453.11,278.63 451.31,280.43 449.51,278.63" fill="#111"/>
<polygon points="452.81,277.23 454.61,279.03 452.81,280.83 451.01,279.03" fill="#111"/>
<polygon points="454.41,277.19 456.21,278.99 454.41,280.79 452.61,278.99" fill="#111"/>
<polygon points="447.42,278.56 449.22,280.36 447.42,282.16 445.62,280.36" fill="#111"/>
<polygon points="449,278.4 450.8,280.2 449,282 447.2,280.2" fill="#111"/>
<polygon points="450.82,278.55 452.62,280.35 450.82,282.15 449.02,280.35" fill="#111"/>
<polygon points="452.5,278.37 454.3,280.17 452.5,281.97 450.7,280.17" fill="#111"/>
<polygon points="453.74,278.28 455.54,280.08 453.74,281.88 451.94,280.08" fill="#111"/>
<polygon points="448.16,280.24 449.96,282.04 448.16,283.84 446.36,282.04" fill="#111"/>
<polygon points="449.93,279.99 451.73,281.79 449.93,283.59 448.13,281.79" fill="#111"/>
<polygon points="451.42,280.13 453.22,281.93 451.42,283.73 449.62,281.93" fill="#111"/>
<polygon points="453.19,279.83 454.99,281.63 453.19,283.43 451.39,281.63" fill="#111"/>
<polygon points="448.88,281.34 450.68,283.14 448.88,284.94 447.08,283.14" fill="#111"/>
<polygon points="450.86,281.62 452.66,283.42 450.86,285.22 449.06,283.42" fill="#111"/>
<polygon points="452.16,281.37 453.96,283.17 452.16,284.97 450.36,283.17" fill="#111"/>
<polygon points="450.04,283.09 451.84,284.89 450.04,286.69 448.24,284.89" fill="#111"/>
<polygon points="451.39,282.87 453.19,284.67 451.39,286.47 449.59,284.67" fill="#111"/>
<polygon points="450.4,247.6 452.2,249.4 450.4,251.2 448.6,249.4" fill="#111"/>
<polygon points="447.4,255 449.2,256.8 447.4,258.6 445.6,256.8" fill="#111"/>
<polygon points="453.6,255 455.4,256.8 453.6,258.6 451.8,256.8" fill="#111"/>
<polygon points="446.6,257.9 448.2,259.5 446.6,261.1 445,259.5" fill="#111"/>
<text x="450" y="242.2" font-size="6.8" text-anchor="middle" fill="#111"  stroke="#111" stroke-width="0.1">a</text>
<circle cx="466.04" cy="268.71" r="1.5" fill="#111"/>
<circle cx="467.91" cy="268.36" r="1.5" fill="#111"/>
<circle cx="469.57" cy="268.57" r="1.5" fill="#111"/>
<circle cx="470.79" cy="268.73" r="1.5" fill="#111"/>
<circle cx="472.54" cy="268.4" r="1.5" fill="#111"/>
<circle cx="474.26" cy="268.54" r="1.5" fill="#111"/>
<circle cx="466" cy="270.19" r="1.5" fill="#111"/>
<circle cx="467.96" cy="270.11" r="1.5" fill="#111"/>
<circle cx="469.55" cy="270.16" r="1.5" fill="#111"/>
<circle cx="471.16" cy="269.94" r="1.5" fill="#111"/>
<circle cx="472.53" cy="270.08" r="1.5" fill="#111"/>
<circle cx="474.01" cy="270.34" r="1.5" fill="#111"/>
<circle cx="466.35" cy="271.5" r="1.5" fill="#111"/>
<circle cx="467.89" cy="271.66" r="1.5" fill="#111"/>
<circle cx="469.26" cy="271.53" r="1.5" fill="#111"/>
<circle cx="470.96" cy="271.49" r="1.5" fill="#111"/>
<circle cx="472.58" cy="271.71" r="1.5" fill="#111"/>
<circle cx="473.93" cy="271.89" r="1.5" fill="#111"/>
<circle cx="466.56" cy="273.14" r="1.5" fill="#111"/>
<circle cx="468.65" cy="273.16" r="1.5" fill="#111"/>
<circle cx="470.16" cy="273.33" r="1.5" fill="#111"/>
<circle cx="471.87" cy="273.3" r="1.5" fill="#111"/>
<circle cx="473.61" cy="273.29" r="1.5" fill="#111"/>
<circle cx="467.17" cy="275.06" r="1.5" fill="#111"/>
<circle cx="469.15" cy="274.67" r="1.5" fill="#111"/>
<circle cx="471.09" cy="275.06" r="1.5" fill="#111"/>
<circle cx="473.08" cy="274.88" r="1.5" fill="#111"/>
<circle cx="468.09" cy="276.36" r="1.5" fill="#111"/>
<circle cx="470.26" cy="276.43" r="1.5" fill="#111"/>
<circle cx="472.08" cy="276.32" r="1.5" fill="#111"/>
<circle cx="468.86" cy="278.19" r="1.5" fill="#111"/>
<circle cx="471.53" cy="278.23" r="1.5" fill="#111"/>
<circle cx="470" cy="259.3" r="1.55" fill="#fff" stroke="#111" stroke-width="1"/>
<circle cx="466.8" cy="264.6" r="1.55" fill="#fff" stroke="#111" stroke-width="1"/>
<circle cx="473" cy="264.6" r="1.55" fill="#fff" stroke="#111" stroke-width="1"/>
<circle cx="470" cy="266" r="1.55" fill="#fff" stroke="#111" stroke-width="1"/>
<circle cx="470" cy="280.8" r="1.55" fill="#fff" stroke="#111" stroke-width="1"/>
<text x="467.9" y="252.3" font-size="6.8" text-anchor="middle" fill="#111"  stroke="#111" stroke-width="0.1">a</text>
<rect x="483.72" y="259.85" width="3" height="3" fill="#111" />
<rect x="485.15" y="260.05" width="3" height="3" fill="#111" />
<rect x="486.78" y="260.14" width="3" height="3" fill="#111" />
<rect x="488.83" y="259.77" width="3" height="3" fill="#111" />
<rect x="490.49" y="260" width="3" height="3" fill="#111" />
<rect x="492.17" y="260.23" width="3" height="3" fill="#111" />
<rect x="494.04" y="259.95" width="3" height="3" fill="#111" />
<rect x="483.62" y="261.84" width="3" height="3" fill="#111" />
<rect x="485.44" y="261.46" width="3" height="3" fill="#111" />
<rect x="487.17" y="261.56" width="3" height="3" fill="#111" />
<rect x="488.51" y="261.75" width="3" height="3" fill="#111" />
<rect x="490.62" y="261.93" width="3" height="3" fill="#111" />
<rect x="492.13" y="261.86" width="3" height="3" fill="#111" />
<rect x="493.72" y="261.93" width="3" height="3" fill="#111" />
<rect x="483.19" y="263.42" width="3" height="3" fill="#111" />
<rect x="484.91" y="263.17" width="3" height="3" fill="#111" />
<rect x="486.65" y="263.45" width="3" height="3" fill="#111" />
<rect x="488.73" y="263.56" width="3" height="3" fill="#111" />
<rect x="490.68" y="263.36" width="3" height="3" fill="#111" />
<rect x="492.48" y="263.25" width="3" height="3" fill="#111" />
<rect x="494.29" y="263.28" width="3" height="3" fill="#111" />
<rect x="483.46" y="265.04" width="3" height="3" fill="#111" />
<rect x="485.02" y="265.11" width="3" height="3" fill="#111" />
<rect x="486.66" y="264.89" width="3" height="3" fill="#111" />
<rect x="488.72" y="265.21" width="3" height="3" fill="#111" />
<rect x="490.29" y="265.05" width="3" height="3" fill="#111" />
<rect x="492.27" y="265.24" width="3" height="3" fill="#111" />
<rect x="494.41" y="264.9" width="3" height="3" fill="#111" />
<rect x="483.38" y="266.6" width="3" height="3" fill="#111" />
<rect x="485.28" y="267.02" width="3" height="3" fill="#111" />
<rect x="487.02" y="266.84" width="3" height="3" fill="#111" />
<rect x="488.47" y="266.6" width="3" height="3" fill="#111" />
<rect x="490.35" y="266.59" width="3" height="3" fill="#111" />
<rect x="492.08" y="267.03" width="3" height="3" fill="#111" />
<rect x="493.97" y="267" width="3" height="3" fill="#111" />
<rect x="483.6" y="268.64" width="3" height="3" fill="#111" />
<rect x="485.42" y="268.6" width="3" height="3" fill="#111" />
<rect x="486.88" y="268.48" width="3" height="3" fill="#111" />
<rect x="488.65" y="268.27" width="3" height="3" fill="#111" />
<rect x="490.22" y="268.53" width="3" height="3" fill="#111" />
<rect x="492.2" y="268.74" width="3" height="3" fill="#111" />
<rect x="493.99" y="268.66" width="3" height="3" fill="#111" />
<rect x="483.57" y="270.24" width="3" height="3" fill="#111" />
<rect x="485.44" y="269.97" width="3" height="3" fill="#111" />
<rect x="486.75" y="270.16" width="3" height="3" fill="#111" />
<rect x="488.6" y="270.16" width="3" height="3" fill="#111" />
<rect x="490.19" y="270.03" width="3" height="3" fill="#111" />
<rect x="491.91" y="270.25" width="3" height="3" fill="#111" />
<rect x="493.59" y="269.96" width="3" height="3" fill="#111" />
<rect x="484.08" y="271.86" width="3" height="3" fill="#111" />
<rect x="485.64" y="272.12" width="3" height="3" fill="#111" />
<rect x="487.75" y="272.12" width="3" height="3" fill="#111" />
<rect x="489.72" y="271.92" width="3" height="3" fill="#111" />
<rect x="491.47" y="271.7" width="3" height="3" fill="#111" />
<rect x="493.64" y="271.87" width="3" height="3" fill="#111" />
<rect x="484.37" y="273.42" width="3" height="3" fill="#111" />
<rect x="486.21" y="273.84" width="3" height="3" fill="#111" />
<rect x="487.8" y="273.75" width="3" height="3" fill="#111" />
<rect x="489.65" y="273.61" width="3" height="3" fill="#111" />
<rect x="491.32" y="273.72" width="3" height="3" fill="#111" />
<rect x="493.15" y="273.37" width="3" height="3" fill="#111" />
<rect x="484.77" y="275.17" width="3" height="3" fill="#111" />
<rect x="486.61" y="275.19" width="3" height="3" fill="#111" />
<rect x="488.67" y="275.16" width="3" height="3" fill="#111" />
<rect x="490.58" y="275.05" width="3" height="3" fill="#111" />
<rect x="492.66" y="275.41" width="3" height="3" fill="#111" />
<rect x="485.83" y="276.86" width="3" height="3" fill="#111" />
<rect x="487.94" y="276.82" width="3" height="3" fill="#111" />
<rect x="489.71" y="276.77" width="3" height="3" fill="#111" />
<rect x="491.43" y="277.09" width="3" height="3" fill="#111" />
<rect x="487.22" y="278.85" width="3" height="3" fill="#111" />
<rect x="488.92" y="278.94" width="3" height="3" fill="#111" />
<rect x="489.98" y="278.69" width="3" height="3" fill="#111" />
<rect x="486.2" y="242" width="3.2" height="3.2" fill="#fff" stroke="#111" stroke-width="1" />
<rect x="491.2" y="246.4" width="3.2" height="3.2" fill="#fff" stroke="#111" stroke-width="1" />
<rect x="482.1" y="251.7" width="3.2" height="3.2" fill="#fff" stroke="#111" stroke-width="1" />
<rect x="493.6" y="251.1" width="3.2" height="3.2" fill="#fff" stroke="#111" stroke-width="1" />
<rect x="487" y="254.9" width="3.2" height="3.2" fill="#fff" stroke="#111" stroke-width="1" />
<rect x="491.4" y="254.7" width="3.2" height="3.2" fill="#fff" stroke="#111" stroke-width="1" />
<rect x="484.1" y="256.9" width="3.2" height="3.2" fill="#fff" stroke="#111" stroke-width="1" />
<rect x="489.1" y="257.9" width="3.2" height="3.2" fill="#fff" stroke="#111" stroke-width="1" />
<text x="485.8" y="236.9" font-size="6.8" text-anchor="middle" fill="#111"  stroke="#111" stroke-width="0.1">b</text>
<polygon points="503.67,265.54 507.27,265.54 505.47,262.48" fill="#111"/>
<polygon points="505.58,265.29 509.18,265.29 507.38,262.23" fill="#111"/>
<polygon points="506.88,265.6 510.48,265.6 508.68,262.54" fill="#111"/>
<polygon points="508.77,265.38 512.37,265.38 510.57,262.32" fill="#111"/>
<polygon points="510.76,265.28 514.36,265.28 512.56,262.22" fill="#111"/>
<polygon points="503.43,266.94 507.03,266.94 505.23,263.88" fill="#111"/>
<polygon points="504.56,267.15 508.16,267.15 506.36,264.09" fill="#111"/>
<polygon points="506.36,266.73 509.96,266.73 508.16,263.67" fill="#111"/>
<polygon points="508.04,267.08 511.64,267.08 509.84,264.02" fill="#111"/>
<polygon points="509.55,267.02 513.15,267.02 511.35,263.96" fill="#111"/>
<polygon points="511.22,266.7 514.82,266.7 513.02,263.64" fill="#111"/>
<polygon points="503.09,268.51 506.69,268.51 504.89,265.45" fill="#111"/>
<polygon points="504.43,268.5 508.03,268.5 506.23,265.44" fill="#111"/>
<polygon points="506.17,268.52 509.77,268.52 507.97,265.46" fill="#111"/>
<polygon points="508.05,268.45 511.65,268.45 509.85,265.39" fill="#111"/>
<polygon points="509.45,268.39 513.05,268.39 511.25,265.33" fill="#111"/>
<polygon points="511.25,268.56 514.85,268.56 513.05,265.5" fill="#111"/>
<polygon points="502.83,270.08 506.43,270.08 504.63,267.02" fill="#111"/>
<polygon points="504.43,269.78 508.03,269.78 506.23,266.72" fill="#111"/>
<polygon points="506.31,269.82 509.91,269.82 508.11,266.76" fill="#111"/>
<polygon points="508.25,269.78 511.85,269.78 510.05,266.72" fill="#111"/>
<polygon points="510.02,269.7 513.62,269.7 511.82,266.64" fill="#111"/>
<polygon points="511.72,269.86 515.32,269.86 513.52,266.8" fill="#111"/>
<polygon points="502.7,271.4 506.3,271.4 504.5,268.34" fill="#111"/>
<polygon points="504.34,271.41 507.94,271.41 506.14,268.35" fill="#111"/>
<polygon points="506.37,271.37 509.97,271.37 508.17,268.31" fill="#111"/>
<polygon points="507.92,271.58 511.52,271.58 509.72,268.52" fill="#111"/>
<polygon points="509.6,271.37 513.2,271.37 511.4,268.31" fill="#111"/>
<polygon points="511.54,271.45 515.14,271.45 513.34,268.39" fill="#111"/>
<polygon points="502.55,273.07 506.15,273.07 504.35,270.01" fill="#111"/>
<polygon points="504.46,272.74 508.06,272.74 506.26,269.68" fill="#111"/>
<polygon points="506.14,272.72 509.74,272.72 507.94,269.66" fill="#111"/>
<polygon points="507.9,272.75 511.5,272.75 509.7,269.69" fill="#111"/>
<polygon points="509.61,272.97 513.21,272.97 511.41,269.91" fill="#111"/>
<polygon points="511.58,272.84 515.18,272.84 513.38,269.78" fill="#111"/>
<polygon points="502.75,274.45 506.35,274.45 504.55,271.39" fill="#111"/>
<polygon points="504.54,274.64 508.14,274.64 506.34,271.58" fill="#111"/>
<polygon points="506.09,274.58 509.69,274.58 507.89,271.52" fill="#111"/>
<polygon points="507.99,274.64 511.59,274.64 509.79,271.58" fill="#111"/>
<polygon points="509.79,274.19 513.39,274.19 511.59,271.13" fill="#111"/>
<polygon points="511.21,274.59 514.81,274.59 513.01,271.53" fill="#111"/>
<polygon points="502.86,276 506.46,276 504.66,272.94" fill="#111"/>
<polygon points="504.41,275.97 508.01,275.97 506.21,272.91" fill="#111"/>
<polygon points="506.23,275.92 509.83,275.92 508.03,272.86" fill="#111"/>
<polygon points="507.68,276.14 511.28,276.14 509.48,273.08" fill="#111"/>
<polygon points="509.76,276.06 513.36,276.06 511.56,273" fill="#111"/>
<polygon points="511.3,275.8 514.9,275.8 513.1,272.74" fill="#111"/>
<polygon points="503.29,277.61 506.89,277.61 505.09,274.55" fill="#111"/>
<polygon points="505.18,277.38 508.78,277.38 506.98,274.32" fill="#111"/>
<polygon points="507.29,277.36 510.89,277.36 509.09,274.3" fill="#111"/>
<polygon points="509.18,277.28 512.78,277.28 510.98,274.22" fill="#111"/>
<polygon points="510.94,277.34 514.54,277.34 512.74,274.28" fill="#111"/>
<polygon points="503.74,278.92 507.34,278.92 505.54,275.86" fill="#111"/>
<polygon points="505.67,278.74 509.27,278.74 507.47,275.68" fill="#111"/>
<polygon points="507.15,279.12 510.75,279.12 508.95,276.06" fill="#111"/>
<polygon points="508.46,278.94 512.06,278.94 510.26,275.88" fill="#111"/>
<polygon points="510.19,278.92 513.79,278.92 511.99,275.86" fill="#111"/>
<polygon points="504.57,280.41 508.17,280.41 506.37,277.35" fill="#111"/>
<polygon points="506.1,280.29 509.7,280.29 507.9,277.23" fill="#111"/>
<polygon points="508.16,280.27 511.76,280.27 509.96,277.21" fill="#111"/>
<polygon points="509.91,280.69 513.51,280.69 511.71,277.63" fill="#111"/>
<polygon points="505.82,282.14 509.42,282.14 507.62,279.08" fill="#111"/>
<polygon points="506.91,281.99 510.51,281.99 508.71,278.93" fill="#111"/>
<polygon points="508.53,281.73 512.13,281.73 510.33,278.67" fill="#111"/>
<polygon points="506.8,250.04 510.4,250.04 508.6,246.98" fill="#fff" stroke="#111" stroke-width="1"/>
<polygon points="501.4,263.04 505,263.04 503.2,259.98" fill="#fff" stroke="#111" stroke-width="1"/>
<polygon points="505.4,263.04 509,263.04 507.2,259.98" fill="#fff" stroke="#111" stroke-width="1"/>
<polygon points="510.6,262.44 514.2,262.44 512.4,259.38" fill="#fff" stroke="#111" stroke-width="1"/>
<text x="506" y="242.4" font-size="6.8" text-anchor="middle" fill="#111"  stroke="#111" stroke-width="0.1">a, b</text>
<circle cx="390.1" cy="278.23" r="0.46" fill="#fff"/>
<circle cx="394.02" cy="276.99" r="0.49" fill="#fff"/>
<circle cx="393.49" cy="278.06" r="0.59" fill="#fff"/>
<circle cx="392.12" cy="282.51" r="0.55" fill="#fff"/>
<circle cx="390.22" cy="279.91" r="0.72" fill="#fff"/>
<circle cx="391.42" cy="277.99" r="0.64" fill="#fff"/>
<circle cx="393.32" cy="276.22" r="0.7" fill="#fff"/>
<circle cx="415.35" cy="269.4" r="0.59" fill="#fff"/>
<circle cx="411.34" cy="275.07" r="0.54" fill="#fff"/>
<circle cx="407.46" cy="268.5" r="0.47" fill="#fff"/>
<circle cx="411.89" cy="277.86" r="0.56" fill="#fff"/>
<circle cx="412.49" cy="276.7" r="0.74" fill="#fff"/>
<circle cx="409.21" cy="269.65" r="0.72" fill="#fff"/>
<circle cx="414.05" cy="267.09" r="0.61" fill="#fff"/>
<circle cx="415.33" cy="277.78" r="0.63" fill="#fff"/>
<circle cx="407.6" cy="265.48" r="0.57" fill="#fff"/>
<circle cx="408.08" cy="275.66" r="0.55" fill="#fff"/>
<circle cx="410" cy="266.12" r="0.4" fill="#fff"/>
<circle cx="411.8" cy="269.29" r="0.47" fill="#fff"/>
<circle cx="407.87" cy="275.23" r="0.47" fill="#fff"/>
<circle cx="410.79" cy="268.35" r="0.67" fill="#fff"/>
<circle cx="432.48" cy="269.89" r="0.72" fill="#fff"/>
<circle cx="433.77" cy="267.44" r="0.61" fill="#fff"/>
<circle cx="431.82" cy="274.22" r="0.54" fill="#fff"/>
<circle cx="428.29" cy="267.06" r="0.46" fill="#fff"/>
<circle cx="428.31" cy="267.95" r="0.47" fill="#fff"/>
<circle cx="433.06" cy="272.17" r="0.68" fill="#fff"/>
<circle cx="428.09" cy="275.31" r="0.69" fill="#fff"/>
<circle cx="427.75" cy="268.05" r="0.5" fill="#fff"/>
<circle cx="427.56" cy="272.44" r="0.48" fill="#fff"/>
<circle cx="433.45" cy="270.39" r="0.54" fill="#fff"/>
<circle cx="430.02" cy="270.55" r="0.43" fill="#fff"/>
<circle cx="434.22" cy="275.68" r="0.65" fill="#fff"/>
<circle cx="449.86" cy="270.77" r="0.51" fill="#fff"/>
<circle cx="451.87" cy="276.4" r="0.51" fill="#fff"/>
<circle cx="452.52" cy="281.23" r="0.48" fill="#fff"/>
<circle cx="452.07" cy="279.8" r="0.49" fill="#fff"/>
<circle cx="452.81" cy="268.52" r="0.43" fill="#fff"/>
<circle cx="454.85" cy="271.63" r="0.49" fill="#fff"/>
<circle cx="454.31" cy="273.07" r="0.71" fill="#fff"/>
<circle cx="450.72" cy="279.34" r="0.73" fill="#fff"/>
<circle cx="454.06" cy="267.65" r="0.54" fill="#fff"/>
<circle cx="451.47" cy="276.48" r="0.5" fill="#fff"/>
<circle cx="451.4" cy="276.92" r="0.75" fill="#fff"/>
<circle cx="449.82" cy="276.67" r="0.53" fill="#fff"/>
<circle cx="448.92" cy="281.52" r="0.63" fill="#fff"/>
<circle cx="454.86" cy="277.28" r="0.47" fill="#fff"/>
<circle cx="447.25" cy="276.63" r="0.62" fill="#fff"/>
<circle cx="452.73" cy="276.46" r="0.7" fill="#fff"/>
<circle cx="453.86" cy="267.09" r="0.52" fill="#fff"/>
<circle cx="446.68" cy="270.8" r="0.59" fill="#fff"/>
<circle cx="448.58" cy="262.03" r="0.64" fill="#fff"/>
<circle cx="447.21" cy="278.45" r="0.67" fill="#fff"/>
<circle cx="447.57" cy="271.77" r="0.66" fill="#fff"/>
<circle cx="450.09" cy="278.26" r="0.59" fill="#fff"/>
<circle cx="451.66" cy="275.64" r="0.67" fill="#fff"/>
<circle cx="447.52" cy="278.92" r="0.41" fill="#fff"/>
<circle cx="448.55" cy="264.31" r="0.6" fill="#fff"/>
<circle cx="449.6" cy="283.15" r="0.53" fill="#fff"/>
<circle cx="454.7" cy="274.26" r="0.61" fill="#fff"/>
<circle cx="452.86" cy="268.49" r="0.75" fill="#fff"/>
<circle cx="469.15" cy="275.35" r="0.46" fill="#fff"/>
<circle cx="467.42" cy="272.69" r="0.45" fill="#fff"/>
<circle cx="472.04" cy="272.57" r="0.65" fill="#fff"/>
<circle cx="472.71" cy="272.35" r="0.46" fill="#fff"/>
<circle cx="468.35" cy="271" r="0.6" fill="#fff"/>
<circle cx="469.05" cy="276.12" r="0.69" fill="#fff"/>
<circle cx="469.67" cy="276.5" r="0.71" fill="#fff"/>
<circle cx="469.65" cy="276.11" r="0.46" fill="#fff"/>
<circle cx="486.49" cy="263.27" r="0.56" fill="#fff"/>
<circle cx="487.43" cy="262.26" r="0.57" fill="#fff"/>
<circle cx="491.63" cy="267.71" r="0.6" fill="#fff"/>
<circle cx="490.59" cy="271.06" r="0.6" fill="#fff"/>
<circle cx="485.73" cy="269.04" r="0.61" fill="#fff"/>
<circle cx="484.38" cy="262.81" r="0.52" fill="#fff"/>
<circle cx="491.86" cy="265.91" r="0.46" fill="#fff"/>
<circle cx="491.23" cy="269.46" r="0.55" fill="#fff"/>
<circle cx="485.22" cy="275.69" r="0.46" fill="#fff"/>
<circle cx="487.8" cy="266.68" r="0.6" fill="#fff"/>
<circle cx="489.81" cy="265.37" r="0.65" fill="#fff"/>
<circle cx="492.48" cy="273.09" r="0.43" fill="#fff"/>
<circle cx="491.54" cy="273.52" r="0.69" fill="#fff"/>
<circle cx="484.9" cy="264.55" r="0.67" fill="#fff"/>
<circle cx="485.73" cy="272.99" r="0.7" fill="#fff"/>
<circle cx="490.4" cy="274.19" r="0.67" fill="#fff"/>
<circle cx="487.54" cy="272.39" r="0.42" fill="#fff"/>
<circle cx="490.5" cy="267.82" r="0.47" fill="#fff"/>
<circle cx="485.16" cy="265.05" r="0.57" fill="#fff"/>
<circle cx="491.6" cy="278.43" r="0.4" fill="#fff"/>
<circle cx="491.09" cy="268.41" r="0.43" fill="#fff"/>
<circle cx="486.45" cy="275.51" r="0.56" fill="#fff"/>
<circle cx="493.09" cy="275.48" r="0.43" fill="#fff"/>
<circle cx="493.1" cy="275.89" r="0.69" fill="#fff"/>
<circle cx="507.43" cy="276.61" r="0.51" fill="#fff"/>
<circle cx="507.65" cy="265.68" r="0.51" fill="#fff"/>
<circle cx="512.68" cy="267.38" r="0.71" fill="#fff"/>
<circle cx="506.72" cy="277.15" r="0.44" fill="#fff"/>
<circle cx="504.67" cy="271.41" r="0.52" fill="#fff"/>
<circle cx="506.92" cy="274.1" r="0.52" fill="#fff"/>
<circle cx="511.63" cy="269.9" r="0.41" fill="#fff"/>
<circle cx="509.61" cy="277.21" r="0.59" fill="#fff"/>
<circle cx="504.17" cy="275.4" r="0.7" fill="#fff"/>
<circle cx="507.68" cy="269.33" r="0.58" fill="#fff"/>
<circle cx="506.1" cy="278.52" r="0.58" fill="#fff"/>
<circle cx="505.95" cy="279.87" r="0.63" fill="#fff"/>
<circle cx="509.22" cy="267.46" r="0.55" fill="#fff"/>
<circle cx="504.26" cy="273.48" r="0.47" fill="#fff"/>
<circle cx="505.65" cy="278.51" r="0.51" fill="#fff"/>
<circle cx="506.34" cy="279.84" r="0.6" fill="#fff"/>
<circle cx="504.03" cy="271.46" r="0.63" fill="#fff"/>
<circle cx="512.62" cy="272.54" r="0.74" fill="#fff"/>
<polygon points="447.8,261.2 453.6,261.2 450.7,264.2" fill="#fff"/>
</svg>
</body></html>
